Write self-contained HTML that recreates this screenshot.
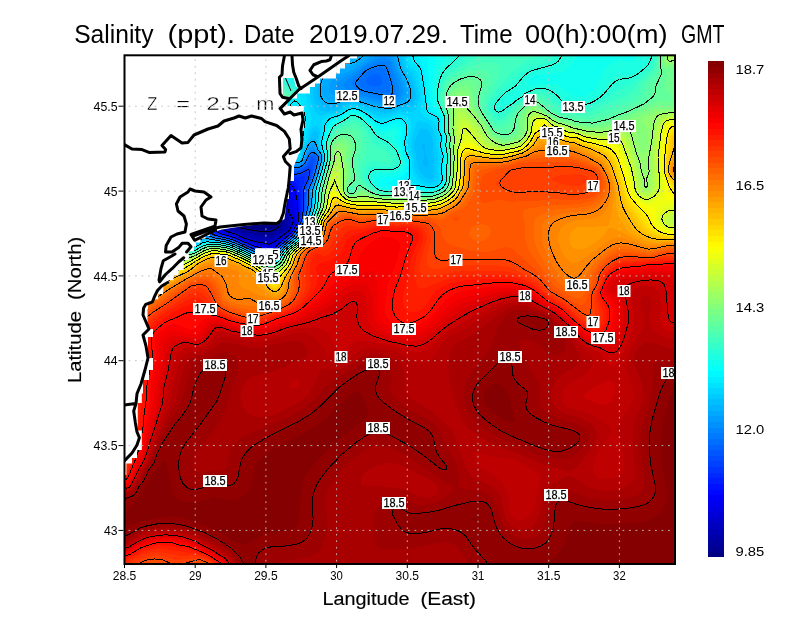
<!DOCTYPE html><html><head><meta charset="utf-8"><title>Salinity</title>
<style>html,body{margin:0;padding:0;background:#fff;}body{width:800px;height:618px;overflow:hidden;font-family:"Liberation Sans",sans-serif;}svg{display:block;}text{font-family:"Liberation Sans",sans-serif;}</style></head><body>
<svg width="800" height="618" viewBox="0 0 800 618">
<rect width="800" height="618" fill="#fff"/>
<defs><clipPath id="pc"><rect x="124.5" y="55.3" width="550.5" height="508.7"/></clipPath></defs>
<g clip-path="url(#pc)">
<rect x="124.5" y="55.3" width="550.5" height="508.7" fill="#000085"/>
<g shape-rendering="crispEdges"><path fill="#000091" d="M122.5,51.3 678.5,51.3 678.5,567.3 120.5,567.3 120.5,51.3ZM233.3,197.3 228.1,201.3 225.3,207.3 225.1,211.3 225.9,215.3 228,219.3 229.8,221.3 234.5,224.1 244.5,227.5 260.5,230 268.5,229.8 272.5,228.8 275.2,227.3 277,225.3 277.7,223.3 277.6,219.3 274.1,211.3 268.5,204.6 260.5,199.6 252.5,196.7 242.5,195.4 234.5,196.8Z"/>
<path fill="#00009c" d="M122.5,51.3 678.5,51.3 678.5,567.3 120.5,567.3 120.5,51.3ZM237.6,191.3 232.5,192.3 228.5,194 224.5,197.2 221.9,201.3 220.8,205.3 220.9,211.3 222.5,216.8 224.5,220.4 227.2,223.3 230.3,225.3 242.5,229.8 250.5,230.8 258.5,232.8 268.5,233.1 272.5,232.4 276.5,230.6 280.5,227.4 281.5,225.3 281.4,219.3 275.7,207.3 270.2,201.3 260.5,195.6 248.5,192 238.5,191.2Z"/>
<path fill="#0000a8" d="M122.5,51.3 678.5,51.3 678.5,567.3 120.5,567.3 120.5,51.3ZM236,187.3 230.5,188.1 224.5,190.7 221.3,193.3 218.5,197.3 216.8,203.3 216.9,209.3 218.6,215.3 221.9,221.3 224.5,224.3 228.5,226.9 244.5,232.7 250.5,233.1 258.5,235.6 270.5,235.7 274.5,234.4 280,231.3 282.6,229.3 284.9,225.3 284.6,219.3 280.1,209.3 276.6,203.3 270.1,197.3 258.5,191.5 246.5,188.1 236.5,187.3Z"/>
<path fill="#0000b4" d="M122.5,51.3 678.5,51.3 678.5,567.3 120.5,567.3 120.5,51.3ZM224.7,185.3 220.5,187.6 216.5,191.4 214.3,195.3 212.9,201.3 212.9,205.3 214.2,211.3 216.7,217.3 220.6,223.3 226.5,227.9 236.5,231.2 244.5,234.8 250.5,235.7 258.5,238 268.5,238.4 272.5,237.7 280.3,233.3 285.6,229.3 287,227.3 288,223.3 287.4,219.3 281.1,205.3 277,199.3 272.5,195.4 266.5,191.9 250.5,185.7 236.5,183.5 226.5,184.7Z"/>
<path fill="#0000bf" d="M122.5,51.3 678.5,51.3 678.5,567.3 120.5,567.3 120.5,51.3ZM222.5,181.3 218.2,183.3 213.5,187.3 211,191.3 209.2,197.3 209.2,203.3 210.5,209.3 214.1,217.3 218.2,223.3 222.2,227.3 225.9,229.3 236.5,232.7 244.5,236.4 258.5,240.1 268.5,240.9 272.5,240 287.9,229.3 290.4,223.3 290,219.3 286.4,213.3 283,203.3 280.5,199 276.5,195 270.5,191 260.5,186.3 250.5,182.7 242.5,180.7 234.5,179.8 228.5,180 222.5,181.3Z"/>
<path fill="#0000cb" d="M122.5,51.3 678.5,51.3 678.5,567.3 120.5,567.3 120.5,51.3ZM220.1,177.3 214.5,179.9 210.4,183.3 206.7,189.3 205.2,195.3 205.3,201.3 206.7,207.3 209.3,213.3 214.5,221.3 219.9,227.3 222.8,229.3 236.5,234 243.2,237.3 256.5,241.5 266.5,243 270.5,242.8 274.5,240.9 288.5,230.3 290.5,227.5 292.5,222.2 292.4,219.3 288.3,213.3 285.7,203.3 282.6,197.3 278.7,193.3 272.5,189.3 262.5,184.4 250.5,179.8 234.5,176.2 226.5,176.1 220.5,177.2Z"/>
<path fill="#0000d6" d="M122.5,51.3 678.5,51.3 678.5,567.3 120.5,567.3 120.5,51.3ZM217.3,173.3 210.5,176.4 206.5,179.9 203.1,185.3 201.4,191.3 201.2,197.3 202.2,203.3 205.4,211.3 209.2,217.3 217.9,227.3 222.5,230.3 254.5,242.2 266.5,244.9 270.5,244.9 274.5,242.6 288.9,231.3 290.7,229.3 294.4,221.3 294.2,219.3 289.4,211.3 287.6,201.3 284.5,195.4 280.3,191.3 273.9,187.3 260.5,181 248.5,176.3 232.5,172.4 224.5,172.1 218.5,173Z"/>
<path fill="#0000e2" d="M122.5,51.3 678.5,51.3 678.5,567.3 120.5,567.3 120.5,51.3ZM213.7,169.3 208.5,171.5 202.5,176.3 199.3,181.3 197.4,187.3 197,193.3 198.3,201.3 201.4,209.3 205.2,215.3 216,227.3 222.1,231.3 236.5,236.1 254.4,243.3 268.5,247 270.5,246.8 290.1,231.3 295.6,221.3 294.9,217.3 291.4,211.3 289.5,199.3 286.5,193.7 281.8,189.3 274.9,185.3 258.5,177.6 244.5,172 228.5,168.3 220.5,168.1 214.5,169.1Z"/>
<path fill="#0000ee" d="M122.5,51.3 678.5,51.3 678.5,567.3 120.5,567.3 120.5,51.3ZM209.2,165.3 202.5,168.6 198.5,172.3 195.2,177.3 193.3,183.3 192.7,191.3 194.1,199.3 197.3,207.3 201,213.3 212.2,225.3 219.9,231.3 234.5,236.1 252.5,243.6 268.5,248.5 270.5,248.5 290.5,231.8 296.6,221.3 296.3,217.3 293.6,211.3 292,199.3 288.5,192 284.5,188.2 278.5,184.7 254.5,173.3 240.5,167.6 232.5,165.3 224.5,164 216.5,163.8 210.5,164.9Z"/>
<path fill="#0000f9" d="M122.5,51.3 678.5,51.3 678.5,567.3 120.5,567.3 120.5,51.3ZM212.3,159.3 204.5,161 198.5,164.1 193.2,169.3 190,175.3 188.3,183.3 188.5,191.3 191.2,201.3 195.3,209.3 203.6,219.3 217.9,231.3 234.5,236.8 254.5,245.1 260.5,246.6 268.5,249.8 270.5,249.9 290.5,232.7 297.4,221.3 297.3,217.3 295.7,211.3 294.7,201.3 291.2,191.3 288.5,188.1 284.4,185.3 242.5,165.3 226.5,160.3 218.5,159.2 212.5,159.3Z"/>
<path fill="#0006ff" d="M122.5,51.3 678.5,51.3 678.5,567.3 120.5,567.3 120.5,51.3ZM202.7,155.3 196.5,157.8 190.5,162.4 186.5,168.2 184.1,175.3 183.4,183.3 184.4,191.3 187.7,201.3 192.1,209.3 201,219.3 216.5,231.5 234.5,237.5 252.8,245.3 270.5,251.1 290.7,233.3 298.1,221.3 296.6,201.3 294.5,192.5 292.5,188.4 289.2,185.3 285.5,183.3 246.5,164.1 234.5,158.9 226.5,156.3 218.5,154.6 210.5,154.2 204.5,154.9Z"/>
<path fill="#0011ff" d="M122.5,51.3 678.5,51.3 678.5,567.3 120.5,567.3 120.5,51.3ZM200.6,149.3 192.5,152 186.5,156.4 182.5,161.5 179.3,169.3 178.3,177.3 179.2,187.3 182.3,197.3 187.5,207.3 192,213.3 198.1,219.3 216.5,232.4 234.5,238.1 252.5,245.8 260.5,248.2 268.5,251.8 270.5,252 272.5,250.9 279.8,243.3 291.3,233.3 298.8,221.3 298.6,203.3 296.5,191.3 294.5,186.3 290.8,183.3 272.5,175.3 244.5,160 232.5,154.4 216.5,149.6 208.5,148.7 202.5,149Z"/>
<path fill="#001dff" d="M122.5,51.3 678.5,51.3 678.5,567.3 120.5,567.3 120.5,51.3ZM195.2,143.3 186.5,146.5 180.5,151.3 175.4,159.3 173.2,167.3 173,177.3 174.8,187.3 178.5,197.3 184.2,207.3 188.9,213.3 195.1,219.3 216.4,233.3 234.5,238.7 252.5,246.5 270.5,252.8 272.5,251.8 280.5,243.4 292,233.3 299.4,221.3 300.1,203.3 298.1,187.3 296.5,183.6 292.7,181.3 274.5,174.2 240.5,154.7 226.5,148 218.5,145.2 210.5,143.3 202.5,142.6 196.5,143Z"/>
<path fill="#0029ff" d="M122.5,51.3 678.5,51.3 678.5,567.3 120.5,567.3 120.5,51.3ZM186.1,137.3 178.5,141.2 172.5,147.5 168.7,155.3 166.9,165.3 167.3,175.3 170.3,187.3 174.6,197.3 180.7,207.3 185.6,213.3 191.9,219.3 214.7,233.3 232.5,238.5 252.5,247.1 262.5,250.4 268.5,253.3 270.5,253.5 272.5,252.5 280.5,244.1 292.5,233.5 299.2,223.3 300.5,219.3 301.4,205.3 300.1,181.3 298.5,180.1 284.5,176.7 274.5,172.3 236.5,148.8 218.5,140.1 208.5,137 200.5,135.8 192.5,135.9 186.5,137.2Z"/>
<path fill="#0034ff" d="M122.5,51.3 678.5,51.3 678.5,567.3 120.5,567.3 120.5,51.3ZM179.7,129.3 172.5,133 166.4,139.3 164,143.3 161.8,149.3 160.2,159.3 160.7,169.3 163.5,181.3 168.4,193.3 175.7,205.3 184.2,215.3 191.3,221.3 213.2,233.3 216.5,234.7 232.5,239 252.5,247.7 260.5,250.2 268.5,253.9 270.5,254.1 272.5,253.3 280.5,244.7 292.5,234.1 299.8,223.3 301.1,219.3 302.4,207.3 302,189.3 305.3,177.3 304.5,176.2 296.5,176.9 290.5,176.5 278.5,172.4 266.2,165.3 232.5,142.4 222.5,136.8 212.5,132.2 202.5,129 194.5,127.7 186.5,127.8 180.5,129Z"/>
<path fill="#0040ff" d="M122.5,51.3 678.5,51.3 678.5,567.3 120.5,567.3 120.5,51.3ZM173.6,119.3 168.5,121.4 164.5,124.1 158.5,130.9 154.5,140 152.7,151.3 153.5,163.3 157,177.3 163.1,191.3 170.5,203.3 177,211.3 182.9,217.3 194.4,225.3 206.5,230.4 214.5,234.7 232.5,239.5 252.5,248.2 268.5,254.4 270.5,254.6 273.2,253.3 280.6,245.3 292.5,234.8 300.4,223.3 301.7,219.3 303.4,207.3 303.4,189.3 304.5,185.3 307.7,179.3 308.5,172.8 306.5,171.8 298.5,174.6 294.5,175.1 288.5,174.4 282.5,172.4 269.6,165.3 232.5,137.9 212.5,125.9 202.5,121.5 192.5,118.7 182.5,117.8 174.5,119Z"/>
<path fill="#004bff" d="M122.5,51.3 678.5,51.3 678.5,567.3 120.5,567.3 120.5,51.3ZM164.7,107.3 156.5,111.8 150,119.3 145.8,129.3 144.6,135.3 144,143.3 145.4,157.3 149.1,171.3 155.2,185.3 163.7,199.3 169.9,207.3 177.4,215.3 184.4,221.3 190.6,225.3 206.5,231.4 214.5,235.4 232.5,240 252.5,248.7 270.5,255.2 273.9,253.3 281.2,245.3 292.5,235.4 300.9,223.3 302.3,219.3 304.4,207.3 304.6,189.3 309.7,177.3 311.3,169.3 310.5,166.9 308.5,167.3 300.5,172.3 296.5,173.3 290.5,173.2 282.5,170.7 275.9,167.3 267.1,161.3 228.5,130 216.5,121.4 206.5,115.4 194.5,109.7 184.5,106.7 174.5,105.7 166.5,106.8Z"/>
<path fill="#0057ff" d="M122.5,51.3 678.5,51.3 678.5,567.3 120.5,567.3 120.5,51.3ZM153.8,91.3 148.5,94 144.5,97.3 138.5,105.8 136.3,111.3 134.5,118.2 133.6,133.3 135.7,149.3 140.6,165.3 147.9,181.3 158,197.3 166.1,207.3 173.8,215.3 182.5,222.4 190.5,227.2 206.5,232.2 214.5,236 232.5,240.4 252.5,249.3 268.5,255.5 272.5,255 281.8,245.3 293.2,235.3 301.5,223.3 302.9,219.3 305.2,207.3 305.7,189.3 310.4,179.3 312.6,171.3 312.9,163.3 313.7,159.3 312.5,158.5 308,165.3 304.5,168.5 300.5,170.8 296.5,171.9 292.5,172 284.5,170 276.5,165.7 267.6,159.3 222.5,119 208.5,108 196.5,100.1 184.5,94 172.5,90.2 162.5,89.5 154.5,91Z"/>
<path fill="#0063ff" d="M122.5,51.3 678.5,51.3 678.5,567.3 120.5,567.3 120.5,140.1 124.5,145.3 136.7,171.3 147.6,189.3 162.2,207.3 177.4,221.3 184.5,226.1 190.9,229.3 206.5,233.1 214.5,236.6 230.5,240.2 252.5,249.7 268.5,255.9 270.5,256.1 274.5,254 282.4,245.3 292.5,236.6 302,223.3 306.1,207.3 306.7,189.3 311.2,179.3 316,159.3 315.9,157.3 314.5,155.9 312.5,155.9 310.5,157.3 307.8,163.3 304.5,167 300.5,169.5 296.5,170.6 288.5,169.9 278.8,165.3 270.6,159.3 261.6,151.3 220.5,109.5 200.5,90.8 182.5,77 174.5,72.1 166.5,68.3 154.5,65 148.5,64.8 142.5,65.8 134.5,69.9 122.5,82.4 120.5,83.5 120.5,51.3Z"/>
<path fill="#006eff" d="M184.5,51.3 678.5,51.3 678.5,567.3 120.5,567.3 120.5,161.1 122.5,162 126.5,166.2 141,187.3 154.3,203.3 166.5,215.3 179.5,225.3 186.5,229.3 191.6,231.3 206.5,233.9 214.5,237.2 230.5,240.6 252.5,250.2 266.5,255.7 270.5,256.6 274.5,254.6 282.5,245.7 292.5,237.2 302.6,223.3 306.9,207.3 307.6,189.3 312,179.3 317.1,159.3 316.5,155.8 314.5,154.5 312.5,154.4 310.5,155.5 309.2,157.3 306.4,163.3 304.5,165.6 300.5,168.3 294.5,169.5 290.5,169 284.5,166.8 273.3,159.3 258.9,145.3 238,121.3 187,59.3 184.4,55.3 183,51.3ZM370.4,75.3 366.7,79.3 366.2,81.3 366.7,83.3 369.4,85.3 372.5,86.1 376.5,86.3 380.5,85.3 382,83.3 382.3,81.3 381.3,77.3 379.8,75.3 376.5,73.9 370.5,75.2Z"/>
<path fill="#007aff" d="M202.5,51.3 678.5,51.3 678.5,567.3 120.5,567.3 120.5,172.5 122.5,173.3 126.5,176.6 142.3,195.3 156,209.3 167.6,219.3 180.5,228.1 186.8,231.3 192.5,233.2 206.5,234.7 213,237.3 230.5,241.1 252.5,250.7 266.5,256.2 270.5,257 274.5,255.3 282.5,246.3 293,237.3 303.2,223.3 307.6,207.3 308.5,189.3 312.8,179.3 318,159.3 317.3,155.3 314.5,153.4 312.5,153 310.5,153.9 309.2,155.3 305.3,163.3 303.4,165.3 298.5,168 294.5,168.4 290.5,167.7 284.5,165.3 278.5,161.3 271.6,155.3 262.2,145.3 252.3,133.3 229.3,101.3 217.9,83.3 207.7,65.3 203.8,57.3 202.2,51.3ZM378.5,67.3 370.5,69.7 364.9,73.3 358.7,81.3 358.3,83.3 358.8,85.3 362.5,88.8 366.5,90.2 386.5,93.4 388.5,92.7 390.3,89.3 390.2,85.3 388.5,78.2 386.5,72.4 384.5,69 382.5,67.6 378.5,67.3Z"/>
<path fill="#0085ff" d="M216.5,51.3 678.5,51.3 678.5,567.3 120.5,567.3 120.5,180.9 126.5,184.5 145.1,203.3 158.7,215.3 172.2,225.3 182.5,231.2 192.5,234.8 206.5,235.4 214.5,238.2 228.5,240.9 242.5,246.3 252.5,251.2 266.5,256.6 270.5,257.5 274.5,255.8 282.5,246.8 293.6,237.3 303.8,223.3 308.4,207.3 309.3,189.3 314.5,176 318.8,159.3 318.5,155.8 316.5,153.4 312.5,151.6 310.5,152.2 308,155.3 304.5,162.9 302.5,165 298.5,166.9 294.5,167.3 288.5,165.7 284,163.3 272.3,153.3 263.6,143.3 253.3,129.3 236,101.3 227.9,85.3 221.9,71.3 217.7,59.3 216.2,51.3ZM377,63.3 364.5,69.3 352.2,81.3 351.1,83.3 351.3,85.3 355.7,89.3 362.5,92.8 378.5,96.2 388.4,99.3 390.5,99 393.4,97.3 394.9,95.3 395.7,89.3 389.3,67.3 388.5,65.1 386.5,62.8 382.5,61.8 378.5,62.7Z"/>
<path fill="#0091ff" d="M228.5,51.3 678.5,51.3 678.5,567.3 120.5,567.3 120.5,187.7 126.5,191 144.7,207.3 159.8,219.3 171.7,227.3 182.5,233.1 192.5,236.3 206.5,236.1 212.5,238.2 228.5,241.3 240.5,245.9 252.5,251.6 266.5,257.1 270.5,258 274.5,256.4 282.5,247.3 294.2,237.3 304.4,223.3 309.1,207.3 310.2,189.3 314.5,178.2 319.1,161.3 319.6,157.3 319.1,155.3 317.5,153.3 312.5,149.5 310.5,150 308.5,152.5 304.6,161.3 302.5,164 298.5,166 292.5,165.8 286.6,163.3 282.5,160.4 271.3,149.3 263.7,139.3 255.9,127.3 247.9,113.3 241.2,99.3 235.6,85.3 231.9,73.3 229.1,61.3 228,51.3ZM377.2,59.3 364.5,66.5 354.5,75.1 347.8,79.3 343.9,83.3 343.4,85.3 344.3,87.3 346.5,88.6 361.5,95.3 386.5,101.8 388.5,102.1 392.5,101.2 397.6,97.3 398.8,95.3 399.6,91.3 398.7,85.3 394.2,73.3 391.5,63.3 390.5,61.2 386.5,58 382.5,57.4 378.5,58.6Z"/>
<path fill="#009cff" d="M240.5,51.3 380.7,51.3 371.8,59.3 362.5,65.5 354.5,71.9 341.1,79.3 337.4,83.3 336.3,87.3 337.1,89.3 340.5,91.5 348.5,92.5 362.5,97.9 388.5,104.1 392.7,103.3 399.3,99.3 402.3,95.3 403,91.3 402,85.3 396.2,71.3 393.5,61.3 390.5,56.4 385.1,51.3 678.5,51.3 678.5,567.3 120.5,567.3 120.5,193.6 126.5,196.6 147.4,213.3 161.5,223.3 171.3,229.3 182.5,234.9 192.5,237.8 206.5,236.9 212.5,238.7 228.5,241.7 240.5,246.3 252.5,252 266.5,257.6 270.5,258.4 274.5,257 283,247.3 296.4,235.3 305,223.3 309.8,207.3 310.5,191.3 316.5,173.9 319.8,161.3 320.3,157.3 319.8,155.3 312.5,146.2 310.3,147.3 302.5,162.9 298.5,165.1 294.5,165.1 289.3,163.3 284.5,160.1 274,149.3 266.8,139.3 259.7,127.3 252.7,113.3 247,99.3 243.2,87.3 240.6,75.3 239.1,63.3 238.7,51.3Z"/>
<path fill="#00a8ff" d="M250.5,51.3 373.4,51.3 369.5,57.3 358.5,65.8 350.5,70.9 340.5,74.3 333.4,79.3 329.8,83.3 328.9,85.3 328.6,89.3 330.7,93.3 334.5,95.3 338.5,95.8 348.5,95 368.5,101.8 388.5,106 394.5,104.4 402.5,99.9 405.1,97.3 406.4,93.3 405.1,85.3 398.6,71.3 395.2,59.3 391.5,51.3 678.5,51.3 678.5,567.3 120.5,567.3 120.5,198.8 126.5,201.6 145.4,215.3 160.6,225.3 171,231.3 182.5,236.6 192.5,239.3 206.5,237.6 226.5,241.6 236.5,245 252.5,252.5 266.5,258 270.5,258.9 274.8,257.3 283.6,247.3 293.2,239.3 297,235.3 305.6,223.3 310.5,207.3 311.3,191.3 316.7,175.3 320.5,161.4 320.6,155.3 315.9,149.3 314.5,145.2 312.5,144 310.5,144.8 308.5,147.8 302.5,161.7 298.5,164.2 294.5,164.1 288.5,161.3 283.6,157.3 273.6,145.3 267.5,135.3 261.4,123.3 255.7,109.3 251.9,97.3 249.4,85.3 248.3,75.3 249,51.3Z"/>
<path fill="#00b4ff" d="M260.5,51.3 368,51.3 366.1,55.3 356.5,63.2 350.5,66 338.5,67.3 334.5,69.4 328.5,74 324.5,79.1 322.9,83.3 322,89.3 322.9,95.3 326,99.3 330.5,101 338.5,100.7 344.5,98.2 348.5,97.6 372.5,105.2 388.5,107.9 392.5,107.2 406.3,101.3 408.3,99.3 409.7,95.3 409.7,91.3 408.2,85.3 400.2,69.3 395.1,51.3 678.5,51.3 678.5,567.3 120.5,567.3 120.5,203.4 126.5,206.1 159.8,227.3 180.5,237.5 192.5,240.7 206.5,238.2 226.5,242 234.5,244.6 252.5,252.9 268.5,259.1 272.5,259 274.5,258.1 284.1,247.3 296,237.3 305.1,225.3 307.7,219.3 311.5,205.3 312,191.3 320.7,163.3 321.5,159.3 321.2,155.3 317.2,149.3 314.9,143.3 312.5,142 310.5,143 308.5,145.4 301.8,161.3 298.5,163.3 294.5,162.9 288.5,159.5 283.9,155.3 279,149.3 273.8,141.3 268.6,131.3 263.6,119.3 259.7,107.3 257,95.3 255.8,85.3 255.8,75.3 259.4,51.3Z"/>
<path fill="#00bfff" d="M272.5,51.3 359.2,51.3 356.2,55.3 350.5,57.3 346.5,56.6 336.5,52.2 334.5,52.2 330.5,54.5 326.5,58.4 322.3,65.3 318.5,77.7 317,91.3 317.2,95.3 318.5,99.6 322.5,105.4 324.9,107.3 328.5,108.6 332.5,108.4 336.5,107.2 340.5,105.3 344.5,102.1 348.5,100.6 356.5,102 376.5,108.6 388.5,110.1 408.5,104.3 411.7,101.3 412.9,97.3 412.8,91.3 411.2,85.3 408.7,79.3 401.7,67.3 398.1,51.3 678.5,51.3 678.5,567.3 120.5,567.3 120.5,207.7 126.5,210.2 159.1,229.3 181,239.3 192.5,242.1 206.5,238.9 226.5,242.4 236.5,245.8 252.5,253.3 268.5,259.6 272.5,259.5 274.5,258.7 284.5,247.4 296.5,237.3 305.8,225.3 308.3,219.3 312.2,205.3 313.2,189.3 318.5,173.3 321.8,161.3 322.2,157.3 321.1,153.3 317.7,147.3 316.5,142.8 314.5,139.4 312.5,139.5 307.4,145.3 303.8,153.3 302.1,159.3 300.7,161.3 298.5,162.3 294.5,161.7 290.5,159.3 284.5,153.3 278.9,145.3 274.6,137.3 269.5,125.3 265.8,113.3 263.3,101.3 262.3,91.3 262.5,81.3 263.7,73.3 271.1,51.3ZM422,145.3 422.5,149.3 424.3,151.3 423.2,163.3 424.5,166.1 426.5,166.8 427.4,165.3 428,161.3 426.5,155.7 424.7,153.3 424.7,145.3 424.5,144.3 422.5,143.9Z"/>
<path fill="#00cbff" d="M288.5,53.2 289.9,51.3 302.9,51.3 308.5,59.5 311,65.3 312.5,72 313.3,93.3 314.2,99.3 316.5,105.4 320.5,110.1 324.5,111.7 333.2,111.3 339.1,109.3 346.5,104.2 352.5,103.2 360.5,105 376.5,111.4 384.5,112.6 388.5,112.4 398.5,109.3 410.5,107.5 413.4,105.3 415.4,101.3 416,95.3 414.5,86.5 411.1,77.3 404.1,67.3 400.9,51.3 678.5,51.3 678.5,567.3 120.5,567.3 120.5,211.7 126.5,214.1 162.7,233.3 182.5,241.3 190.5,243.3 194.5,243.4 202.5,240.3 206.5,239.6 222.5,241.9 234.5,245.4 252.5,253.8 268.5,260 272.5,260 276.5,257.7 284.5,247.9 297.1,237.3 305.1,227.3 307.4,223.3 312.5,207.3 313.9,189.3 318.5,175.3 322.7,159.3 322.5,155.1 318.8,147.3 317.9,143.3 317.3,139.3 318.1,133.3 316.5,130.9 314.5,131 312.5,133.2 306.2,145.3 302.8,153.3 301.1,159.3 298.5,161.3 296.5,161.2 290.6,157.3 284,149.3 278.4,139.3 273.8,127.3 270.5,115.3 268.7,103.3 268.2,91.3 269.5,81.3 271.9,73.3 275.1,67.3 280.5,60.5 288.4,53.3ZM420.5,129.3 418.5,132 414.2,143.3 414.2,147.3 416.4,157.3 416.7,165.3 420.5,173.3 424.2,177.3 428.5,179.5 432.6,179.3 434.2,177.3 433.9,169.3 434.8,159.3 433,149.3 432.5,139.1 430.5,133.7 426.7,129.3 422.5,128.3 420.5,129.3Z"/>
<path fill="#00d6ff" d="M404.5,51.3 678.5,51.3 678.5,567.3 120.5,567.3 120.5,215.5 126.5,217.7 162.6,235.3 182.5,242.7 190.5,244.5 194.5,244.6 202.5,241.1 206.5,240.3 222.5,242.3 234.5,245.8 266.5,259.9 270.5,260.8 274.5,259.8 276.5,258.3 284.5,248.4 297.7,237.3 307.1,225.3 313.1,207.3 314.2,191.3 322.5,163.4 323.4,157.3 319.1,143.3 319,139.3 320.3,133.3 320.2,131.3 318.5,127.5 316.5,126 314.5,126.2 312.5,127.7 310.5,130.8 307.7,139.3 301.4,153.3 300.5,157.6 298.5,159.8 295.8,159.3 292.5,156.6 288,151.3 284.2,145.3 280.6,137.3 277.9,129.3 275.5,119.3 274.2,109.3 273.9,99.3 274.5,91.3 276.3,83.3 278.9,77.3 284.5,70.5 290.5,67.4 296.5,67 302.5,69.9 306.5,75 308.5,80.2 310.2,97.3 312.1,105.3 314.9,111.3 318.5,114.7 322.5,115 336.5,112.5 340.5,110.8 348.5,105.7 352.5,105.1 360.5,106.7 376.5,114.5 380.5,115.7 386.5,115.3 400.5,111.5 412.5,112.1 415.8,109.3 418.2,103.3 418.9,97.3 418.3,91.3 413.9,75.3 412.5,73.1 408.3,69.3 405.8,65.3 403.8,51.3ZM418.7,121.3 416.5,123.1 415.5,125.3 410.8,143.3 411.1,149.3 413.7,159.3 414.2,167.3 416.5,173.7 420.4,179.3 426.5,182.7 432.5,183.5 436.9,181.3 438.3,177.3 436.9,169.3 438.4,157.3 436.3,147.3 436.2,137.3 432.5,128.1 430.5,125.3 426.5,122.7 420.5,121Z"/>
<path fill="#00e2ff" d="M408.5,51.3 678.5,51.3 678.5,567.3 120.5,567.3 120.5,219 126.5,221.1 162.8,237.3 179.7,243.3 192.5,245.8 196.5,245.2 202.5,241.9 206.5,240.9 222.5,242.7 234.5,246.2 266.5,260.4 270.5,261.2 274.5,260.4 276.5,259 284.5,248.9 298.3,237.3 306.6,227.3 309.3,221.3 314.1,205.3 315.3,189.3 323.9,159.3 323.8,155.3 320.9,147.3 320.2,143.3 320.4,139.3 322,133.3 321.5,121.3 322.8,119.3 326.5,116.7 330.3,115.3 338.5,113.7 350.5,107 354.5,106.9 360.5,108.3 369.8,113.3 376.5,117.9 380.5,119.2 384.5,118.8 398.5,114.3 402.5,114.5 408.1,117.3 410.5,121 411.1,125.3 410.7,131.3 408.2,141.3 408,145.3 408.8,151.3 411.6,159.3 412.4,169.3 413.9,175.3 416.5,180.1 421.1,183.3 426.7,185.3 430.5,185.8 436.5,184.3 438.5,183 440.5,179.3 439.1,169.3 440.9,157.3 438.6,147.3 439.1,137.3 434.5,123.1 432.7,121.3 424.5,116.8 421.5,113.3 421,109.3 421.6,101.3 421.3,93.3 417.6,75.3 416.1,71.3 414.2,69.3 410.5,67.3 408.5,64.8 407,57.3 407,51.3ZM292.5,76.8 296.5,76.6 298.5,77.2 302.5,80.3 304.3,83.3 305.5,87.3 306.9,101.3 311.7,117.3 311.2,121.3 308.1,129.3 305.8,139.3 298.5,156.8 296.5,157 292.5,153.3 286.5,143.9 282.5,133.3 279.8,119.3 279.6,105.3 281.6,91.3 284.7,83.3 287.9,79.3 291.1,77.3Z"/>
<path fill="#00eeff" d="M412.5,51.3 678.5,51.3 678.5,567.3 120.5,567.3 120.5,222.4 163.1,239.3 180.5,244.8 192.5,246.9 196.5,246.1 202.5,242.7 206.5,241.6 222.5,243.1 234.5,246.6 266.5,260.9 270.5,261.7 274.5,261 276.9,259.3 284.6,249.3 299,237.3 306.5,228.5 309.2,223.3 314.5,206.3 315.9,189.3 324.5,159.3 324.5,155.3 321.9,147.3 321.3,141.3 323.4,133.3 324.8,123.3 327.6,119.3 330.5,117.3 338.5,115.4 348.5,109.2 352.5,108.3 360.5,109.9 369.6,115.3 376.5,120.9 380.5,122.4 384.5,121.9 398.5,117.1 400.5,117.3 404.2,119.3 407,123.3 407.9,127.3 407.7,133.3 405.3,143.3 407,153.3 409.1,157.3 410.2,161.3 410.5,174.2 411.6,181.3 412.9,183.3 428.5,187.4 432.5,187.3 438.1,185.3 440.5,183.1 442.1,179.3 440.8,167.3 442.7,157.3 440.3,147.3 441.3,137.3 438.1,129.3 438.3,121.3 436.5,118.2 429.6,115.3 427,113.3 425.8,111.3 423.7,91.3 420.8,73.3 418.5,68 412,61.3 410.9,57.3 411.2,51.3ZM294.5,88.4 296.5,88 298.5,89.8 300.2,99.3 305.5,111.3 306.8,117.3 303.4,139.3 300.8,147.3 298.5,150.2 296.5,151.2 294.5,150.3 290.5,144.9 286.5,133.7 284.9,123.3 284.9,115.3 286.5,105.9 290.5,94.6 293.4,89.3Z"/>
<path fill="#00f9ff" d="M418.5,51.3 678.5,51.3 678.5,567.3 120.5,567.3 120.5,225.6 163.7,241.3 178.5,245.7 192.5,247.8 196.5,247 202.5,243.4 206.5,242.2 220.5,243.2 228.5,244.9 234.5,247 266.5,261.4 270.5,262.3 274.5,261.5 277.6,259.3 285.1,249.3 299.7,237.3 308.5,226.6 314.9,207.3 316.6,189.3 324.7,161.3 325.1,155.3 322.3,143.3 325.7,127.3 327.6,123.3 331.6,119.3 340.5,116 350.5,109.9 356.5,110 360.5,111.3 368.5,116.5 374.5,121.9 380.5,125.1 384.5,124.8 390.5,122 396.5,120.3 400.5,121 402.5,122.6 404.5,126 405.3,131.3 402.8,141.3 402.9,143.3 405,153.3 408.2,159.3 408.8,163.3 408.1,171.3 406.9,175.3 402.5,181.3 401.8,183.3 403.8,185.3 408.1,187.3 410.5,187.6 418.5,186.9 430.5,188.8 438.5,186.4 441.7,183.3 443.2,179.3 442.2,167.3 444,157.3 441.6,147.3 442.9,137.3 439.6,129.3 440.6,119.3 438.5,116.1 430.5,110 429,107.3 427.3,99.3 424.3,71.3 423.3,67.3 418.7,57.3 418.1,51.3ZM296.5,113 298.5,113.8 299.7,115.3 300.6,117.3 301,121.3 300.2,135.3 298.5,141.6 296.5,143.1 294.5,141.3 292.5,136.8 291,127.3 292.2,117.3 294.5,113.7 295.5,113.3Z"/>
<path fill="#06fff9" d="M428.5,51.3 678.5,51.3 678.5,567.3 120.5,567.3 120.5,228.7 164.7,243.3 182.5,247.7 194.5,248.4 202.5,244.1 208.5,242.6 224.5,244.3 236.5,248.2 266.5,261.9 270.5,262.8 274.5,262.1 278.3,259.3 285.7,249.3 302.3,235.3 307.6,229.3 309.7,225.3 315.5,207.3 317.2,189.3 325.3,161.3 325.7,155.3 323.3,143.3 326.8,129.3 328.3,125.3 332.5,120.9 340.5,117.5 348.5,112 352.5,110.9 358.5,111.8 361.6,113.3 374.5,123.8 380.5,127.5 384.5,127.4 392.5,123.8 396.5,123.2 400.5,125.3 401.8,127.3 402.5,133.3 400.5,141.3 403,149.3 403.4,153.3 407.2,161.3 406.5,168.7 404.6,173.3 402.5,175.7 398.5,178.2 389.8,181.3 387.4,183.3 394.5,186.4 402.5,187.5 408.9,189.3 418.5,188.4 430.5,189.9 439.1,187.3 442.5,183.9 444.3,179.3 443.4,167.3 445,155.3 443.1,149.3 442.7,145.3 444.1,137.3 440.9,129.3 442,121.3 441.3,117.3 432.9,107.3 430,99.3 428.8,83.3 427.8,51.3Z"/>
<path fill="#11ffee" d="M438.5,51.3 678.5,51.3 678.5,567.3 120.5,567.3 120.5,231.7 166,245.3 180.5,248.6 194.5,249.2 204.5,243.9 208.5,243.1 216.5,243.4 224.5,244.7 238.2,249.3 266.5,262.4 272.5,263.2 276.5,261.7 278.5,259.9 282.7,253.3 286.2,249.3 301.1,237.3 306.9,231.3 309.5,227.3 316.1,207.3 317.8,189.3 325.9,161.3 326.3,155.3 324.3,143.3 328.1,129.3 330.1,125.3 332.5,122.8 342.5,117.8 350.5,112.4 354.5,112.3 360.5,114.1 376.5,127.5 380.5,130 384.5,130.1 394.5,126 398,127.3 399.3,129.3 399.6,133.3 398.2,141.3 401.4,149.3 402.5,155.3 405.7,161.3 404.9,167.3 402.5,171.9 398.5,174.7 392.5,176.4 384.5,177.5 380.5,179.2 379.3,181.3 379.5,183.3 380.7,185.3 384.5,187.1 410.5,190.5 418.5,189.7 430.5,190.8 436.5,189.4 440.5,187.5 443.8,183.3 445.1,179.3 444.5,167.3 446,157.3 443.7,145.3 445.1,137.3 441.9,129.3 443,121.3 442.6,117.3 433.7,103.3 431.8,93.3 432.8,73.3 437.6,51.3Z"/>
<path fill="#1dffe2" d="M448.5,51.3 577.6,51.3 576.6,55.3 573.5,61.3 568.9,67.3 564.5,71.1 558.5,73 546.5,72.6 536.3,75.3 532.5,76.9 530.5,78.6 528.7,81.3 528.2,83.3 529.1,85.3 530.5,85.5 540.5,83.5 556.5,84.3 560.5,86.1 570.5,94.6 574.5,96.3 578.5,96.9 586.5,95.6 593,91.3 596.5,86.6 605.4,69.3 610.5,63.8 614.5,61.5 620.5,60.3 628.5,61.1 632.5,60.7 635,59.3 636.5,57.3 637,51.3 678.5,51.3 678.5,567.3 120.5,567.3 120.5,234.6 166.5,246.9 180.5,249.7 194.5,249.9 204.5,244.5 208.5,243.6 222.5,244.7 228.5,246 236.5,249 266.5,262.9 272.5,263.8 276.5,262.3 278.5,260.7 283.2,253.3 286.7,249.3 301.9,237.3 309.3,229.3 316.7,207.3 318.5,189.3 326.4,161.3 326.9,155.3 325.3,147.3 325.2,143.3 329.5,129.3 331.9,125.3 334.4,123.3 342.5,119.2 348.5,114.8 352.5,113.4 356.5,114 360.5,115.5 371.9,125.3 376.5,130.4 380.5,132.9 386.5,133.1 392.5,130.2 394.5,130 395.7,131.3 395.2,141.3 399.5,149.3 400.9,155.3 403.9,161.3 403.4,165.3 401.4,169.3 398.5,171.6 390.5,173.7 380.5,174.3 376.5,175.8 375.1,177.3 374.8,181.3 376.9,185.3 378.9,187.3 382.5,188.9 400.5,190.2 408.5,191.5 418.5,190.8 430.5,191.7 439,189.3 443.6,185.3 445.8,179.3 445.4,167.3 446.8,157.3 444.7,145.3 445.9,137.3 442.9,129.3 443.9,121.3 443.6,117.3 435.3,101.3 434.3,91.3 435.6,79.3 437.7,71.3 440.5,65 446.5,55.3 447.8,51.3Z"/>
<path fill="#29ffd6" d="M458.5,51.3 565.4,51.3 564.7,55.3 563.1,59.3 558.5,64.2 554.5,66 532.5,71.8 526.5,75.3 523,79.3 517.8,87.3 506.5,94 501.2,99.3 498.1,103.3 496.5,106.7 497.1,109.3 498.5,110.2 500.5,109.9 508.1,105.3 512.5,102.4 516.5,98.5 520.5,96.9 524.5,92.1 538.5,87.2 544.5,87.4 551.2,89.3 557.3,93.3 564.5,100.4 570.5,103 578.5,103.8 586.5,102.7 594.2,99.3 599.6,95.3 603.2,91.3 610.5,80.5 614.5,76.5 618.5,74.9 628.5,75.2 632.5,74.3 636.5,72.5 643.5,67.3 646.5,64.3 649.1,59.3 649.4,57.3 648.2,51.3 678.5,51.3 678.5,567.3 120.5,567.3 120.5,237.4 166.5,248.4 180.5,250.9 194.5,250.6 204.5,245.1 208.5,244.1 220.5,244.8 228.5,246.4 234.5,248.6 268.5,264.1 272.5,264.3 276.5,262.9 278.7,261.3 283.7,253.3 287.2,249.3 305.1,235.3 310,229.3 317.3,207.3 319.1,189.3 327,161.3 327.5,155.3 326,145.3 327.1,139.3 332.5,126.8 350.5,115.3 352.5,115 356.5,115.5 360.5,117.3 371.5,127.3 376.5,134.3 380.5,136.9 387,139.3 390.5,142 396.8,149.3 401.5,161.3 400.5,165.6 398.5,168.1 396.4,169.3 388.5,170.9 376.5,170.6 374.1,171.3 371.3,173.3 370.2,175.3 370.1,179.3 372.2,183.3 375.9,187.3 378.5,189.3 382.5,190.5 400.5,191.3 408.5,192.4 418.5,191.8 430.5,192.6 436,191.3 440.5,189.4 444.5,185.3 446.6,179.3 446.3,167.3 447.5,157.3 445.5,145.3 446.8,137.3 443.7,129.3 444.8,121.3 444.6,117.3 437.3,101.3 436.5,97.3 436.6,91.3 438.9,79.3 441.2,73.3 444.5,68.2 455.2,57.3 458.1,51.3Z"/>
<path fill="#34ffcb" d="M468.5,51.3 555.2,51.3 553.5,57.3 550.5,60.5 545.3,63.3 532.5,66.9 526.5,69.5 521.4,73.3 500.5,92.5 493.2,101.3 491.3,105.3 491.1,107.3 492.5,111.5 494.5,114.1 498.5,116 502.5,114.4 507.8,109.3 522.5,98.7 526.5,95 534.5,91.4 538.5,90.3 544.5,91 548.5,93 558.5,103.3 564.5,106.5 570.5,107.8 580.5,108.3 586.5,108 590.5,106.8 601.7,101.3 616.5,91 630.5,83.9 640.5,76.2 648.5,69 651.1,65.3 654.3,57.3 652.7,51.3 678.5,51.3 678.5,567.3 120.5,567.3 120.5,240.2 166.5,249.9 180.5,252 194.5,251.2 202.5,246.6 208.5,244.6 220.5,245.1 228.5,246.8 234.5,249 268.5,264.6 272.5,264.9 276.5,263.6 279.3,261.3 284.1,253.3 287.7,249.3 306.2,235.3 310.5,229.8 317.9,207.3 319.7,189.3 327.6,161.3 328.1,155.3 326.9,145.3 328.1,139.3 332.5,129.6 334.5,127.1 350.5,117.5 352.5,117 358.5,118.2 362.5,121.4 368.5,127.3 373,135.3 376.5,139.5 388.5,146.7 393.9,151.3 397.4,159.3 397.2,163.3 395.6,165.3 392.5,166.8 386.5,167.4 374.5,166.3 370.5,167.4 368.5,168.8 366.3,173.3 366.5,179.1 369.3,183.3 373.3,187.3 380.5,191.6 400.5,192.3 408.5,193.3 418.5,192.7 430.5,193.4 440.5,190.2 444.5,186.7 446.9,181.3 447.2,167.3 448.2,157.3 446.3,145.3 447.5,137.3 444.6,129.3 445.3,117.3 439.1,101.3 438.4,95.3 438.8,91.3 441.2,81.3 444.5,74.6 448.5,70.1 462.5,59.3 466.1,55.3 468,51.3Z"/>
<path fill="#40ffbf" d="M480.5,52.1 480.9,51.3 541.9,51.3 539.5,55.3 524.5,62.3 512.5,71.8 502.5,82.5 489.8,99.3 487.7,105.3 489.1,111.3 494.5,118.3 498.5,120 501.7,119.3 504.5,117.4 511.6,109.3 528.5,96.2 536.5,93.5 540.5,93.5 544.5,95.1 556.5,107.2 562.5,109.9 584.5,112.4 592.5,110.7 626.4,95.3 632.5,91 640.2,81.3 652.5,68.6 656.5,57.3 655.4,51.3 678.5,51.3 678.5,567.3 120.5,567.3 120.5,242.9 168.5,251.6 180.5,253.1 194.5,251.8 204.5,246.2 208.5,245.1 218.5,245.2 226.5,246.7 234.4,249.3 268.5,265.2 272.5,265.5 276.5,264.1 280,261.3 284.6,253.3 288.2,249.3 306.5,235.9 310.5,231.3 314.7,217.3 318.5,207.3 320.3,189.3 328.2,161.3 328.7,155.3 327.8,145.3 329.2,139.3 332.5,132.8 336.5,128 352.5,119.7 356.5,120.1 361.3,123.3 366.4,129.3 371.6,141.3 374.5,145.2 386.5,151.4 390.5,154.7 392,157.3 392.3,159.3 391.4,161.3 388.5,162.6 384.5,162.6 372.5,160.7 368.5,162 365.2,165.3 363.1,171.3 363.3,177.3 365,181.3 370.8,187.3 376.5,191.3 382.5,192.9 428.5,194.3 434.5,193.4 440.5,191 444.9,187.3 447.6,181.3 448.9,157.3 447.1,145.3 448.3,137.3 445.6,131.3 445.3,129.3 446.1,117.3 441.8,105.3 440.4,99.3 440.2,95.3 441.3,89.3 444.5,80.2 448.5,74.8 452.5,71.6 475.3,57.3 479.9,53.3Z"/>
<path fill="#4bffb4" d="M658.5,51.3 678.5,51.3 678.5,567.3 120.5,567.3 120.5,245.5 170.5,253.3 180.5,254.2 194.5,252.3 202.5,247.7 208.5,245.6 218.5,245.6 226.5,247 233.4,249.3 268.5,265.8 272.5,266.1 274.5,265.6 278.5,263.5 280.5,261.5 285.1,253.3 288.7,249.3 294.5,244.6 306.5,236.8 311.2,231.3 315.2,217.3 319.1,207.3 321,189.3 328.8,161.3 329.4,157.3 328.5,149.3 329,143.3 332.5,135.5 335.8,131.3 338.5,129.1 346.5,125 352.5,123.2 354.6,123.3 358.5,125 362.3,129.3 365.7,139.3 366.7,149.3 365.9,153.3 360.5,164.9 360,169.3 360.4,175.3 362.6,181.3 371.1,189.3 376.5,192.4 380.5,193.7 408.5,194.9 432.5,194.6 438.5,192.7 444.1,189.3 447,185.3 448.2,181.3 449.5,157.3 447.8,145.3 449,137.3 446.3,131.3 446.9,117.3 442.6,103.3 442,95.3 443.3,89.3 446.5,81.7 450.2,77.3 454.5,74.1 468.5,67.1 478.5,63.7 490.5,61.8 494.5,62 498.5,63.7 500.3,67.3 498.8,75.3 494.7,85.3 486.5,97.8 484.7,103.3 485,107.3 487.4,113.3 492.5,120.2 496.5,123.2 500.5,123.6 504.5,121.9 514.8,109.3 528.5,98.3 534.5,96.2 538.5,96.2 542.5,97.9 552.5,108.2 558.5,111.8 563.9,113.3 574.5,114.2 582.5,116 588.5,116 592.5,115.1 623.3,103.3 631.9,99.3 636.5,96 638.5,93.1 642.5,83.3 652.4,73.3 655,69.3 657.9,57.3 657.4,51.3Z"/>
<path fill="#57ffa8" d="M660.5,51.3 678.5,51.3 678.5,567.3 120.5,567.3 120.5,248.1 180.5,255.3 194.5,252.8 206.5,246.6 210.5,245.8 216.5,245.8 226.5,247.4 232.5,249.3 268.5,266.3 272.5,266.7 274.5,266.2 278.5,264.2 280.5,262.3 285.6,253.3 289.2,249.3 294.5,245 307,237.3 309.2,235.3 311.8,231.3 315.6,217.3 319.7,207.3 321.6,189.3 329.4,161.3 330,157.3 329.3,147.3 330,143.3 332.5,137.9 338.5,131.9 344.5,129 350.5,127.9 355.5,129.3 358.5,132.8 360.5,138.5 361.2,145.3 360.4,151.3 357.4,159.3 356.6,163.3 357.8,175.3 359.7,181.3 368.8,189.3 376,193.3 380.5,194.6 408.5,195.7 432.6,195.3 438.9,193.3 444.5,189.9 447.7,185.3 448.9,181.3 450.2,157.3 448.6,145.3 449.7,137.3 447.1,131.3 447.6,117.3 444.2,105.3 443.5,97.3 444.5,91.7 447.1,85.3 450.5,80.8 454.5,77.7 464.5,72.8 474.5,70.1 482.5,70.2 485.9,71.3 488.6,73.3 490.4,77.3 490,83.3 482.8,97.3 481.8,101.3 481.9,105.3 485,113.3 490.5,121.2 494.5,126 498.5,128 502.5,127.6 506.5,126 509,123.3 515.8,111.3 528.5,100.4 532.5,98.6 536.5,98.6 540.5,100.2 552.3,111.3 558.5,114.4 580.5,119.1 590.5,119.4 608.5,114 625.7,107.3 636.5,102.3 640.9,99.3 643.6,95.3 645.2,87.3 646.5,84.1 654.5,75.4 657,71.3 659.1,57.3 659,51.3ZM350.3,187.3 348.9,189.3 349.2,191.3 350.5,192.4 353.3,191.3 353.9,189.3 353.1,187.3 352.5,186.8 350.5,187Z"/>
<path fill="#63ff9c" d="M660.5,51.3 678.5,51.3 678.5,567.3 120.5,567.3 120.5,250.7 180.5,256.4 194.5,253.4 206.5,247.1 210.5,246.2 216.5,246.2 226.5,247.8 232.5,249.8 268.5,266.9 272.5,267.3 274.5,266.8 280.5,263.1 286.1,253.3 289.7,249.3 298.5,242.8 308.1,237.3 312.5,231.3 315.5,219.3 320.8,205.3 322.2,189.3 330.4,159.3 330,149.3 330.6,145.3 333.3,139.3 338.5,134.7 344.5,133 350.5,134.1 354.5,137.6 356.5,143.3 356.5,149.3 353.8,157.3 353.2,161.3 355.4,177.3 355.3,181.3 354.5,182.4 350.5,184.5 348.5,186.8 347.7,189.3 347.9,191.3 349.7,193.3 352.5,193.5 354.5,192 355.9,189.3 356.5,185.9 358.5,184.5 362.5,186.3 369.6,191.3 376.5,194.4 380.5,195.4 426.5,196.5 434.5,195.5 440.5,193.3 444.5,190.8 447.5,187.3 449.5,181.3 450.8,159.3 449.4,145.3 450.4,137.3 448,131.3 448.3,117.3 445.4,105.3 445.1,99.3 446,93.3 448.5,87.6 450.5,84.7 454.5,81.2 462.5,77.2 470.5,75.2 474.5,75.3 478.5,76.2 482.5,79.2 483.4,81.3 483.3,85.3 479.7,95.3 478.9,99.3 478.8,103.3 479.8,107.3 484,115.3 494.5,130.6 500.5,133.3 506.5,133.5 510.8,131.3 513.2,127.3 515.2,117.3 517.1,113.3 520.6,109.3 528.5,102.7 532.5,100.7 538.5,102 552,113.3 558.5,116.4 570.5,119 576.7,121.3 592.5,122.4 608.5,118.3 626.5,111.1 642.5,103.6 647.8,99.3 651.6,93.3 653.4,85.3 660.2,73.3 659.8,63.3 660.4,51.3Z"/>
<path fill="#6eff91" d="M662.5,51.3 678.5,51.3 678.5,567.3 120.5,567.3 120.5,253.2 180.5,257.4 194.5,253.9 206.5,247.6 210.5,246.7 216.5,246.6 230.5,249.4 242.5,254.5 266.5,266.7 270.5,268 274.5,267.4 281,263.3 285.3,255.3 290.3,249.3 298.5,243.2 308.5,237.7 312.5,232.5 315.9,219.3 321.4,205.3 322.9,189.3 331.1,159.3 331.1,147.3 332.5,143.3 336.5,138.7 340.5,137 346.5,137.6 350.5,140.1 352.8,145.3 352.8,149.3 350.4,159.3 352.2,177.3 351.7,179.3 347.1,187.3 347,191.3 348.5,193.6 350.5,194.6 354.5,193.7 356.9,191.3 358.5,188.6 360.5,187.7 371.3,193.3 380.5,196.1 426.5,197.3 434.5,196.2 440.5,194.1 444.9,191.3 448.3,187.3 449.8,183.3 451.4,159.3 450.2,145.3 451.1,137.3 448.8,131.3 449.1,117.3 446.6,105.3 446.5,101.3 447.6,95.3 449.3,91.3 452.5,86.7 456.5,83.7 462.5,81.1 468.5,80.1 472.5,80.8 475.7,83.3 476.8,87.3 475.9,101.3 477.4,107.3 492.5,132 494.5,133.9 502,137.3 504.5,137.7 508.5,137 512.7,135.3 515.2,133.3 517.1,129.3 517.7,119.3 519.8,113.3 525.5,107.3 530.5,103.6 532.5,102.9 534.5,102.9 538.5,104.5 552.5,115.3 558.5,118.1 568.5,120.4 576.5,123.3 590.5,124.8 594.5,124.7 610.5,121 618.5,117.1 629.4,113.3 654.5,101.7 658.5,101.1 666.5,101.5 668.6,101.3 670.5,100.2 671.4,97.3 670.8,95.3 666.3,89.3 664.5,85.3 664.9,81.3 667.3,75.3 667.1,73.3 662.5,67.2 661.3,63.3 661.8,51.3Z"/>
<path fill="#7aff85" d="M664.5,51.3 678.5,51.3 678.5,68.8 668.5,68 664.5,66.2 662.4,61.3 663.3,51.3ZM458.5,86.8 464.5,85.4 466.5,85.5 469.7,87.3 471.5,91.3 473.2,101.3 475.2,107.3 485.8,123.3 490.5,132.1 492.5,134.7 496.5,137.3 500.5,139.2 504.5,140 514.5,137.5 518.5,134.3 520,131.3 520.4,119.3 521.4,115.3 525.7,109.3 532.5,105.1 536.5,105.6 552.5,116.7 558.5,119.6 568.5,122 576.5,124.9 592.5,126.8 600.5,126.1 610.5,123.7 654.5,106 672.5,106 678.5,103 678.5,567.3 120.5,567.3 120.5,255.7 180.5,258.5 194.5,254.3 206.5,248.1 212.5,246.9 216.5,247 226.5,248.6 232.5,250.6 242.5,254.9 268.5,268.2 272.5,268.7 276.5,267.2 281.7,263.3 285.8,255.3 290.8,249.3 300.5,242.4 308.5,238.4 312.7,233.3 314.2,229.3 316.5,219 321.5,207.3 323.6,189.3 331.7,159.3 332.2,147.3 334.5,143.3 336.5,141.5 340.5,140.1 344.5,140.6 346.5,141.7 348.5,143.8 349.6,147.3 348.2,159.3 349.8,175.3 345.8,189.3 346.5,192.1 348.5,194.6 350.5,195.5 353.1,195.3 360.5,190.7 362.5,190.9 376.5,196.1 382.5,197 428.5,197.9 434.5,196.9 440.5,194.8 444.5,192.5 447.8,189.3 449.9,185.3 450.8,181.3 452.1,159.3 451,145.3 451.8,137.3 449.8,131.3 449.8,115.3 447.8,103.3 448.5,99.2 450.5,94.2 454.5,89.3 457.6,87.3Z"/>
<path fill="#85ff7a" d="M664.5,53 664.8,51.3 678.5,51.3 678.5,64.9 674.5,64.6 668.5,65.5 666.5,65.1 664.5,63.4 663.6,59.3 664.5,53.3ZM460.5,91.1 464.5,91.7 466.5,93.4 472.9,107.3 484.5,124 490.5,134.8 496.5,139.3 502.5,141.7 506.5,141.6 515.5,139.3 518.5,137.6 520.9,135.3 522.9,131.3 522.8,119.3 523.7,115.3 526.5,110.9 528.5,109.1 532.5,107.1 536.5,107.6 552.5,118 559.7,121.3 566.5,122.8 576.5,126.2 594.5,128.6 600.5,128.3 610.5,126.2 622.5,121.2 634.5,117.8 654.5,109.3 658.5,108.6 672.5,108.5 678.5,106.4 678.5,567.3 120.5,567.3 120.5,258.2 182.5,259.3 196.5,253.9 204.7,249.3 210.5,247.6 214.5,247.3 226.5,249 232.5,251 254.6,261.3 268.5,268.8 272.5,269.3 276.5,267.8 282.4,263.3 286.3,255.3 291.3,249.3 300.5,242.8 308.5,239.1 310.7,237.3 313.2,233.3 314.8,229.3 316.8,219.3 322.2,207.3 324.3,189.3 332.1,161.3 332.9,149.3 334.5,146.2 338.5,143.7 342.5,143.9 344.5,145.1 346.3,149.3 346.1,159.3 347.7,175.3 345,189.3 346.3,193.3 348.5,195.5 352.5,196.2 360.5,193 362.5,192.8 380.5,197.5 426.5,198.6 434.5,197.6 441,195.3 444.5,193.3 448.5,189.5 451.1,183.3 452.7,161.3 451.8,145.3 452.6,139.3 450.7,131.3 450.7,115.3 449.2,105.3 450.5,99.5 452.5,96 456.5,92.5 459.5,91.3Z"/>
<path fill="#91ff6e" d="M666.5,51.3 678.5,51.3 678.5,62.4 668.5,63.6 666.5,62.9 665.3,61.3 664.9,59.3 666.5,51.3ZM456.5,97.1 460.5,96.5 464.5,98.7 483.5,125.3 489,135.3 494.5,140 500.5,143 504.5,143.5 514.7,141.3 518.5,139.8 521.5,137.3 524.5,133.3 525.1,131.3 525,119.3 525.9,115.3 528.6,111.3 531.9,109.3 534.5,108.9 546.5,114.7 552.5,119.2 558.5,121.9 574.5,126.9 588.5,129.8 596.5,130.4 602.5,130.1 610.5,128.4 624.5,123.5 630.5,122.6 635.7,123.3 637.8,125.3 637.4,133.3 638.5,143.3 640.5,150.6 642.5,152.8 644.5,152.5 646.3,149.3 648.6,133.3 647,127.3 643.1,123.3 642.5,121.3 643.4,119.3 645.5,117.3 656.5,111.7 672.5,110.5 678.5,108.7 678.5,567.3 120.5,567.3 120.5,260.7 182.5,260.2 196.5,254.4 204.5,249.9 210.5,248.1 214.5,247.7 226.5,249.4 232.3,251.3 254.5,261.7 268.5,269.4 272.5,270.1 276.5,268.5 280.5,265.9 283,263.3 286.8,255.3 291.8,249.3 300.5,243.2 309.2,239.3 311.3,237.3 313.8,233.3 317.3,219.3 322.8,207.3 324.6,191.3 332.9,161.3 333.9,151.3 334.6,149.3 336.5,147.8 338.5,147.3 340.5,147.6 342.5,149.2 343.4,151.3 345.9,173.3 344.2,189.3 345.5,193.3 348.5,196.2 352.5,197 362.5,194.4 380.5,198.2 426.5,199.3 434.5,198.3 442.4,195.3 446.5,192.5 449.5,189.3 451.8,183.3 453.2,163.3 452.7,145.3 453.5,139.3 451.6,129.3 451.8,115.3 450.8,105.3 452.5,100.9 456.3,97.3Z"/>
<path fill="#9cff63" d="M668.5,51.5 678.5,51.3 678.5,60.1 670.5,61.6 668,61.3 666.6,59.3 668,53.3ZM456.5,102.2 460.5,101.9 462.5,102.9 466.5,106.6 481.5,125.3 487.1,135.3 490.5,139.2 496.5,143.2 502.5,144.9 516.5,142.2 518.8,141.3 522.5,138.2 524.9,135.3 526.7,131.3 526.8,119.3 528,115.3 530.5,112.2 534.5,110.9 546.5,115.6 552.5,120.2 558.5,122.9 572.5,127.5 588.5,131.2 600.5,132.1 610.5,130.4 622.5,127 627.1,127.3 629.9,129.3 631.9,133.3 636.5,151.5 641.3,163.3 642.5,172.1 644.5,175.1 646.5,174.7 648.1,171.3 647.5,159.3 652,135.3 652.7,123.3 654.8,117.3 656.6,115.3 660.5,113.6 672.5,112.2 678.5,110.6 678.5,567.3 120.5,567.3 120.5,263.1 182.5,261.2 196.5,254.9 204.5,250.4 210.5,248.5 214.5,248.2 224.5,249.4 230.5,251 254.5,262.2 268.5,270.1 272.5,270.8 274.5,270.3 282.5,264.7 284.8,261.3 287.3,255.3 292.4,249.3 300.5,243.6 310.1,239.3 314.4,233.3 317.7,219.3 323.4,207.3 325.8,189.3 328.5,178.2 333.9,161.3 335,153.3 336.5,151 338.5,150.9 341,153.3 344.2,173.3 343.3,189.3 344.7,193.3 348.5,196.9 352.5,197.7 362.5,195.8 382.5,199 424.5,200 434.5,198.9 442.5,196 446.6,193.3 450.4,189.3 452.5,183.3 453.8,165.3 453.5,147.3 454.4,139.3 452.7,129.3 452.7,107.3 454.9,103.3Z"/>
<path fill="#a8ff57" d="M672.5,51.3 678.5,51.3 678.5,56.9 672.5,59.3 670.5,59.3 669.4,57.3 672.1,51.3ZM456.5,107.2 458.5,106.5 460.5,106.7 466.5,110.7 480.5,127.2 487.8,139.3 493.1,143.3 500.5,146 504.5,146.1 516.5,143.5 520.5,141.6 522.5,139.8 526.2,135.3 527.8,131.3 528.2,121.3 529.1,117.3 530.5,114.9 534.5,112.9 546.5,116.4 552.5,121.2 557.1,123.3 564.2,125.3 570.5,128.1 586.5,132.2 600.5,133.7 618.5,130.4 622.5,130.3 624.5,130.9 627.3,133.3 629.7,137.3 637.2,161.3 642,187.3 644.5,191 646.5,191.4 649.2,189.3 650.8,185.3 651.3,169.3 650.9,157.3 655.9,125.3 659.6,117.3 662.5,115.4 678.5,112.3 678.5,567.3 120.5,567.3 120.5,265.6 182.5,262 204.5,250.9 210.5,249 214.5,248.6 224.5,249.8 230.5,251.4 254.5,262.6 268.5,270.8 272.5,271.6 274.5,271.1 282.7,265.3 285.3,261.3 287.8,255.3 292.9,249.3 300.5,244 310.5,239.6 314.5,234 316.2,229.3 318.2,219.3 324,207.3 326.5,189.3 332.5,168 335.3,161.3 336.5,154.7 338.8,155.3 342.5,172.7 342.3,187.3 343,191.3 345.3,195.3 348.5,197.6 352.5,198.4 364.5,197 384.5,199.8 422.5,200.7 432.5,200 442.5,196.7 449.7,191.3 452.2,187.3 453.1,183.3 454.5,165.3 454.4,147.3 455.3,139.3 453.9,129.3 454.3,119.3 454.9,111.3 456.4,107.3Z"/>
<path fill="#b4ff4b" d="M458.5,112.3 460.5,111.5 462.5,112.1 468.5,116.8 477.8,127.3 485,139.3 488.5,142.9 492.9,145.3 500.5,147.3 504.5,147.2 516.5,144.6 519.8,143.3 522.5,141.2 526.5,136.5 528.5,132.3 529.4,121.3 530.5,118 532.5,115.6 534.5,114.7 544.5,116.3 554.9,123.3 562.5,125.6 570.5,129.3 586.5,133.5 600.5,135.3 616.5,132.7 622.5,133.3 626.5,136.8 629.2,143.3 636.1,165.3 640.5,189.3 643.8,193.3 646.5,193.9 648.5,193.2 650.7,191.3 653.4,185.3 652.9,157.3 656.8,129.3 658.1,125.3 661,119.3 663.1,117.3 666.5,115.9 678.5,113.9 678.5,567.3 120.5,567.3 120.5,268.1 182.5,262.8 204.5,251.4 210.5,249.5 214.5,249 226.5,250.6 230.5,251.9 254.5,263 268.5,271.4 272.5,272.4 274.5,272 283.4,265.3 285.9,261.3 288.3,255.3 293.5,249.3 300.5,244.4 310.5,240 314.3,235.3 316.2,231.3 318.6,219.3 324.6,207.3 326.4,193.3 330.3,177.3 334.5,165.8 336.5,163.1 338.5,163.8 341,173.3 341.1,185.3 342.1,191.3 344.4,195.3 348.5,198.3 352.5,199.1 364.5,198 390.5,200.8 422.5,201.5 432.5,200.6 442.5,197.4 446.5,195 450.6,191.3 453.5,185.3 455.1,167.3 455.3,147.3 456.4,139.3 455.4,127.3 456.5,117.8 458,113.3Z"/>
<path fill="#bfff40" d="M534.5,116.4 538.5,116 544.5,117.1 554.5,124 562.5,126.4 570.5,130.5 578.5,131.9 586.5,134.7 600.5,136.7 616.5,134.6 622.5,136.1 624.5,137.9 626.4,141.3 634.2,165.3 638.7,189.3 640.5,192.6 642.5,194.6 646.5,195.8 648.5,195.3 652.5,192.2 654.4,189.3 655.6,185.3 654.8,155.3 658.1,131.3 659.8,125.3 661.7,121.3 664.5,118.4 668.5,117 678.5,115.4 678.5,567.3 120.5,567.3 120.5,270.5 182.5,263.6 202.5,252.8 208.5,250.5 214.5,249.5 226.5,251 230.5,252.3 254.1,263.3 268.5,272.2 272.5,273.3 274.5,272.9 280.5,268.7 284.1,265.3 288.8,255.3 294,249.3 302.5,243.7 310.5,240.5 314.8,235.3 316.6,231.3 319.1,219.3 325.3,207.3 326.5,196.8 330.6,179.3 334.5,169.5 336.5,167.5 338.5,171 339.6,175.3 340,185.3 341.2,191.3 343.5,195.3 348.5,199 352.5,199.8 364.5,199.1 390.5,201.5 418.5,202.2 428.5,201.8 436.5,200.4 442.5,198.2 447.2,195.3 451.5,191.3 453.7,187.3 455.7,169.3 456,149.3 457.6,139.3 456.9,129.3 458.5,121.6 460.5,118.5 462.5,117.8 464.5,118.3 472.5,125.1 476.5,129.9 483.6,141.3 486.5,144.3 492.5,146.9 502.5,148.4 518.5,145 523.6,141.3 526.5,137.9 529,133.3 530,129.3 530.6,121.3 533,117.3ZM670.6,219.3 670,221.3 672.5,223.2 674.8,221.3 673.9,219.3 672.5,218.8Z"/>
<path fill="#cbff34" d="M536.5,117.2 544.5,117.8 546.5,118.7 552.5,123.9 562.5,127.3 568.5,131 576.5,132.2 586.5,135.9 600.5,138 616.5,136.5 620.5,137.5 622.5,138.8 625.1,143.3 633.1,167.3 635.4,177.3 637.1,189.3 640.9,195.3 644.5,197.3 646.5,197.5 650.5,196.2 652.5,194.8 655.5,191.3 657.2,187.3 657.8,181.3 656.3,161.3 656.4,155.3 659.6,131.3 661.3,125.3 663.4,121.3 666.5,119 678.5,116.8 678.5,215.2 674.5,214.3 670.5,214.4 666.5,216.8 665.5,219.3 667,223.3 670.5,225.6 674.5,225.4 678.5,223.4 678.5,567.3 120.5,567.3 120.5,273 182.5,264.3 202.6,253.3 208.5,251 214.5,250 225.6,251.3 230.5,252.8 253.2,263.3 268.5,272.9 272.5,274.2 274.5,273.8 284.5,265.7 286.5,262.6 289.4,255.3 294.5,249.4 302.5,244.1 310.5,240.9 312.6,239.3 315.3,235.3 317.1,231.3 319.5,219.3 325.9,207.3 328.5,191.6 332.5,177.4 334.5,174.1 336.5,173.5 338.2,177.3 339,187.3 341.2,193.3 344.5,197.3 350.5,200.2 364.5,200 392.5,202.4 418.5,202.9 428.5,202.4 436.5,201.1 442.5,198.9 448.3,195.3 452.4,191.3 454.4,187.3 456.4,169.3 456.9,149.3 459.2,137.3 458.8,129.3 460.5,124.6 462.5,123.2 464.5,123.1 468.5,125.2 472.6,129.3 482.3,143.3 486.5,146.7 490.5,148 502.5,149.4 518.5,146 522.8,143.3 526.5,139.2 529.8,133.3 531.7,121.3 532.9,119.3 536.1,117.3Z"/>
<path fill="#d6ff29" d="M536.5,118.4 540.5,117.9 544.5,118.5 546.5,119.4 552.5,124.9 560.6,127.3 568.5,132.2 576.5,133 586.5,137 600.5,139.3 614.5,138.3 618.5,139.1 620.5,140.2 623.6,145.3 631.4,167.3 634.2,179.3 635,187.3 636.3,191.3 640.5,196.9 642.5,198.2 646.5,199.2 650.5,198.2 654.7,195.3 657.8,191.3 659.2,187.3 659.5,181.3 657.7,157.3 660.6,133.3 662.6,125.3 664.5,122.1 666.5,120.5 670.5,119.2 678.5,118.2 678.5,211.4 672.5,210.7 668.5,211.6 663.6,215.3 662.4,219.3 664,223.3 668.5,226.8 672.5,227.6 678.5,225.9 678.5,567.3 120.5,567.3 120.5,275.5 182.5,265.1 203.8,253.3 210.5,251 214.5,250.5 226.5,251.9 230.5,253.2 252.5,263.4 268.5,273.7 272.5,275.2 274.5,274.9 284.5,266.6 286.8,263.3 289.9,255.3 294.5,249.9 302.5,244.4 310.6,241.3 314.6,237.3 317.5,231.3 320,219.3 326.5,207.3 328.5,194.9 334.5,178.3 336,179.3 337.5,187.3 341.6,195.3 346.3,199.3 350.5,200.8 366.5,201 394.5,203.2 408.5,203 418.5,203.7 430.5,202.8 438.5,201.2 444.5,198.6 449.3,195.3 453.2,191.3 455.1,187.3 457.1,169.3 457.7,149.3 460.7,139.3 461.3,131.3 462.5,127.9 464.5,127.2 468.2,129.3 479.6,143.3 484.3,147.3 489.3,149.3 502.5,150.3 518.5,146.9 523.9,143.3 528.5,137.6 530.6,133.3 531.7,129.3 532.1,123.3 534.7,119.3Z"/>
<path fill="#e2ff1d" d="M538.5,119 544.8,119.3 552.5,125.9 560.5,128.5 568.5,133.3 576.5,133.8 586.5,138 598.5,140.2 614.5,140.5 618.5,141.9 620.5,144 622.5,148 630.1,169.3 634.7,191.3 637,195.3 640.5,198.7 646.5,201 650.5,200.4 655.4,197.3 659.1,193.3 660.8,189.3 661.3,183.3 659.8,171.3 659.1,157.3 661.9,133.3 664,125.3 666.5,122.1 668.5,121 678.5,119.5 678.5,208.3 672.5,207.6 666.5,209.1 661.6,213.3 660.5,215.3 660,219.3 661.4,223.3 666.5,227.8 672.5,229.1 678.5,227.8 678.5,567.3 120.5,567.3 120.5,278.1 182.5,265.8 204.5,253.6 210.5,251.5 214.5,250.9 226.5,252.4 230.5,253.7 254.5,265 270.5,275.5 274.5,276.1 282.5,269.5 286.2,265.3 290.5,255.3 294.5,250.5 302.5,244.8 311.2,241.3 315.1,237.3 318,231.3 320.4,219.3 327.2,207.3 328.5,198.2 330.5,191.9 332.5,188.1 334.5,186.9 336.5,188.6 339.1,193.3 342.5,197.3 346.5,200.2 352.5,201.8 378.5,202.5 394.5,203.9 410.5,203.7 418.5,204.5 430.5,203.5 438.5,201.9 444.5,199.3 448.5,196.8 452.5,193.2 455.2,189.3 456.3,185.3 457.5,173.3 458.6,149.3 460.5,144.3 464.5,137 466.5,135.6 468.5,136.1 481.6,147.3 488.5,150.3 500.5,151.3 516.5,148.3 522.5,145.6 528.2,139.3 532.1,131.3 533.2,123.3 534.5,121.1 537.4,119.3Z"/>
<path fill="#eeff11" d="M536.5,121.1 540.5,119.7 544.5,120 546.5,121.1 552.5,127 559.2,129.3 561.8,131.3 568.5,134.2 576.5,134.7 586.5,139 600.5,141.7 612.5,142.4 616.5,143.9 618.5,145.8 621.6,151.3 628.1,169.3 630.7,179.3 631.9,187.3 634,193.3 636.8,197.3 640.5,200.6 644.5,202.7 648.5,203.2 652.5,202.2 658.5,197.9 660.8,195.3 662.6,191.3 663,183.3 661.3,173.3 660.4,159.3 662.5,138.4 664.6,127.3 666.5,123.9 668.5,122.5 678.5,121 678.5,205.3 670.5,204.4 664.5,206.4 659.2,211.3 657.4,217.3 659,223.3 660.5,225.4 664.5,228.5 670.5,230.5 678.5,229.4 678.5,567.3 120.5,567.3 120.5,280.6 182.5,266.6 202.5,255.1 210.5,252.1 214.5,251.5 226.5,252.9 238.5,257.6 254.1,265.3 270.5,276.5 274.5,277.4 278.5,274.3 286.5,265.9 291.1,255.3 294.2,251.3 302.3,245.3 311.9,241.3 315.6,237.3 318.4,231.3 320.1,221.3 327.1,209.3 329.6,197.3 332.5,191.2 334.5,190.1 343.7,199.3 348.5,201.6 352.5,202.4 378.5,203.1 394.5,204.7 410.5,204.3 418.5,205.2 432.5,203.8 440.5,201.9 446.5,199 450.5,196 454.5,191.8 455.9,189.3 457,185.3 458.2,173.3 459.2,151.3 460.5,147 464.5,142 466.5,140.9 470.5,141.5 482.6,149.3 488.5,151.4 502.5,152 518.5,148.6 524,145.3 528.5,140.2 533.9,129.3 534.4,123.3 536.2,121.3Z"/>
<path fill="#f9ff06" d="M540.5,120.8 544.5,120.9 552.5,128.4 566.5,134.4 570.5,135.4 576.5,135.5 586.5,139.9 600.5,142.9 610.5,144.2 614.5,145.8 618,149.3 621,155.3 626.6,171.3 630.8,189.3 634.5,196.9 642.5,204 646.5,205.7 654.2,207.3 654.8,209.3 654.8,217.3 655.7,221.3 657.9,225.3 660.5,227.9 664.5,230.3 668.5,231.6 672.5,231.9 678.5,230.8 678.5,567.3 120.5,567.3 120.5,283.2 182.5,267.3 186.5,265.5 203.3,255.3 210.5,252.6 214.5,252 226.5,253.3 240.5,258.9 253.2,265.3 270.5,277.6 272.5,278.8 274.5,278.9 276.5,277.7 286.5,266.8 288.7,263.3 291.7,255.3 294.8,251.3 302.5,245.6 312.5,241.3 316,237.3 318.8,231.3 320.5,221.3 327.8,209.3 329.9,199.3 332.5,194 334.5,192.9 336.5,193.8 344.5,200.6 348.5,202.3 354.5,203.3 378.5,203.8 394.5,205.4 410.5,205 418.5,206 434.5,204.2 440.5,202.6 446.5,199.7 450.5,196.9 454.5,192.8 456.6,189.3 458.1,181.3 460.1,151.3 461.9,147.3 464.5,144.8 466.5,143.9 470.5,144.4 484.5,151.2 490.5,152.5 502.5,152.8 518.5,149.4 522.7,147.3 528.5,141.5 534.5,130.7 537.9,127.3 536.5,125.3 536.7,123.3 538.9,121.3ZM670.5,123.2 678.5,122.5 678.5,202.3 666.5,199.3 665.2,197.3 664.9,185.3 662.5,173.3 661.6,159.3 664.2,135.3 666.5,126.2 668.5,124.1 670.3,123.3Z"/>
<path fill="#fff900" d="M540.5,122.7 542.5,121.9 544.5,122.2 552.5,129.9 559.8,133.3 568.5,136 576.5,136.4 584.5,140.3 608.5,145.5 614.5,148.8 617.8,153.3 619.7,157.3 624.6,171.3 629.8,191.3 632.9,197.3 640.5,205.1 649.4,211.3 650.7,213.3 654.1,223.3 657.1,227.3 659.5,229.3 663.1,231.3 668.5,232.9 672.5,233.1 678.5,232.2 678.5,567.3 120.5,567.3 120.5,285.9 182.5,268.1 186.5,266.4 204.5,255.3 210.5,253.2 214.5,252.6 226.5,253.9 240.5,259.5 254.5,266.7 272.5,280.4 274.5,280.7 276.5,279.4 286.9,267.3 289.3,263.3 292.3,255.3 295.4,251.3 302.5,246 312.5,241.7 316.5,237.3 319.3,231.3 321,221.3 328.4,209.3 330.5,200.3 332.5,196.2 334.5,195.1 336.5,195.6 342.5,200.2 346.5,202.3 356.5,204.2 378.5,204.5 394.5,206.2 408.5,205.6 418.5,206.7 434.5,204.9 440.5,203.3 446.5,200.5 450.5,197.8 454.5,193.8 457.3,189.3 458.4,185.3 459.4,175.3 460.5,154.3 462.1,149.3 464.5,147 468.5,146.2 486.5,152.7 496.5,153.7 502.5,153.6 518.5,150.1 523.9,147.3 528.5,142.7 534.5,132.3 539,129.3 540.2,127.3 539.8,123.3ZM670.5,124.8 678.5,124.1 678.5,199.2 672.5,196.9 669,193.3 663.5,173.3 662.9,159.3 665,139.3 666.9,129.3 667.7,127.3 669.5,125.3Z"/>
<path fill="#ffee00" d="M542.5,125.1 544.5,124.3 552.5,131.7 556,133.3 568.5,136.8 576.5,137.3 584.5,141.3 606.5,146.7 611.7,149.3 615.4,153.3 618.4,159.3 629.7,195.3 634,201.3 646.5,213.7 652.6,225.3 656.5,229.4 664.5,233.3 670.5,234.4 678.5,233.6 678.5,567.3 120.5,567.3 120.5,288.5 184.5,268.2 202.5,257 210.5,253.8 214.5,253.2 228.5,255 240.5,260.1 254.6,267.3 267.7,277.3 272.5,282.2 274.5,282.7 276.5,281.5 287.6,267.3 290,263.3 292.9,255.3 296,251.3 302.5,246.4 312.5,242 317.1,237.3 319.7,231.3 321.5,221.3 328.1,211.3 331.9,199.3 334.5,196.8 336.5,197.1 346.5,203.1 356.5,205 380.5,205.3 394.5,207 408.5,206.3 418.5,207.5 434.5,205.6 440.5,204.1 446.5,201.3 452.1,197.3 455.7,193.3 458,189.3 459.8,179.3 460.9,157.3 462.4,151.3 464.5,148.9 468.5,148.2 486.5,153.6 498.5,154.6 504.5,154 518.5,150.8 522.5,149.2 527.2,145.3 530.4,141.3 534.5,133.6 540.6,129.3 542.4,125.3ZM670.5,127 678.5,125.8 678.5,196.2 674.5,194.4 670.5,190.1 664.5,173.3 664.1,159.3 666.3,139.3 668.5,129.7 670.1,127.3Z"/>
<path fill="#ffe200" d="M542.5,128.7 544.5,127.4 546.5,127.9 552.3,133.3 554.5,134.2 560.5,135.2 568.5,137.7 576.5,138.4 584.5,142.3 604.5,147.7 610.5,150.9 614.3,155.3 617.3,161.3 628.8,197.3 631.4,201.3 644.5,216.7 651.2,227.3 655.9,231.3 662.5,234.2 670.5,235.6 678.5,234.8 678.5,567.3 120.5,567.3 120.5,291.3 184.5,269 203.3,257.3 210.5,254.5 214.5,253.8 228.5,255.6 252.5,266.7 266.5,277.3 272.5,284 274.5,284.6 276.7,283.3 288.5,267.1 290.6,263.3 293.5,255.3 296.6,251.3 302.5,246.8 312.5,242.4 317.6,237.3 320.1,231.3 321.9,221.3 328.8,211.3 332.5,200.4 334.5,198.4 336.5,198.6 346.5,203.8 358.5,206 380.5,206 396.5,207.8 408.5,207 418.5,208.3 434.5,206.3 440.5,204.8 446.5,202.1 452.5,197.9 456.5,193.3 458.6,189.3 460.6,179.3 461.7,157.3 462.5,154 464.5,151 468.5,150 486.5,154.4 498.5,155.4 504.5,154.8 518.5,151.5 522.5,149.9 526.5,147 530.5,142.5 534.5,134.9 542.1,129.3ZM672.5,128.7 678.5,127.7 678.5,193.2 674.5,191 671.4,187.3 666.5,176.6 665.2,171.3 665.1,161.3 667.7,139.3 669.3,133.3 671.6,129.3Z"/>
<path fill="#ffd600" d="M544.5,129.3 546.5,129.6 552.5,135 560.5,136 568.5,138.6 576.1,139.3 582.5,142.6 604.2,149.3 608.5,151.7 612,155.3 615.4,161.3 619.6,173.3 625.3,193.3 627.7,199.3 647.8,227.3 652.5,231.4 660.5,235.1 670.5,236.7 678.5,236.1 678.5,567.3 120.5,567.3 120.5,294.1 184.5,269.9 188.5,267.8 197.3,261.3 204.5,257.4 210.5,255.2 214.5,254.5 228.5,256.3 240.5,261.3 252.5,267.3 266.5,278.4 272.5,285.9 274.5,286.5 276.5,285.7 278.5,283.3 283,275.3 289.1,267.3 291.3,263.3 294.2,255.3 297.2,251.3 302.5,247.2 312.5,242.8 318.1,237.3 320,233.3 322.4,221.3 329.5,211.3 332.5,203.5 334.5,200.2 336.5,200.1 348.5,205.1 360.5,206.9 378.5,206.7 394.5,208.5 408.5,207.8 418.5,209 434.5,207.1 440.5,205.6 446.5,202.9 452.5,198.8 456.5,194.4 459.4,189.3 461.4,179.3 462.2,159.3 464.5,153.1 466.5,151.8 470.5,151.7 486.5,155.2 498.5,156.1 505.6,155.3 520.5,151.6 524.8,149.3 529.3,145.3 532.2,141.3 534.5,136.3 536.5,134.1 544.5,129.3ZM674.5,130.7 678.5,129.9 678.5,190.4 674.5,188 672.3,185.3 667.9,177.3 666,171.3 666.1,161.3 669.1,139.3 670.5,135 673.5,131.3Z"/>
<path fill="#ffcb00" d="M544.5,130.9 546.5,131.3 550.5,135.4 552.5,136.6 560.5,136.9 568.5,139.6 574.5,140 582.5,143.7 590.5,145.8 602.5,150.4 607.5,153.3 611.1,157.3 614.5,163.5 620.9,183.3 624,195.3 626.4,201.3 644,227.3 651.4,233.3 658.5,236.1 668.5,237.7 678.5,237.3 678.5,567.3 120.5,567.3 120.5,297 184.5,270.9 202.5,259.2 210.5,255.9 214.5,255.2 220.5,256.5 228.5,257 239,261.3 251.1,267.3 254.5,269.4 266.2,279.3 272,287.3 274.5,288.2 276.5,287.6 278.8,285.3 284.1,275.3 291,265.3 293.8,257.3 296.2,253.3 303.1,247.3 314.5,241.8 318.6,237.3 320.5,233.3 322.9,221.3 330.2,211.3 334.5,202.4 336.5,201.7 346.5,205.4 356.5,207.4 364.5,208 380.5,207.5 394.5,209.3 408.5,208.5 420.5,209.7 440.5,206.5 446.5,203.7 452.5,199.8 456.5,195.5 459.1,191.3 460.8,187.3 462,181.3 463,159.3 464.5,155.2 466.5,153.5 472.5,153.2 486.5,156 498.5,156.9 506.5,155.9 518.5,152.8 522.9,151.3 528.4,147.3 532,143.3 536.4,135.3 543.6,131.3ZM676.5,132.8 678.5,132.4 678.5,187.9 676.5,186.9 672.5,183 668.5,176.5 666.8,171.3 667,163.3 669.7,149.3 670.7,139.3 672.5,135.6 675.3,133.3Z"/>
<path fill="#ffbf00" d="M542.5,133.3 544.5,132.7 546.4,133.3 550.4,137.3 552.5,138.3 560.5,138 566.5,140.2 575,141.3 582.5,144.8 591.1,147.3 602.5,152.2 606.5,154.8 610.3,159.3 613.4,165.3 619.4,183.3 622.5,197.1 624.7,203.3 628.5,210.4 639.7,227.3 646.8,233.3 654.5,236.8 666.5,238.7 678.5,238.5 678.5,567.3 120.5,567.3 120.5,300 186.5,270.9 198.5,262.1 204.5,259.1 212.5,256.3 228.5,257.8 238.5,261.9 250.5,267.8 254.5,270.4 264.8,279.3 270.5,287.9 274.5,289.8 276.5,289.4 280.3,285.3 283.9,277.3 291.8,265.3 294.5,257.3 296.8,253.3 300.8,249.3 303.8,247.3 314.5,242.2 319.2,237.3 321,233.3 323.5,221.3 329.7,213.3 334.5,204.7 336.5,203.4 348.5,206.7 358.5,208.5 380.5,208.3 394.5,210.2 408.5,209.3 420.5,210.4 440.5,207.3 446.5,204.6 452.5,200.8 456.5,196.6 459.9,191.3 461.7,187.3 462.8,181.3 463.9,159.3 464.6,157.3 466.5,155.1 468.5,154.4 472.5,154.4 488.5,157 500.5,157.5 508.5,156.2 520.5,152.9 524.5,151.2 529.6,147.3 533.2,143.3 536.5,136.7 542.5,133.3ZM678.5,135.3 678.5,185.5 674.5,182.9 670.5,178 668.1,173.3 667.5,169.3 668,163.3 671.3,149.3 672.5,140.2 674.5,137 678.4,135.3Z"/>
<path fill="#ffb400" d="M542.5,135.1 544.5,134.9 550.1,139.3 552.5,140.4 560.5,139.3 566.5,141.4 574.5,142.5 582.5,146.1 592.3,149.3 604.5,155.6 608.5,160 612.5,167.5 618.4,185.3 620.8,199.3 623.4,207.3 636.5,228.8 644.5,234.9 652.5,238.3 662.5,239.7 678.5,239.7 678.5,567.3 120.5,567.3 120.5,303.1 186.5,272 190.5,269.6 198.5,263 206.1,259.3 212.5,257.1 215.9,257.3 220.5,258.9 226.5,258.3 228.5,258.8 239.8,263.3 251.6,269.3 264.5,280.8 268.2,287.3 270.1,289.3 272.5,290.9 276.5,291.1 278.5,289.9 280.6,287.3 285,277.3 292.5,265.3 295.2,257.3 297.5,253.3 301.5,249.3 304.6,247.3 314.5,242.7 319.8,237.3 321.5,233.3 324,221.3 330.5,213.3 334.5,206.6 336.5,205 338.5,204.8 350.5,208 360.5,209.6 380.5,209.1 396.5,211.1 408.5,210.1 420.5,211.2 440.5,208.2 448.5,204.3 454.5,200.1 456.9,197.3 461.7,189.3 463.7,181.3 464.5,161.3 466.5,156.8 468.5,155.8 472.5,155.6 488.5,157.8 498.5,158.4 504.5,157.8 512.5,155.9 522.5,152.9 526.5,150.8 532.9,145.3 537.9,137.3 542.1,135.3ZM678.5,139 678.5,183.4 674.5,180.9 670.5,176.3 668.9,173.3 668.2,169.3 669,163.3 673.3,149.3 674.5,143.2 675.3,141.3 677.6,139.3Z"/>
<path fill="#ffa800" d="M540.5,138.1 544.5,138 549.4,141.3 552.5,142.5 560.5,141.1 574.5,144 590.5,150.2 602.5,156.5 606.5,160.4 610.6,167.3 616.8,185.3 618.7,201.3 620.6,209.3 623.4,215.3 632.3,229.3 639.6,235.3 650.5,240 658.5,241 678.5,240.9 678.5,567.3 120.5,567.3 120.5,306.3 140.5,295.7 188.5,272.1 199.7,263.3 212.5,258.2 216.5,258.8 220.5,260.7 226.5,259.5 228.5,260 238.5,263.8 250.5,269.8 254.5,272.7 262.8,281.3 268.5,289.8 272.5,292.5 276.5,292.9 279.2,291.3 282.1,287.3 286,277.3 293.3,265.3 296,257.3 298.2,253.3 302.2,249.3 314.2,243.3 318.9,239.3 322,233.3 324.6,221.3 331.4,213.3 334.5,208.3 336.5,206.5 340.5,206.4 360.5,210.5 380.5,209.9 396.5,212 408.5,210.9 420.5,212 440.5,209.1 446.5,206.3 454.4,201.3 457.9,197.3 461.5,191.3 463.4,187.3 464.3,183.3 465.5,161.3 466.5,158.8 468.5,157.3 474.5,156.8 496.5,159.1 508.5,157.7 522.5,153.7 526.5,151.7 534.4,145.3 538.6,139.3ZM678.5,145.4 678.5,181.4 674.5,179.1 671,175.3 669.8,173.3 669,169.3 670.5,161.9 677,147.3Z"/>
<path fill="#ff9c00" d="M542.5,140.9 552.5,144.4 560.5,143.3 574.5,145.6 590.5,152.1 602.5,159.1 606.3,163.3 608.5,167.3 615.2,185.3 616.3,207.3 618,215.3 621.3,221.3 627,229.3 631.2,233.3 636.5,236.8 648.5,241.8 656.5,242.6 678.5,242.1 678.5,567.3 120.5,567.3 120.5,309.7 140.5,298.2 188.5,273.3 192.5,270.8 198.5,265.2 212.5,259.5 214.5,259.6 220.5,262.5 226.5,261.2 228.5,261.4 238.5,265 244.5,268.6 250.9,271.3 255.2,275.3 265.5,289.3 272.5,294.4 276.5,294.8 280.5,292.3 282.6,289.3 287,277.3 294.1,265.3 296.7,257.3 299,253.3 303,249.3 314.5,243.5 319.6,239.3 321.9,235.3 325.3,221.3 336.5,208 340.5,207.5 362.5,211.7 380.5,210.7 396.5,212.9 408.5,211.7 420.5,212.8 440.5,210.1 450.5,205 455.8,201.3 463.6,189.3 465.3,183.3 466.1,163.3 466.5,161.3 468.5,158.9 470.5,158.2 476.5,158 496.5,160 508.5,158.6 526.5,152.7 540.8,141.3ZM678.5,152 678.5,179.5 672.5,175.6 670.5,172.7 669.8,169.3 670.5,165.2 672.5,160.6 677.2,153.3Z"/>
<path fill="#ff9100" d="M540.5,144.6 544.5,144.4 552.5,146.4 562.5,145.6 570.5,146.5 574.5,147.5 590.5,154.2 600.5,160 603.9,163.3 609.3,173.3 613,183.3 614,189.3 613.6,197.3 610.5,218.3 608.5,225 606.5,226.4 582.5,226.7 578,227.3 574.5,228.7 570.5,232.7 569.1,237.3 569.9,243.3 572.5,247.3 574.5,248.7 578.5,249.7 582.5,249.2 588.5,246.7 599.5,239.3 603.3,235.3 608.5,227.7 612.5,228.1 616.5,229.5 635,239.3 646.5,243.7 652.5,244.5 668.5,243.1 678.5,243.4 678.5,567.3 120.5,567.3 120.5,313.3 124.5,311.4 140.5,300.8 190.9,273.3 200.5,265.6 212.5,261.1 214.5,261.3 220.5,264.7 228.5,263.7 239.4,267.3 244.5,270.7 250.5,273.2 252.5,275.1 257.3,285.3 260.8,289.3 272.5,296.6 274.5,297.1 278.5,296.1 283.3,291.3 288.1,277.3 294.9,265.3 297.5,257.3 299.8,253.3 303.8,249.3 314.5,244 320.2,239.3 322.5,235.3 324.5,225.3 326,221.3 336.5,209.4 340.5,208.7 362.5,212.7 380.5,211.6 396.5,213.9 408.5,212.6 420.5,213.7 440.5,211.1 452.5,204.9 456.5,202 463.6,191.3 466,185.3 467.1,173.3 466.9,165.3 468.5,160.7 470.5,159.7 474.5,159.2 494.5,160.8 506.5,159.8 526.5,153.7 539.4,145.3ZM678.5,156.5 678.5,177.7 674.5,175.8 672.5,174.1 670.6,169.3 672.5,163.5 677.5,157.3Z"/>
<path fill="#ff8500" d="M542.5,147.1 552.5,148.4 562.5,147.7 570.5,148.4 588.6,155.3 600.5,162.4 603.2,165.3 608.5,175.3 611.8,185.3 612,191.3 609.9,201.3 606.5,209.4 602.5,214.3 598.5,216.9 592.5,218.8 576.5,220.2 571.5,221.3 564.1,225.3 560.5,229.3 558.4,235.3 558.2,239.3 559.1,245.3 562.5,253.8 564.9,257.3 568.5,260.9 572.5,262.7 578.5,261.8 586.5,256.8 608.5,241 612.5,238.9 616.5,237.9 624.5,238.7 648.5,246.5 654.5,246.3 668.5,244.2 678.5,244.6 678.5,567.3 120.5,567.3 120.5,317.2 124.5,315.1 140.7,303.3 193.4,273.3 200.5,267.8 212.5,263.5 220.5,267.7 228.5,268.8 238,271.3 239.5,273.3 238.7,279.3 239,283.3 239.8,285.3 242.5,287.8 260.5,295.8 266.5,296.7 272.5,299.3 274.5,299.4 278.5,298.3 282.6,295.3 285.2,291.3 288.5,279 295.8,265.3 298.3,257.3 300.5,253.3 304.7,249.3 314.5,244.5 321,239.3 323.2,235.3 326.5,221.8 336.5,211 340.5,210 362.5,213.8 380.5,212.5 396.5,214.8 408.5,213.5 420.5,214.6 440.5,212.3 444.5,210.6 456.7,203.3 460,199.3 464.8,191.3 467.2,185.3 468.5,163.3 470.5,161.3 478.5,160.4 496.5,161.7 506.5,160.7 526.5,154.8 534.5,150 541,147.3ZM678.5,160.1 678.5,175.8 673.4,173.3 672,171.3 671.7,169.3 672.5,166.2 676.6,161.3Z"/>
<path fill="#ff7a00" d="M536.5,150.9 542.5,149.7 554.5,150.6 568.5,150.2 574.5,151.7 584.5,155.5 598.5,163.2 601.1,165.3 606.9,175.3 609.5,183.3 610.1,189.3 608.3,197.3 604.5,204.3 598.5,210.3 590.5,213.9 572.5,216.1 562.5,218.8 554.5,222.9 551,227.3 549.7,231.3 549.5,237.3 550.4,243.3 552.7,251.3 556.3,259.3 559.9,265.3 564.5,271.1 568.5,274.6 572.5,276.4 576.5,276 580.5,272.5 588,263.3 594.4,257.3 608.5,246.5 616.5,243 620.5,242.4 626.5,243 648.5,248.9 652.5,248.6 668.5,245.3 678.5,245.9 678.5,567.3 120.5,567.3 120.5,321.5 124.5,319.2 136.2,309.3 145.1,303.3 200.5,270.8 208.5,268.2 212.5,268.4 222.5,276.1 225.9,281.3 229.1,293.3 230.5,295.3 233.1,297.3 238.5,298.5 248.5,297.4 258.5,302.1 266.5,303.3 276.5,301.2 282.5,297.8 286.3,293.3 290.3,277.3 296.7,265.3 299.3,257.3 301.4,253.3 305.6,249.3 316.5,243.7 321.8,239.3 323.9,235.3 326.5,223.3 328.5,220.6 338.5,211.6 348.5,212 362.5,214.9 380.5,213.4 396.5,215.9 408.5,214.5 420.5,215.6 440.5,213.6 454.5,206.3 458.5,203.4 466.4,191.3 468.5,185.3 469.8,165.3 471.1,163.3 478.5,161.9 494.5,162.8 506.5,161.6 526.5,155.9 535.4,151.3ZM676.5,164.4 678.5,163.5 678.5,173.7 676.3,173.3 673.5,171.3 672.9,169.3 675.5,165.3Z"/>
<path fill="#ff6e00" d="M536.5,152.9 542.5,152.2 554.5,153 566.5,152.4 572.5,153.4 582.5,156.9 598.7,165.3 600.7,167.3 605.4,175.3 607.3,181.3 608.1,187.3 606.3,195.3 602.5,201.2 596.5,206.5 592.5,208.7 586.5,210.5 564.5,213.1 552.5,216 546.5,219.4 544.5,221.5 542.5,225.3 541.5,231.3 541.7,237.3 543.4,245.3 546.3,253.3 551.1,263.3 556.5,272.1 562.4,279.3 567.2,283.3 570.5,285.3 574.5,286.4 579.1,285.3 582.5,281.9 589.3,269.3 595.6,261.3 608.5,250.8 616.5,246.9 622.5,246 628.5,246.4 648.5,251.1 652.5,250.6 668.5,246.4 672.5,246.3 678.5,247.3 678.5,567.3 120.5,567.3 120.5,326.4 124.5,323.9 137.8,311.3 146.2,305.3 160.5,297.2 171.8,289.3 188.1,279.3 200.5,273.8 204.5,272.6 208.5,272.6 210.5,273.3 218.8,279.3 222.1,285.3 224.5,295.5 226.5,298.5 230.5,301.5 234.5,303.1 246.5,305.7 266.5,306.5 271.6,305.3 280.5,301.3 286.5,296.6 289,291.3 291.5,277.3 294.1,271.3 297.7,265.3 300.2,257.3 302.3,253.3 306.5,249.3 316.5,244.3 320.9,241.3 323.9,237.3 327.6,223.3 329.1,221.3 338.5,213.4 342.5,212.7 348.5,213.1 362.5,216.1 380.5,214.5 396.5,216.9 408.5,215.5 420.5,216.6 430.5,215.4 440.5,215.2 456.5,206.8 460.5,203.5 462.1,201.3 469.3,189.3 471.9,167.3 473,165.3 478.5,163.7 494.5,164 506.5,162.6 526.5,157.1 535.2,153.3ZM676.5,168.8 678.5,168.3 678.5,169.9 676.1,169.3Z"/>
<path fill="#ff6300" d="M538.5,155.1 568.5,155.3 582.5,159.2 598.5,167.1 603.9,175.3 605.6,181.3 606,187.3 604.3,193.3 600.5,198.8 594.5,203.5 590.5,205.4 584.5,207 556.5,209.4 548.5,210.9 538.9,215.3 535.5,219.3 534,225.3 533.7,235.3 535.1,243.3 537.2,249.3 544.5,263.3 552.2,275.3 558.5,282.9 564.5,287.7 570.5,291.2 574.5,292.5 578.5,292.2 580.5,291.3 586.5,284.5 592.5,271.3 596.5,265.1 606.5,255.9 612.5,252 616.5,250.3 622.5,249 628.5,249.1 648.5,253.1 652.5,252.5 670.5,247.3 678.5,248.9 678.5,567.3 120.5,567.3 120.5,332 124.5,329.2 135.1,317.3 146.5,307.8 160.5,299.7 171.9,291.3 188.5,280.7 196.5,277.5 204.5,275.6 210.5,277.1 216,281.3 218.5,285.4 222.5,298.5 224.7,301.3 230.5,304.9 244.5,309 250.5,309.9 266.5,308.7 271.6,307.3 282.5,302.1 288.4,297.3 291,291.3 292,281.3 293.5,275.3 298.7,265.3 302.5,254.6 307.6,249.3 316.5,244.9 322,241.3 324.7,237.3 328.7,223.3 338.5,215.3 342.5,214.2 348.5,214.3 358.5,216.9 364.5,217.4 380.5,215.6 396.5,218 408.5,216.6 420.5,217.7 430.5,216.6 438.5,217.3 442.5,216.6 450.5,211.3 459.2,207.3 463.5,203.3 469.9,193.3 471.7,189.3 474.1,171.3 474.7,169.3 476.4,167.3 480.5,166.1 504.5,164.2 520.5,159.5 528.5,158 536.6,155.3Z"/>
<path fill="#ff5700" d="M532.5,159 540.5,158 564.5,158.1 576.5,159.8 596.5,167.5 600.5,172.3 603.1,177.3 604,185.3 602.5,191 598.5,196.7 592.5,200.8 586.5,202.8 580.5,203.8 570.5,204.5 552.5,204.5 528.5,208.5 524.5,210.1 522.5,213.1 524.6,223.3 524.9,239.3 528.2,249.3 533.2,257.3 552.5,283.1 556.9,287.3 562.8,291.3 574.5,297.8 578.5,298.3 582.5,296.5 591.4,283.3 594.9,273.3 598.3,267.3 606.5,259.2 610.5,256.3 616.5,253.3 622.5,251.8 628.5,251.6 648.5,254.9 652.5,254.3 670.5,248.7 678.5,250.6 678.5,567.3 120.5,567.3 120.5,339.3 124.5,336 132.1,325.3 138.9,317.3 148.4,309.3 162.5,300.9 172.5,293.2 188.5,282.6 194.5,280.1 202.5,278.4 208.5,279.3 213.8,283.3 216.1,287.3 220.5,300.3 224.5,304.6 228.5,306.9 244.5,311.9 250.5,313 256.5,312.5 270.7,309.3 283.9,303.3 288.5,299.9 290.5,297.5 293.5,289.3 294,279.3 295.4,273.3 299.8,265.3 302.3,257.3 304.4,253.3 308.7,249.3 318.5,244.6 323.2,241.3 325.8,237.3 328.5,226.6 330.3,223.3 338.5,217.4 342.5,215.9 346.5,215.5 350.5,215.9 358.5,218.3 362.5,218.9 380.5,216.8 396.5,219.2 410.5,217.8 420.5,218.9 430.5,218.1 438.5,219.9 442.5,219.7 444.5,218.9 450.8,213.3 462.5,208.7 467.8,203.3 473.9,193.3 475,189.3 476.6,175.3 478.5,171.4 480.5,169.9 506.5,165.1 520.5,160.9 531.2,159.3ZM476.2,225.3 472.6,227.3 470.7,229.3 469.1,233.3 469.3,235.3 472.5,239 476.5,240.8 480.5,241.3 484.5,240.4 486.7,239.3 490,235.3 490.9,231.3 489.8,227.3 487,225.3 484.5,224.6 480.5,224.4 476.5,225.2Z"/>
<path fill="#ff4b00" d="M518.5,163.3 538.5,161.6 568.5,161.8 578.5,163.3 594.5,168.5 596.5,170 600.5,175.3 601.5,179.3 601.3,185.3 600.5,188.1 597.1,193.3 594.5,195.7 591.3,197.3 584.5,199 574.5,200.2 552.5,199.2 538.5,200.7 524.5,200.7 512.5,202.1 500.5,200.1 496.5,200.1 484.5,203 482.5,203 480.7,201.3 480.3,199.3 480.3,185.3 480.9,179.3 482.9,175.3 485.4,173.3 496.9,169.3 514.5,164.9 518.4,163.3ZM344.5,217.3 350.5,217.3 358.5,220 362.5,220.5 378.5,218.1 396.5,220.4 410.5,219 420.5,220.3 430.5,220.1 436.3,223.3 440.1,227.3 443.3,237.3 445.8,241.3 448.5,243.5 454.5,246 470.5,250.7 482.5,252.2 491.3,251.3 504.5,247.4 510.5,247.5 514.5,249.9 525.9,261.3 538.5,272.5 552.5,288.7 574.5,302.8 580.5,304.9 582.5,304.8 584.5,303.5 585.8,301.3 590.1,291.3 594.8,283.3 596.9,275.3 599.8,269.3 606.5,262.2 614.5,256.9 620.5,254.8 626.5,254 650.5,256.4 670.5,250.3 678.5,252.5 678.5,567.3 208.8,567.3 206.5,565.2 200.5,563.2 196.5,563.7 193.2,565.3 191.3,567.3 159.5,567.3 154.5,565.4 150.5,565.9 147.7,567.3 120.5,567.3 120.5,350.3 124.5,345.8 133.2,329.3 140.8,319.3 149.7,311.3 164.5,302.1 190.5,283.4 199.4,281.3 205,281.3 208.5,282.6 210.5,284.2 213.6,289.3 218.1,301.3 222.5,306.2 230.5,310.2 244.5,314.6 252.5,315.7 256.5,315 268.5,311.6 283.8,305.3 289.7,301.3 293.9,295.3 296.2,287.3 296.2,277.3 296.9,273.3 301.1,265.3 303.6,257.3 305.7,253.3 310.1,249.3 320.5,244.5 324.5,241.5 327,237.3 328.5,230.7 330.8,225.3 332.7,223.3 338.5,219.6 344.5,217.3ZM454.5,216.6 459,217.3 459.7,219.3 458.5,220.4 456.5,221.2 454.5,220.7 453.2,219.3 453.1,217.3Z"/>
<path fill="#ff4000" d="M520.5,167.2 524.5,166.6 568.5,166.3 578.5,167.1 592.5,170.8 594.5,172 597.2,175.3 598.2,177.3 598.1,181.3 596.5,185.1 592.5,190.1 586.5,193.3 578.5,194.7 570.5,195.1 550.5,192.8 532.5,192.5 516.5,193.5 507,191.3 499.1,187.3 496.7,185.3 496,183.3 496.8,181.3 510.5,169.3 520.1,167.3ZM346.5,219 350.5,219.2 360.5,222.3 380.5,219.5 396.5,221.7 410.5,220.4 428.5,223.1 432.7,227.3 434.5,231.3 435.5,239.3 435.7,253.3 436.5,255.7 438.5,258 440.5,258.9 444.5,259.3 458.5,258.2 480.5,259.4 502.5,258.8 510.5,260.4 534.5,274.6 540.5,279.7 550.5,291.3 562.5,298 582.5,312.5 586.5,314.6 588.5,314.2 590.2,311.3 591.4,295.3 592.8,291.3 597.3,283.3 600,273.3 604.5,267 612.5,260.6 618.5,257.8 626.5,256.3 634.5,256.4 648.5,257.9 652.5,257.5 668.5,253.1 678.5,254.7 678.5,567.3 212.8,567.3 211.4,565.3 208.5,563.2 202.5,560.8 198.5,560 192.5,561.3 176.5,567.2 164.5,561 160.5,559.9 154.5,559.4 144.2,561.3 138.5,564.3 135.6,567.3 120.5,567.3 120.5,370.8 122.5,368.2 124.5,363.5 133,337.3 138.1,327.3 144.5,319.3 152.5,312.2 166.5,303.4 190.5,286 196.5,284.6 202.5,284.3 206.5,285.8 211.6,293.3 216.5,303.3 220.5,307.4 228.5,311.6 242.5,316.3 252.5,317.8 256.1,317.3 284.5,306.8 292.4,301.3 297.2,293.3 299.2,285.3 298.4,277.3 298.9,273.3 301.8,267.3 304.5,258.8 307.1,253.3 311.9,249.3 324.8,243.3 327.7,239.3 330.5,229.9 332.5,226.4 336.5,223.2 345.1,219.3Z"/>
<path fill="#ff3400" d="M560.5,175.1 576.5,174.2 583.5,175.3 586.5,176.9 587.8,179.3 586.5,182 582.5,184.8 578.5,185.9 572.5,186.1 567.2,185.3 554.2,181.3 552,179.3 552.8,177.3 559.2,175.3ZM378.5,221.2 396.5,223.1 412.5,222.2 422.5,224.5 426.5,226.6 429.8,231.3 430.6,235.3 430.5,241.3 427.7,253.3 426.9,261.3 427.8,265.3 430.5,268 434.5,269.1 438.5,269.2 454.5,266.1 464.5,265.2 498.5,265.5 510.5,267.4 534.5,278.8 540.5,283.9 549.1,293.3 564.5,302.1 582.6,317.3 586.5,319.7 590.5,320.9 592.5,320.7 594.3,319.3 595.6,315.3 593.6,299.3 594.9,291.3 598.5,285.2 600.4,277.3 602.1,273.3 605,269.3 610.5,264.6 616.5,260.9 624.5,258.7 632.5,258.3 650.5,259.2 666.5,255.7 678.5,256.8 678.5,567.3 215.4,567.3 214.2,565.3 210.5,562.3 200.5,557.9 196.5,557.6 178.5,560 174.5,559.5 162.5,555.8 156.5,555.2 148.5,556.1 142.5,558 132.5,563.3 128.8,567.3 120.5,567.3 120.5,453.3 122.5,450 124.5,440.9 125.6,397.3 127.9,379.3 135.1,343.3 138.4,333.3 143.1,325.3 148.5,319.1 156.5,312.3 190.5,289.7 196.5,288 200.5,287.9 204.5,289.4 207.7,293.3 213.6,303.3 219.8,309.3 228.5,313.6 242.5,318.2 250.5,319.4 255.5,319.3 284.5,308.7 293.3,303.3 296.8,299.3 300.1,293.3 302.3,285.3 301.7,273.3 306.5,258 308.5,253.7 310.7,251.3 314.5,249.3 324.5,246.1 326.5,244.8 330,239.3 332.7,231.3 335.7,227.3 342,223.3 346.5,221.8 350.5,221.8 360.5,224.4 377.5,221.3Z"/>
<path fill="#ff2900" d="M378.5,223 384.5,223.1 396.5,224.7 408.5,223.8 412.5,224.1 420.5,226.4 424.4,229.3 426.4,233.3 426.8,239.3 420.2,261.3 419.4,267.3 420.5,271.9 422.5,274.8 424.5,276.3 428.5,277.3 432.5,277.1 454.5,272 464.5,270.9 494.5,270.5 504.5,271.2 512.5,272.8 528.5,278.9 534.5,282.2 548.5,295.3 564.5,304.6 582.5,320.3 588.5,323.8 592.5,324.8 596.7,323.3 598.5,320.9 599.6,317.3 599.4,311.3 595.9,297.3 596.7,291.3 599.8,285.3 603,275.3 605.7,271.3 610.5,267 616.5,263.2 624.5,260.9 650.5,260.3 666.5,257.7 678.5,258.8 678.5,567.3 217.7,567.3 216.5,565.3 211.6,561.3 200.5,556.1 194.5,555.4 178.5,555.7 158.5,551.5 150.5,552.4 142.5,554.8 129.9,561.3 122,567.3 120.5,567.3 120.5,468.6 123.5,467.3 124.9,465.3 129.7,447.3 130.8,437.3 131.8,399.3 133.4,381.3 140,339.3 142.9,331.3 146.5,325.7 152.3,319.3 159.6,313.3 186.5,296.1 192.5,293.2 196.5,292.3 200.5,292.6 202.5,293.4 212,305.3 218.5,310.6 228.5,315.3 242.5,319.7 252.5,321.1 256.5,320.7 286.5,309.7 292.5,306.5 296.6,303.3 301.1,297.3 304.4,291.3 305.9,285.3 305.2,275.3 305.8,269.3 308.5,258.7 311.3,253.3 316.5,250.3 320.5,249.7 324.5,250.1 328.5,248.2 339.1,231.3 340.7,229.3 344.5,226.6 350.5,225.4 360.5,226.8 376.6,223.3Z"/>
<path fill="#ff1d00" d="M378.5,225.1 384.5,224.8 396.5,226.4 410.5,226 416.5,227.3 419.9,229.3 421.6,231.3 423.1,235.3 422.7,241.3 415.8,259.3 413.9,269.3 414.5,277 416.5,284.4 418.5,287.6 420.5,288.7 424.5,288.2 444.5,280 458.5,276.4 492.5,274.9 504.5,275.3 512.5,276.5 524.5,280.3 532.5,283.9 548.2,297.3 564.5,306.9 582.5,322.9 588.5,326.5 592.5,327.7 596.5,327.5 598.5,326.6 600.5,324.7 602.3,321.3 603.1,317.3 602.8,311.3 598.4,299.3 597.8,293.3 604.5,275.8 606.5,273 610.5,269.3 618.5,264.5 624.5,263 654.5,261.2 668.5,259.5 678.5,260.8 678.5,567.3 219.8,567.3 218.5,565.1 212.5,560.5 200.5,554.5 158.5,548.2 154.5,548.6 144.2,551.3 120.5,562.8 120.5,473.8 124.5,473.2 127.2,469.3 134.2,445.3 137.5,389.3 142.3,357.3 143.3,341.3 145.5,333.3 149,327.3 154.5,321.4 161.7,315.3 184.5,301.4 190.5,298.6 194.5,297.6 200.5,298.5 212.7,309.3 220.2,313.3 229.6,317.3 240.5,320.7 250.5,322.3 254.5,322.5 260.8,321.3 274.5,315.4 288.5,310.8 295.1,307.3 300,303.3 306.1,295.3 309.4,289.3 310.6,283.3 309.7,267.3 311.1,261.3 314.2,255.3 316.5,254.2 318.5,254.3 324.5,256.2 328.5,254.7 334,249.3 338.9,241.3 344.5,234.2 348.5,230.9 352.5,229.9 362.5,229.1 377.4,225.3Z"/>
<path fill="#ff1100" d="M380.5,227.3 386.5,227 394.5,228.5 404.5,228.1 410.5,228.7 416.5,230.9 418.5,233.3 419.1,239.3 413.2,253.3 409.9,263.3 407.5,279.3 403,297.3 403,303.3 404.1,307.3 406.5,310.5 410.5,312.5 416.5,312.1 422.2,309.3 424.5,307 432,295.3 435.6,291.3 441.3,287.3 450.5,283.5 462.5,280.7 492.5,278.8 506.5,278.9 518.5,281.1 530.5,285.5 536.5,289.6 548.5,299.6 562.5,307.6 576.5,320.5 584.5,326.6 592.5,330.3 598.5,330.6 601.2,329.3 604.2,325.3 605.7,321.3 606.4,315.3 605,307.3 599.9,297.3 599.5,291.3 605.4,277.3 610.5,271.5 618.5,266.7 624.5,265.2 668.5,261.2 672.5,261.3 678.5,263 678.5,567.3 221.8,567.3 220.5,564.9 215.9,561.3 208.5,556.7 200.5,553.1 186.5,548.8 178.5,548 170.5,546.1 158.5,545.2 154.5,545.7 142.5,549.4 132.5,555.2 120.5,559.9 120.5,477 124.5,477.2 126.7,475.3 130.3,467.3 137.5,445.3 139.5,427.3 142.5,385.3 147.3,357.3 147.3,339.3 149,333.3 151.4,329.3 158.5,322.2 164.5,317.7 184.5,306.2 192.5,303.5 196.5,303.4 200.5,304.6 212.5,312.3 230.5,319.2 240.5,322.1 252.5,323.9 256.5,323.8 262.5,322.6 274.5,317.3 290.5,312.1 296.5,309 301.5,305.3 308.7,297.3 314.6,289.3 317.2,283.3 317.4,279.3 316.3,269.3 316.5,267.2 318.5,264 330.5,260.2 338.5,255.5 341.5,251.3 346.4,241.3 349.8,237.3 352.5,235.4 371.6,229.3 380.2,227.3Z"/>
<path fill="#ff0600" d="M378.5,231.1 384.5,230 394.5,231.6 404.5,231.5 410.5,233.2 412.8,235.3 413.1,239.3 405.5,259.3 401.2,275.3 395.5,289.3 392.9,303.3 393.1,309.3 395.4,315.3 400.5,320.8 406.5,323 414.5,321.2 424.5,315.9 429.5,311.3 441.3,295.3 446.5,291.4 452.5,288.6 462.5,285.7 494.5,282.4 506.5,282.1 520.5,284.2 530.5,287.9 548.1,301.3 562.5,309.6 575,321.3 584.5,328.9 592.5,332.9 600.5,334.1 602.5,333.4 604.5,331.7 606.5,328.4 608.9,321.3 609.6,315.3 608.6,307.3 606.5,303.3 601.9,297.3 600.7,293.3 600.8,291.3 606.5,278.1 610.5,273.6 616.5,269.8 622.5,267.7 640.5,266 648.5,264.5 670.5,263.2 678.5,265.6 678.5,567.3 223.6,567.3 220.5,562.9 204.5,553.4 188.5,546.7 180.5,545.5 170.5,542.9 154.5,543.4 140.5,548.1 130.5,554.2 120.5,557.6 120.5,479.2 124.5,479.9 126.3,479.3 128.5,476.1 136.2,457.3 140.2,445.3 145.8,401.3 146.7,385.3 152.1,357.3 151,339.3 151.9,335.3 154.2,331.3 160.5,325.5 166.5,321.2 184.5,312.9 190.5,311.4 204.5,312.7 218.5,316.2 230.5,320.7 238.5,323 254.5,325.4 264.5,323.8 276.5,318.7 292.8,313.3 303,307.3 319.3,291.3 324.1,285.3 328.5,275.5 330.5,273 334.5,270.5 340.5,268.1 344.6,265.3 348.4,259.3 352.5,246 356,241.3 358.8,239.3 370.5,233.7 377.8,231.3Z"/>
<path fill="#f90000" d="M380.5,237.2 384.5,236.5 390.5,237.5 398.5,240.8 400.1,243.3 399.8,249.3 396.6,261.3 387.5,285.3 384.6,309.3 385.9,315.3 390.4,321.3 398.2,327.3 404.5,329.6 408.5,329.3 414.5,327.4 425.3,321.3 432.4,315.3 446.5,299.3 456.5,293.3 464.5,290.9 490.5,286.5 508.5,285.2 520.5,286.6 530.5,290.3 548.3,303.3 560.5,310.1 576.5,324.6 586.5,332.5 594.5,336.1 602.5,337.5 606.3,335.3 608.5,332 611,325.3 612.7,317.3 612.6,309.3 610.8,303.3 604.5,297.6 602.1,293.3 602.5,289.3 606.5,281 610.5,275.7 614.5,273.1 620.5,270.6 640.5,268.1 650.5,266.2 670.5,265.9 678.5,268.7 678.5,567.3 225.1,567.3 222.9,563.3 220.5,561.3 206.5,553 188.5,544.7 170.5,540.8 154.5,541.5 140.5,546.3 130.5,552.5 120.5,555.6 120.5,481 126.5,482.2 128.5,479.7 138.2,457.3 142.3,445.3 149.4,403.3 150.8,383.3 156.1,357.3 155.1,339.3 156.4,335.3 157.9,333.3 166.5,326.5 172.5,324.3 178.5,324.7 188.5,329.2 192.5,329.7 194.5,328.8 202.5,320.3 208.5,317.8 218.5,318 230.5,322.4 238.5,324.5 252.5,326.7 258.5,326.8 266.5,325.1 276.5,320.9 296.5,314.1 302.5,310.8 309.6,305.3 323.7,293.3 336.5,280.3 351,271.3 355.9,265.3 361,253.3 364.5,247.8 372.4,241.3 380,237.3Z"/>
<path fill="#ee0000" d="M648.5,268.9 668.5,268.9 678.5,272.4 678.5,567.3 226.6,567.3 224.5,563.3 222.5,561.2 208.5,552.6 189,543.3 170.5,539.2 156.5,539.7 152.5,540.6 139.4,545.3 128.5,551.8 120.5,553.8 120.5,482.4 126.5,484.3 128.5,482.8 139.3,459.3 143.5,447.3 152.8,403.3 153.9,385.3 159.2,359.3 159.4,341.3 162.5,335.6 168.5,331.3 174.5,330.2 190.5,334.7 194.5,334.8 198.5,332.7 206.5,322.5 210.5,320.4 214.5,319.7 220.5,320.2 230.5,324.1 236.5,325.7 254.5,328.5 260.5,328.5 266.5,327.2 280.5,321.8 294.8,317.3 302.5,313.9 324.5,298.2 340.5,284.7 364.5,272.3 370.5,270.5 372.5,270.8 374.5,272.2 377.1,279.3 378.7,293.3 378.1,311.3 379.4,317.3 382,321.3 386.3,325.3 392.5,329.4 400.5,333.1 404.5,333.8 410.5,333.5 416.5,331.6 422.5,328.5 432.5,321.2 450.5,303.9 460.5,298.1 494.5,289.5 502.5,288.4 512.5,288.2 522.5,289.4 530.5,292.6 545.5,303.3 559.7,311.3 580.5,330.3 586.5,334.8 596.5,339.3 600.5,340.2 604.5,340.1 608.5,338 610.7,335.3 614.8,323.3 616.2,315.3 615.8,307.3 613.6,301.3 611.8,299.3 606.5,296.4 603.7,293.3 603.9,289.3 608.5,280.3 612.5,276.4 620.5,273.1 646.7,269.3Z"/>
<path fill="#e20000" d="M640.5,273.3 652.5,271.6 664.5,271.9 670.5,273.3 678.5,277.4 678.5,567.3 228,567.3 226,563.3 222.5,559.7 208.5,551.3 190.5,542.3 176.5,538.7 170.5,537.8 158.5,538.2 151.6,539.3 138.5,544.3 128.5,550.4 120.5,552.1 120.5,483.7 126.5,485.7 128.5,484.9 141.1,459.3 144.6,449.3 155.9,403.3 157.3,385.3 162.3,361.3 163,345.3 164.7,341.3 168.5,337.8 172.5,336.1 176.5,335.8 184.5,336.5 192.5,338.1 196.5,337.9 200.5,335.8 202.5,333.9 208.1,325.3 210.5,323.3 216.5,321.6 220.5,322 230.5,326 238.5,327.9 246.5,328.6 256.5,330.5 266.5,329.4 304.5,316 327.9,301.3 344.5,288.5 352.5,285 360.5,283.6 366.5,285.4 368.6,287.3 370.9,291.3 372.6,299.3 372.8,315.3 374,319.3 376.4,323.3 380.6,327.3 386.8,331.3 394.5,334.9 400.5,336.8 406.5,337.6 412.5,337.2 422.5,333.6 432.5,326.6 452.5,309.4 464.5,302.5 494.5,293 504.5,291.3 514.5,290.9 522.5,291.6 527.7,293.3 546,305.3 556.5,310.9 562.5,315.6 582.5,334.4 588.5,338.5 598.5,342.1 606.5,342.8 610.5,341.3 613.9,337.3 618.9,321.3 619.9,313.3 619.3,307.3 617.4,301.3 614.1,297.3 606.2,293.3 605.1,291.3 606.5,287.3 610.5,280.4 614.5,277.7 622.5,275.6 640.5,273.3Z"/>
<path fill="#d60000" d="M650.5,275.3 664.5,276.1 667.9,277.3 670.5,279.3 673.9,285.3 676.5,298.5 678.5,301.8 678.5,567.3 229.5,567.3 226.5,561.9 222.5,558.2 210.5,550.8 194.5,542.5 178.5,537.6 168.5,536.4 158.5,536.7 150.5,538.1 138.5,542.8 128.5,548.9 120.5,550.4 120.5,484.8 126.5,486.9 128.5,486.4 129.6,485.3 142.9,459.3 147.4,445.3 158.6,405.3 160.3,387.3 165.5,363.3 167,347.3 168.5,344.5 172.5,341.4 176.5,340 182.5,339.3 194.5,341.2 198.5,340.7 204.5,336.6 210.3,327.3 212.4,325.3 216.5,323.9 220.5,324 228.5,327.5 234.5,329.2 246.5,330.3 256.5,332.5 262.5,332.5 268.5,331.2 284.5,325.3 306.5,318.7 330.5,306 346.5,293.9 352.5,291.4 356.5,291 360.5,291.8 362.5,293 365.6,297.3 366.8,303.3 366.8,317.3 369,323.3 372,327.3 377.1,331.3 382.5,334.2 390.5,337.5 400.5,340.3 410.5,341.5 416.5,340.8 420.5,339.6 428.5,335.1 454.5,314.5 467,307.3 484.5,300.2 496.5,296.2 506.5,294.2 518.5,293.5 522.5,293.9 527.2,295.3 543.1,305.3 556.5,312.6 570.9,325.3 580.5,335.3 586.5,340 590.5,342.1 596.5,344 606.5,346.3 610.5,346.3 614.5,344.4 618,339.3 623.2,321.3 623.8,315.3 623.1,307.3 620.5,299.2 617.5,295.3 610.1,291.3 608.9,289.3 611.4,283.3 613.1,281.3 616.5,280.2 650.2,275.3Z"/>
<path fill="#cb0000" d="M638.5,281 646.5,279.8 654.5,279.9 660.5,281.2 663.6,283.3 664.9,285.3 666,289.3 668.5,315.3 669.6,319.3 672.5,322.2 678.5,323.4 678.5,567.3 231.1,567.3 229.2,563.3 224.5,558 212.5,550.3 196.5,541.8 180.5,536.5 166.5,534.8 156.5,535.5 148.5,537.1 136.5,542.4 128.5,547.3 124.5,548.5 120.5,548.7 120.5,485.8 126.5,488 128.5,487.7 130.5,486 144.6,459.3 161.8,405.3 163.8,387.3 168.3,369.3 171.4,351.3 173.4,347.3 176.5,344.9 180.5,343 184.5,342.2 194.5,344.3 200.5,343.3 206.5,339.1 214.5,328.3 218.5,326.8 234.5,331.7 246.5,332.4 256.5,335 262.5,335 268.5,333.9 287.3,327.3 308.5,322.3 332.5,313.7 338.5,310.7 350.5,301.5 354.5,300.9 356.5,301.9 357.9,305.3 357.4,317.3 358.8,323.3 361,327.3 365.2,331.3 374.5,336.3 388.5,341 408.5,345.6 416.5,345.9 422.5,344.4 426.5,342.4 450.5,323.3 462.5,315.8 474.9,309.3 488.5,303.2 500.5,298.8 510.5,296.7 520.5,296.2 526.5,297.4 555.1,313.3 570.5,326.8 580.5,338.2 586.5,343 592.5,345.7 600.5,347.9 608.5,352.1 612.5,352.7 615.9,351.3 618.2,349.3 622,343.3 628.3,321.3 627.7,309.3 625.6,299.3 622.4,289.3 622.7,287.3 625.2,285.3 628.5,283.9 637.2,281.3Z"/>
<path fill="#bf0000" d="M638.5,286.9 644.5,285.5 650.5,285.6 654.5,286.9 657.4,289.3 659.3,293.3 660.7,301.3 660.9,309.3 659.7,319.3 660.8,325.3 662.5,327.7 666.5,330.5 672.5,332.3 678.5,332.8 678.5,567.3 232.8,567.3 231,563.3 226.5,557.7 212.5,548.5 194.5,539.1 178.5,534.4 164.5,533.2 150.5,534.9 142.5,537.7 126.5,546.4 120.5,546.8 120.5,486.9 126.5,489.1 128.5,489 130.5,487.7 141.5,467.3 145.4,461.3 154,435.3 165.2,405.3 168,387.3 175.4,357.3 178.5,352.1 184.5,348.1 186.5,347.3 196.5,347.6 202.5,346 208.5,341.8 216.5,333 220.5,331.6 234.5,334.6 246.5,335.6 254.5,337.7 260.5,338.1 270.5,336.4 294.5,329 302.5,327.8 312.5,327.4 320.5,328.5 326.5,331.8 329.8,335.3 332.3,339.3 336.5,349.9 338.5,352.4 340.5,353.4 342.5,353.1 344.5,351.7 352.5,343.2 356.5,341.4 362.5,340.7 372.5,341.9 396.5,346.9 412.5,351.6 420.5,351.8 426.5,349.7 430.5,347.1 442.3,335.3 448.5,330.5 482.3,311.3 494.2,305.3 504.5,301.3 512.5,299.5 520.5,298.9 526.5,300.3 554.5,314.6 570.5,329 578.2,339.3 582.5,343.6 588.5,347.7 598.5,351.6 600.5,353.4 608.5,364.3 610.5,365.5 612.5,365.6 616.5,362.7 622.5,353.9 627.6,343.3 632.1,331.3 633.7,325.3 634.3,319.3 631.6,301.3 631.4,295.3 632.7,291.3 634.4,289.3 637.6,287.3ZM605.7,381.3 590.9,389.3 582.8,395.3 583.3,397.3 596.5,404 602.5,405 608.5,403.4 611.2,401.3 614,397.3 615.3,393.3 615.5,389.3 614.5,384.9 612.5,381.7 610.5,380.4 606.5,380.9Z"/>
<path fill="#b40000" d="M644.5,295.2 648.5,295.9 650.5,297.8 651.7,301.3 651.8,307.3 649.3,317.3 649.1,321.3 650.3,325.3 652.7,329.3 656.7,333.3 662.5,336.8 670.5,339.7 678.5,340.9 678.5,567.3 234.7,567.3 233.1,563.3 228.4,557.3 214.5,547.6 196.5,538 178.5,532.6 164.5,531.4 150.5,533.1 142.5,535.7 126.5,544.6 120.5,544.8 120.5,488.2 126.5,490.5 128.5,490.4 130.6,489.3 132.5,487 142.5,468.3 147.1,461.3 156.2,435.3 169.2,405.3 172.9,387.3 179.6,361.3 182.1,357.3 184.5,355.2 190.5,352.5 200.5,350.5 204.5,349 208.5,346.5 218.5,338.1 222.5,336.9 242.5,339.4 254.5,341.7 260.5,342 268.5,340.6 294.5,333.3 302.5,332.9 308.5,334.4 313.5,337.3 319.2,343.3 330.5,358.6 333.8,361.3 336.5,362.4 340.5,362.7 345,361.3 360.5,350.1 366.5,348.2 372.5,347.8 382.5,348.9 396.5,351.9 416.5,362.1 422.5,363.2 426.5,362.2 432.5,357.7 444.2,341.3 448.5,337.1 468.5,326.7 492.7,311.3 502.5,306.1 510.5,303.2 518.5,302 526.5,303.2 548.5,312.7 553,315.3 560.5,322.8 568.6,329.3 578.5,344.2 591.8,357.3 592.7,359.3 592.9,363.3 590,369.3 584.5,374.4 570.5,382.7 565.1,387.3 561.7,393.3 561.5,399.3 563.4,403.3 568.3,407.3 586.5,412.3 593.7,415.3 603.8,421.3 610.1,427.3 611.4,431.3 609.7,435.3 599,449.3 595.1,457.3 592.7,465.3 592.6,471.3 594.5,475.4 596.5,477.4 600.5,479.3 608.5,479.5 616.5,477.1 619.6,475.3 622.5,472.5 624.1,469.3 624.6,465.3 621.4,445.3 617.4,433.3 616.8,429.3 619.3,423.3 632.2,403.3 634.1,397.3 633.2,389.3 626.6,369.3 626.5,361.3 628,355.3 630.4,349.3 639.7,333.3 643.4,325.3 644.2,321.3 644.1,317.3 640.5,305.3 640,301.3 641.3,297.3 644.2,295.3ZM293.9,379.3 289.9,383.3 289.3,387.3 290.5,388.5 292.5,389.1 296.5,387.8 298.8,385.3 299.6,381.3 298.5,379.1 296.5,378.6 294.5,379ZM477.6,453.3 475.2,455.3 474.6,457.3 474.9,461.3 476.5,464.4 479.8,467.3 492.5,473.8 500.6,481.3 504.9,487.3 507.5,493.3 508.7,499.3 509.5,511.3 510.8,515.3 512.5,517.7 516.5,520.1 522.5,520.5 528.6,517.3 531.9,513.3 533.8,509.3 537.3,491.3 540.4,481.3 540.4,477.3 539.4,475.3 535.2,471.3 529,467.3 514.5,460 508.5,458.5 492.5,457 478.5,453.1Z"/>
<path fill="#a80000" d="M510.5,307.1 518.5,305.5 524.5,305.9 550.5,315.4 558.5,324.2 567.7,331.3 572,341.3 578.6,353.3 579.5,359.3 577.8,363.3 573.7,367.3 562.5,374.4 556.9,379.3 553.3,385.3 551.4,393.3 551.5,399.3 552.7,403.3 557.3,409.3 564.5,413.5 580.5,418 588.1,421.3 593.1,425.3 596.5,431.3 596.8,435.3 596,439.3 590.5,449.6 578.5,464.8 574.5,468.6 570.5,471.2 566.5,471.1 542.5,464.3 516.5,453.1 496.5,446.1 486.5,440.9 469.6,429.3 465,425.3 462.5,421 453.5,397.3 450,383.3 448.4,367.3 449.3,355.3 451.9,347.3 456.5,342.8 468.5,337.3 474.5,333.7 499.4,313.3 510,307.3ZM292.5,341 299.5,341.3 302.5,343 304.5,345 307.4,351.3 307.5,355.3 306.5,357 274.5,371.1 254.5,376 250.5,377.8 246.5,380.9 242.3,387.3 240.6,395.3 242.2,405.3 244.1,409.3 246.5,412.2 250.5,414.8 254.5,416.1 260.5,416.8 268.5,416.2 276.5,413.7 300.2,401.3 305.5,397.3 310.5,391.3 314.8,383.3 319.4,371.3 321.9,369.3 334.5,369.8 342.5,368.3 348.5,365.5 362.5,356.4 370.5,353.9 380.5,353.9 392.5,357.2 398.5,361.3 401.8,365.3 403.8,369.3 405.1,375.3 405.2,389.3 407.8,395.3 412.5,399.7 430.5,410 451.4,429.3 454,433.3 458.2,447.3 466.5,468.7 469,473.3 474.5,478.5 490.5,485.3 496.5,489.8 501.2,497.3 504.8,515.3 507.6,521.3 510.5,524.6 514.5,527.3 518.5,528.8 522.5,529.4 526.5,528.9 530.5,527.4 533.2,525.3 536.4,521.3 539.8,513.3 543.7,495.3 548.5,487.5 554.5,482.4 566.5,476 570.5,475.6 572.5,476.4 588.5,486.9 594.5,489.2 600.5,490.4 608.5,490.8 618.5,489.5 626.5,486.6 631,483.3 634.4,477.3 635.3,471.3 632.5,445.3 632.8,427.3 635.6,417.3 642.1,403.3 643.6,395.3 642,383.3 634,363.3 633.7,359.3 634.5,354.8 636.5,350.7 640.5,346.1 644.5,343.3 648.5,342.1 654.5,343.1 670.5,348.8 678.5,350 678.5,567.3 237,567.3 235.5,563.3 230.5,556.5 226.5,552.9 216.5,546.3 198.5,536.6 182.5,531.4 168.5,529.5 152.5,530.7 142.5,533.5 126.5,542.6 120.5,542.5 120.5,489.8 126.5,492.1 130.5,491.2 132.5,489.5 140,477.3 144.5,467.9 149.1,461.3 157.7,437.3 174.8,403.3 183.7,367.3 186.5,361.3 188.5,359.2 192.5,356.9 208.5,351.8 218.5,344.7 222.5,343 230.5,343 250.5,347.4 256.5,348.1 262.5,347.5 274.5,344.1 290.6,341.3ZM385.6,463.3 376.5,465.5 366.4,471.3 362.7,475.3 360.8,479.3 360.9,483.3 362.5,484.7 366.5,485.7 380.5,486.3 400.5,488.7 406.5,490.4 420.5,497.2 428.5,497.8 435.1,495.3 438.1,491.3 438,487.3 434.5,482.5 429.8,479.3 416.5,473.6 402.5,465.9 394.5,463.6 386.5,463.2Z"/>
<path fill="#9c0000" d="M512.5,311.1 518.5,309.6 524.5,309.6 548.5,316.5 551.7,319.3 556.5,327.4 564.5,333.3 565.2,347.3 564.5,351.2 562.5,353.4 558.5,354.9 552.5,355.5 548.5,354.6 539.8,345.3 532.7,341.3 528.5,340.1 524.5,339.8 520.5,341.2 519,343.3 519,345.3 525.9,357.3 530.1,371.3 536.5,378.9 538.8,383.3 540.6,391.3 540,403.3 541.3,407.3 542.7,409.3 547.3,413.3 554.5,417.3 580.9,425.3 586.4,429.3 588.5,432.7 589.2,435.3 588.9,439.3 585.8,445.3 578.5,452.4 570.5,457.1 564.5,458.8 558.5,459.3 546.5,457.6 534.5,453.6 502.5,440.2 488.5,432.2 477.3,423.3 470.5,415.4 466.2,407.3 463.9,399.3 463.6,393.3 465,385.3 467.3,379.3 472.5,370.9 483.1,357.3 488.4,349.3 492.6,341.3 498,327.3 501.4,321.3 506.3,315.3 512.1,311.3ZM220.5,353 224.5,352.1 228.5,352.6 234.5,356 237.2,359.3 238,361.3 237.8,369.3 236.3,375.3 231.1,389.3 227.3,405.3 221.3,419.3 213.7,431.3 198.5,448.6 194.3,455.3 192.6,461.3 192.6,465.3 193.8,469.3 196.5,472.2 200.5,472.8 212.5,470.9 220.5,470.8 224.5,469.6 226.5,466.9 228.8,455.3 230.9,449.3 234.6,443.3 238.8,439.3 248.5,434 280.5,421 302.5,409.3 313,401.3 326.5,385.9 331.5,381.3 360.5,364.3 370.5,360.3 376.5,359.6 380.5,360.2 387.3,363.3 389.4,365.3 391.6,369.3 392.1,375.3 389.9,385.3 389.9,389.3 391.5,393.3 394.4,397.3 400.6,403.3 406,407.3 430.5,421.5 436.5,426.7 440.3,431.3 442.4,435.3 447.3,449.3 454.5,460 457.1,465.3 458.8,473.3 458.8,485.3 460.5,487.3 464.5,488.9 484.5,492.1 491.2,495.3 495.8,501.3 501.5,521.3 506.4,529.3 510.5,533.2 516.5,536.7 520.5,538.1 526.5,538.8 534.5,537.1 538.5,534.6 541.4,531.3 543.4,527.3 545.3,521.3 549.2,499.3 552.5,493.9 556.5,491.1 560.5,489.8 566.5,490 588.5,497.5 598.5,499.4 608.5,500.1 620.5,499.3 630.5,497.5 636.9,495.3 642,491.3 643.9,487.3 644.4,481.3 641,451.3 640.9,433.3 643,421.3 648.6,405.3 650.6,397.3 652.9,379.3 652.9,365.3 654,363.3 656.5,362.3 678.5,361.1 678.5,567.3 470.7,567.3 467.7,561.3 457,547.3 452.5,543.7 448.5,542.3 438.5,542.7 408.5,549.1 384.5,549.6 380.5,549 376.5,545.6 374.7,541.3 373.1,531.3 372.6,521.3 373.4,515.3 374.8,511.3 377.2,507.3 381.2,503.3 388.5,499.1 396.5,497.5 402.5,498.6 412.4,503.3 416.5,504.4 422.5,504.8 430.5,504.1 436.5,502.5 443.4,499.3 450.3,493.3 452.3,489.3 451.9,487.3 449.9,485.3 408.5,456.7 390.5,448 382.5,445.4 378.5,444.9 374.5,445.4 368.5,447.8 354.5,457.4 340.5,471.3 330.5,484.8 326.6,493.3 325.5,499.3 325.5,505.3 327.6,525.3 325.6,537.3 321.2,549.3 316.7,553.3 310.5,556.1 302.5,558.3 278.5,562.5 274.5,564.5 272.8,567.3 239.8,567.3 236.1,559.3 230.9,553.3 226.5,549.8 216.5,543.2 202.5,535.7 186.5,529.8 170.5,527 154.5,527.8 142.5,530.8 126.5,540.1 120.5,539.6 120.5,493.4 128.5,494.2 133.5,491.3 136.5,485.2 142.3,477.3 145.7,469.3 150.3,463.3 153.7,453.3 160.5,437.7 168.5,423.5 177,411.3 181.4,403.3 187.4,381.3 192.8,365.3 194.5,363.1 198.5,360.4 210.5,357.5 219.8,353.3Z"/>
<path fill="#910000" d="M520.5,316.6 526.5,315.8 534.5,316.1 546.3,319.3 548,321.3 548,325.3 546.5,328 544.5,329.4 540.5,330.3 536.5,330.1 523.3,325.3 519.2,323.3 517.1,321.3 517,319.3 518.7,317.3ZM502.5,359.2 506.5,358.5 508.5,359.2 510.5,361 512,365.3 513,375.3 514.6,379.3 517.8,383.3 527.1,391.3 528.1,395.3 525.9,405.3 526.9,409.3 530.1,413.3 536.5,417.9 546.5,423 554.5,425.8 572.5,430.2 578.5,433.6 580.2,437.3 579.9,439.3 577.2,443.3 571.7,447.3 564.5,450.5 556.5,451.6 548.5,450.4 538.2,447.3 502.5,431.9 488.5,422.6 478.5,413.2 474.6,407.3 472.5,401.3 472.3,395.3 474.1,389.3 476.5,385 480.5,380.2 498.5,362.3 502.4,359.3ZM208.5,367.2 216.5,365.4 220.5,365.8 222.5,366.8 224.7,369.3 225.6,371.3 225.9,375.3 219.5,395.3 216.5,401.9 201.3,423.3 185.6,443.3 182.5,448.3 180.5,453.3 178.8,463.3 179.8,475.3 183,483.3 184.6,485.3 188.5,488.2 192.5,489.4 196.5,489.4 212.5,483.7 216.5,483.4 228.5,485.2 233.8,483.3 235.8,481.3 237.8,477.3 240.3,463.3 242.5,457.6 246.5,451.6 250.9,447.3 258.5,442.1 270.5,435.3 296.5,422.4 308.5,415.5 319,407.3 336.5,389.7 344.1,383.3 360.5,372.6 368.1,369.3 372.5,368.3 377.6,369.3 379.3,371.3 379.7,373.3 375.7,387.3 376.4,393.3 378.5,397.3 384.5,403.2 394.5,410.6 410.5,420.5 424.5,427.7 429.3,431.3 433.2,437.3 437.4,453.3 445.1,463.3 447,467.3 446.5,469.5 444.5,470.2 440.5,469.1 412.5,447.8 384.5,432.9 380.5,431.8 376.5,431.8 368.5,434.4 356.5,442.3 341,455.3 327.8,469.3 318.5,481.7 314.8,489.3 312.9,497.3 313.2,519.3 312.2,527.3 310.1,533.3 306.5,538.8 302.5,542 296.5,544.4 286.5,546 270.5,547.1 262.5,549.8 258.5,553.3 256.4,557.3 255.5,567.3 244.4,567.3 243.5,563.3 239.9,557.3 230.5,547.8 218.5,539.9 204.5,532.6 186.5,526.2 172.5,523.6 156.5,524.1 146.5,526 140.5,528 126.5,535.7 120.5,534.9 120.5,499.9 130.5,496.9 134.5,494.3 136.5,491.8 138.5,487.3 144.4,479.3 148.5,470.1 153.8,463.3 156.5,455.1 163.3,441.3 172.7,427.3 183.8,413.3 189,405.3 191.2,399.3 194.5,385.3 200.3,373.3 203.9,369.3 208,367.3ZM676.5,372.9 678.5,372.6 678.5,567.3 488.4,567.3 487,563.3 484.5,559.7 474.5,548.9 466.4,537.3 460.5,532 454.5,529.5 446.5,528.5 440.5,529 420.5,533.5 414.5,534 408.5,533.4 403.7,531.3 399.4,527.3 391.9,513.3 391.9,511.3 393,509.3 396.5,507.5 400.5,508.5 408.5,512.7 418.5,513.2 436.5,510.7 468.5,502 476.5,500.9 482.5,501.1 487.2,503.3 490.5,507.3 496.6,527.3 499.8,533.3 503,537.3 508.5,542.2 514.5,545.7 520.5,547.9 528.5,548.7 534.5,548.1 540.5,546.2 545,543.3 548.6,539.3 550.9,535.3 552.8,529.3 555.8,505.3 558.4,501.3 560.5,500.2 566.5,500.4 576.5,504.3 584.5,506.4 606.5,509.2 618.5,509 630.5,507.8 640.5,505.9 646.5,503.5 650.5,500.7 653.3,497.3 654.9,493.3 655.4,489.3 654.8,483.3 650.8,465.3 649.2,451.3 649.2,437.3 651.2,423.3 659,395.3 662.5,385.8 665.1,381.3 668.4,377.3 675.1,373.3Z"/>
<path fill="#850000" d="M492.5,385 496.5,383.4 500.5,384.4 503.4,387.3 507.5,393.3 509.4,397.3 511.6,409.3 515.1,419.3 515.4,421.3 514.5,422.4 510.5,422.5 504.5,419.6 490.5,410.9 485.4,405.3 483.8,401.3 483.9,395.3 486.5,390.3 492,385.3ZM678.5,389.1 678.5,567.3 543.5,567.3 544.9,565.3 556.5,555 561.3,549.3 565.3,541.3 570.1,525.3 572.5,522.4 575.2,521.3 580.5,521.1 600.5,523.6 610.5,524.2 638.5,522.5 646.5,520.7 652.5,518.1 658.5,514 662.5,509.7 666.4,501.3 667.3,493.3 662.5,470.2 660.9,457.3 660.6,443.3 661.8,429.3 664.5,415.1 668.5,400.4 672.5,393.2 674.5,391.1 677.7,389.3ZM354.5,392.3 358.5,391.4 360.5,393.1 367.5,409.3 368.4,413.3 367.9,415.3 364.7,419.3 342.5,436.4 330.5,446.9 316.8,461.3 307.3,473.3 303.9,479.3 301.3,487.3 298.9,521.3 296.5,526.7 293.6,529.3 287.8,531.3 272.5,532.7 266.5,534 260.5,536.3 248.5,543.5 244.5,544.9 238.5,543.1 220.5,532.6 206.5,526.3 190.5,520.3 182.5,518.1 172.5,516.2 164.5,516.7 146.5,519.9 128.5,525.4 126.5,524.9 124,523.3 122.8,521.3 123.4,517.3 129,507.3 140.2,495.3 154.5,471.5 162.5,462.5 164.5,461.3 166.5,463.3 167,465.3 172.5,492.2 174.5,496.3 178.5,499.8 184.5,501.7 192.5,502.3 198.5,501.7 214.5,497.4 218.5,497.6 230.5,500.2 236.5,499.7 240.5,498.1 244.6,495.3 249.2,489.3 252.1,481.3 254.6,467.3 256.5,462.9 260.5,458 269.9,451.3 304.5,432.9 318.5,424.3 328.5,416.1 344.5,400.2 352.8,393.3ZM474.5,517.3 477.3,519.3 477.5,521.3 476.5,522.4 473.4,521.3 472,519.3 474.2,517.3Z"/></g>
<path d="M240.5,193.3 234.5,194.2 230.5,195.8 226.5,199 224.8,201.3 223.2,205.3 222.8,209.3 223.8,215.3 225.7,219.3 227.3,221.3 230.5,223.8 242.5,228.4 258.5,231.3 266.5,231.6 270.5,231.3 274.5,229.9 278.2,227.3 279.5,225.3 280,223.3 279.6,219.3 278.2,215.3 275,209.3 269.8,203.3 262.5,198.5 252.5,194.8 242.5,193.3ZM220.5,175 216.5,176.3 212.5,178.4 207.4,183.3 204.4,189.3 203.5,193.3 203.3,197.3 204.6,205.3 208,213.3 215.1,223.3 218.9,227.3 221.7,229.3 226.3,231.3 236.5,234.6 242.5,237.5 253.6,241.3 268.5,244.1 270.5,243.8 274.5,241.7 288.5,231 290.5,228.5 293.5,221.3 293.2,219.3 289.2,213.3 288.4,211.3 286.9,203.3 285.3,199.3 282.5,195.2 276.5,190.3 262.5,183.2 252.5,179.2 244.5,176.6 236.5,174.8 230.5,174.2 224.5,174.3 220.5,175M200.5,153.1 196.5,154.5 192.5,156.7 187.5,161.3 183.8,167.3 181.6,175.3 181.3,183.3 183.1,193.3 186.1,201.3 190.7,209.3 195.6,215.3 199.8,219.3 216.5,231.9 219.8,233.3 234.5,237.8 252.5,245.5 262.5,248.5 268.5,251.4 270.5,251.5 272.5,250.3 279.3,243.3 291,233.3 292.7,231.3 298.5,221.3 298.7,217.3 297.9,211.3 297.7,203.3 295.1,191.3 293.2,187.3 291.2,185.3 287.8,183.3 272.5,176.4 244.5,161.8 232.5,156.5 224.5,153.9 216.5,152.3 208.5,151.9 202.5,152.6ZM178.5,113.3 172.5,114.1 166.5,116.2 160.5,120.2 156,125.3 152.5,131.9 150.3,139.3 149.4,147.3 149.8,157.3 151.6,167.3 154.7,177.3 159.1,187.3 164.8,197.3 172.1,207.3 179.4,215.3 186.5,221.3 192.8,225.3 206.5,230.8 214.5,235 232.5,239.7 252.5,248.4 260.5,251.1 268.5,254.6 270.5,254.9 272.5,254.1 280.8,245.3 292.5,235.1 300.6,223.3 301.9,219.3 303.8,207.3 303.5,195.3 303.9,189.3 305.1,185.3 308.5,179.3 309.8,171.3 308.5,169.3 300.5,173.3 294.5,174.4 288.5,173.7 282.5,171.7 276.5,168.7 267.9,163.3 232.5,136 214.5,124.2 204.5,119.2 194.5,115.5 186.5,113.7 178.5,113.3M120.5,176 122.5,176.7 126.5,179.8 142.2,197.3 156.6,211.3 168.8,221.3 181.2,229.3 186.5,231.9 192.5,233.8 206.5,235 214.5,237.9 224.5,239.6 230.5,241.3 242.5,246 252.5,250.9 268.5,257 270.5,257.2 272.5,256.8 274.5,255.5 281.6,247.3 294.5,236 302.2,225.3 304.9,219.3 307.5,209.3 308.2,205.3 308.4,191.3 309.5,187.3 312.5,180.9 315.5,171.3 318.4,159.3 318.5,157.3 317.7,155.3 314.5,152.9 312.5,152.5 310.5,153.3 308.5,155.6 304.9,163.3 302.9,165.3 298.5,167.6 294.5,168 290.5,167.3 284.5,164.6 279.5,161.3 272.6,155.3 263.3,145.3 253.8,133.3 243.7,119.3 233.1,103.3 223.7,87.3 215.4,71.3 209.9,59.3 208.6,55.3 207.9,51.3M380.5,65 372.5,67.5 368.2,69.3 365.1,71.3 356.3,81.3 355.6,83.3 356,85.3 357.5,87.3 359.9,89.3 364.5,91.3 388.5,96.1 390.5,95.4 392.1,93.3 392.8,89.3 392.2,85.3 388.5,72.7 386.5,67.8 384.5,65.7 382.5,65ZM365.6,51.3 364.5,54 361.6,57.3 358.5,59.9 354.5,62.2 348.5,64 340.5,63.5 336.5,64 332.5,65.9 328.5,69.4 324.5,74.3 321.4,81.3 320.5,85.6 320.1,91.3 320.5,95.2 321.3,97.3 322.5,99.4 324.5,101.6 328.5,103.6 332.5,103.8 338.5,102.8 344.5,99.5 348.5,98.7 354.5,100.1 374.5,106.5 388.5,108.7 392.5,107.9 406.5,102.6 408.5,101.3 409.9,99.3 410.9,95.3 410.8,91.3 409.2,85.3 406.7,79.3 401,69.3 396.2,51.3M120.5,205 126.5,207.6 148,221.3 161.9,229.3 172.5,234.7 180.5,238.1 186.5,240.1 192.5,241.2 196.5,240.8 202.5,238.9 206.5,238.5 226.5,242.1 236.5,245.6 252.5,253.1 268.5,259.3 272.5,259.2 274.5,258.3 276.5,256.5 284.3,247.3 296.2,237.3 305.4,225.3 307.9,219.3 311.7,205.3 312.3,191.3 317.5,175.3 320.9,163.3 321.7,159.3 321.5,155.3 320.5,153 317.7,149.3 315.6,143.3 314.5,141.7 312.5,141.3 310.5,142.4 308.1,145.3 304.5,153.3 302.7,159.3 301.4,161.3 298.5,162.9 294.5,162.5 289,159.3 284.7,155.3 279.9,149.3 274.8,141.3 268.9,129.3 264.3,117.3 260.9,105.3 258.7,93.3 258,83.3 258.5,74.1 259.6,67.3 262.7,55.3 263.3,51.3M120.5,223.4 126.5,225.3 161.5,239.3 173.2,243.3 180.5,245.3 192.5,247.2 196.5,246.4 202.5,242.9 206.5,241.8 220.5,242.9 228.5,244.6 234.5,246.7 250.5,254.2 266.5,261.1 270.5,261.9 274.5,261.1 277.1,259.3 284.8,249.3 299.2,237.3 306.5,228.9 309.4,223.3 314.5,207.3 315.1,203.3 315.4,193.3 316.1,189.3 322.8,167.3 324.7,159.3 324.7,155.3 322.2,147.3 321.6,141.3 323.8,133.3 324.9,125.3 325.8,123.3 328.5,119.7 330.5,118.2 339.8,115.3 348.5,109.7 352.5,108.7 356.5,109.1 360.5,110.3 368.6,115.3 375.8,121.3 380.5,123.3 382.5,123.4 384.5,122.8 396.5,118.4 400.5,118.5 402.5,119.4 404.5,121.3 405.8,123.3 406.9,127.3 406.9,133.3 404.5,141.3 404.5,143.3 406.3,153.3 408.5,157.3 409.7,161.3 409.3,177.3 408.3,183.3 410.5,185.2 418.5,185.6 428.5,187.8 434,187.3 438.5,185.6 440.8,183.3 442.5,179.3 441.2,167.3 443.1,157.3 443.1,155.3 440.7,147.3 440.8,143.3 441.8,137.3 439.1,131.3 438.7,129.3 438.6,125.3 439.1,121.3 438.8,119.3 436.5,116.7 429.2,113.3 427.5,111.3 426.7,109.3 424.4,89.3 421.5,71.3 419.7,67.3 414.5,61.3 413.5,59.3 412.8,55.3 413,51.3M294.5,101 296.5,101.5 300.5,105.9 304.5,113.3 305.2,117.3 305,121.3 302.5,139.3 300.5,146 298.5,148.6 296.5,149.3 294.5,148.3 291.2,143.3 288.3,135.3 286.7,125.3 286.7,117.3 288.3,109.3 290.5,104.6 292.5,102.1 294,101.3ZM562.3,51.3 560.9,57.3 558.5,61 556.5,62.7 551,65.3 532.5,70.4 528.5,72.2 522.7,77.3 516.2,85.3 513.8,87.3 506.5,91.8 502.5,95.3 496.5,102.5 494.8,105.3 494.4,107.3 494.8,109.3 496.5,111.6 498.5,112.3 501.5,111.3 513,103.3 516.5,100.2 521.6,97.3 525.3,93.3 534.5,89.2 538.5,88.1 544.5,88.4 550.5,90.5 556.5,95 562.4,101.3 568.5,104.2 574.5,105.2 580.5,105.2 584.5,104.8 589.8,103.3 594.5,101.1 600.5,97.1 604.5,93.3 612.5,83.7 616.5,80.5 620.5,79.2 628.5,78.3 632.5,76.9 638.5,73.4 646,67.3 648.5,64.3 650.8,59.3 651.3,57.3 651,55.3 649.8,51.3M120.5,238.2 168.5,249.3 180.5,251.2 194.5,250.7 202.5,246.2 208.5,244.3 214.5,244.2 220.5,244.9 228.5,246.5 234.5,248.7 268.5,264.2 272.5,264.5 276.5,263.1 278.8,261.3 283.8,253.3 287.3,249.3 305.4,235.3 308.5,232.1 310.2,229.3 313.8,217.3 317.5,207.3 319.3,189.3 327.2,161.3 327.7,155.3 326.3,145.3 327.4,139.3 332.6,127.3 334.9,125.3 342.5,121.3 350.5,115.9 352.5,115.5 356.5,116.1 360.5,117.9 370.7,127.3 374.5,133.4 376.5,135.7 380.5,138.3 386.5,141.1 390.5,144.2 396.5,150.5 400.5,161.1 400.4,163.3 398.5,166.7 394.5,168.9 388.5,169.9 376.5,169.3 372.5,170.4 370.5,171.9 368.8,175.3 368.6,177.3 369,179.3 371.3,183.3 375.1,187.3 378.5,189.8 382.5,191 400.5,191.6 408.5,192.7 418.5,192.1 430.5,192.8 436.5,191.4 440.5,189.6 442.5,188.1 444.5,185.7 446.4,181.3 446.9,177.3 446.6,167.3 447.7,157.3 445.7,145.3 447,137.3 444.3,131.3 444,129.3 445,121.3 444.8,117.3 437.9,101.3 437.1,97.3 437.3,91.3 439.8,79.3 442.5,73.1 446.5,68 458,57.3 460.5,53.3 461,51.3M120.5,251.3 172.5,256.3 180.5,256.7 194.5,253.5 202.5,248.9 206.5,247.2 210.5,246.3 216.5,246.3 226.5,247.9 232.5,249.9 240.6,253.3 268.5,267.1 272.5,267.5 274.5,267 278.5,264.9 280.5,263.3 282,261.3 286.2,253.3 289.9,249.3 298.5,242.9 308.4,237.3 310.5,235 312.5,231.6 315.6,219.3 319.7,209.3 320.9,205.3 321.5,195.3 322.4,189.3 328.1,169.3 330.5,159.3 330.8,155.3 330.2,149.3 330.9,145.3 332.4,141.3 333.8,139.3 338.5,135.5 340.5,134.7 344.5,134.1 350.5,135.8 352.5,137.3 353.9,139.3 355.3,143.3 355.5,149.3 352.8,157.3 352.4,161.3 352.6,165.3 354.4,175.3 354.5,179.3 353.7,181.3 350.5,183.8 348,187.3 347.5,189.3 347.7,191.3 349.2,193.3 350.5,193.9 353.6,193.3 355.6,191.3 357,187.3 358.5,185.6 360.5,185.8 369,191.3 373.1,193.3 380.5,195.6 426.5,196.7 430.5,196.6 434.5,195.7 440.5,193.5 444.5,191 447.7,187.3 449.7,181.3 450.9,159.3 450.9,155.3 449.6,145.3 450.5,137.3 448.2,131.3 448.5,117.3 447.9,113.3 445.7,105.3 445.5,99.3 446.5,93.5 448.5,88.9 450.9,85.3 454.5,82.2 460.5,79 468.5,76.7 474.5,76.8 476.5,77.3 479.8,79.3 481.2,81.3 481.7,83.3 481.2,87.3 478.2,97.3 478.1,103.3 479.2,107.3 482.5,113.8 494.1,131.3 496.5,132.9 502.5,134.9 506.5,134.9 510.5,133.3 512.5,131.6 514.5,127.6 515.5,119.3 517.9,113.3 519.4,111.3 523.6,107.3 530.5,101.9 532.5,101.2 536.5,101.7 538.5,102.7 551.3,113.3 558.5,116.9 570.5,119.6 576.5,121.8 592.5,123.1 608.5,119.3 618.5,114.8 628.5,111.3 644.5,103.6 652.2,97.3 654,95.3 655,93.3 656.1,85.3 661,75.3 661.6,73.3 660.2,63.3 660.8,51.3M678.5,59.6 670.5,61.2 668.5,60.9 667.3,59.3 667.3,57.3 669.3,51.3M120.5,263.7 182.5,261.4 190.5,257.4 196.5,255 204.5,250.5 210.5,248.6 214.5,248.3 224.5,249.5 230.5,251.1 240.5,255.3 254.5,262.3 268.5,270.2 272.5,271 274.5,270.5 278.5,268.2 282.5,264.9 284.9,261.3 287.4,255.3 292.5,249.3 300.5,243.7 310.3,239.3 312.1,237.3 314.5,233.3 315.8,229.3 317.8,219.3 323.5,207.3 324.8,195.3 325.9,189.3 328.5,178.8 334.1,161.3 335,155.3 336.5,151.8 338.5,151.7 340.2,153.3 340.9,155.3 343.8,173.3 343.1,189.3 344.5,193.3 346,195.3 348.5,197.1 352.5,197.9 360.5,196.3 364.5,196.1 376.5,198.5 382.5,199.1 424.5,200.2 430.5,199.8 434.5,199.1 442.5,196.2 446.9,193.3 450.5,189.4 451.6,187.3 452.6,183.3 453.9,167.3 454.1,157.3 453.7,147.3 454.6,139.3 453,129.3 453.2,109.3 453.4,107.3 454.2,105.3 456.5,103.4 458.5,102.9 460.5,103.1 462.5,104 466.5,107.7 473.3,115.3 481,125.3 486.6,135.3 490,139.3 495.8,143.3 502.5,145.3 506.5,144.9 516.5,142.5 519.3,141.3 522.5,138.6 525.2,135.3 527,131.3 527.4,127.3 527.2,119.3 528.5,115.3 530.5,112.8 532.5,111.7 534.5,111.3 546.5,115.8 552.5,120.4 558.5,123.2 564.5,124.7 572.5,127.8 586.5,131.2 600.5,132.5 610.5,130.8 620.5,128 624.5,127.8 626.5,128.3 628.5,129.7 629.7,131.3 631.5,135.3 636.4,153.3 639.7,161.3 641.4,171.3 644.3,179.3 644.2,185.3 644.5,186.5 646.5,187.6 647.7,185.3 646.3,179.3 648.5,173.9 649.1,171.3 648.5,161.3 648.8,157.3 652.5,136.6 653.4,125.3 655.3,119.3 656.2,117.3 658.2,115.3 660.5,114.3 664.5,113.3 672.5,112.6 678.5,111.1M678.5,210.7 672.5,210.1 668.5,210.9 666.5,211.9 664.5,213.4 662.9,215.3 662.1,217.3 661.9,219.3 663.4,223.3 665.2,225.3 668.5,227.3 672.5,227.9 678.5,226.3M120.5,276.1 182.5,265.2 186.5,263.4 204.1,253.3 210.5,251.1 214.5,250.6 226.5,252 230.5,253.3 240.5,257.5 254.5,264.6 266.5,272.7 270.5,274.8 272.5,275.4 274.5,275.1 276.5,274 280.5,270.6 285.7,265.3 286.9,263.3 290,255.3 294.5,250 297.9,247.3 302.5,244.5 310.8,241.3 313.2,239.3 314.7,237.3 317.6,231.3 318.9,223.3 320.1,219.3 324.9,211.3 326.7,207.3 328.5,195.6 330.5,189.4 333.6,183.3 334.5,179.9 338.1,189.3 341.4,195.3 346,199.3 350.5,201 354.5,201.3 366.5,201.2 394.5,203.3 408.5,203.1 420.5,203.8 430.5,203 436.5,201.9 442.5,199.8 448.5,196.2 453.4,191.3 455.3,187.3 457.1,171.3 457.9,149.3 461.7,137.3 462.5,129.3 464.5,128.3 466.5,129 468.5,130.8 479,143.3 483.7,147.3 488.5,149.4 498.5,150.5 504.5,150.2 516.5,147.6 520.5,146.2 522.5,144.8 526.5,140.7 529.8,135.3 531.5,131.3 532.3,123.3 533.2,121.3 535.2,119.3 538.5,118.2 542.5,118.3 546,119.3 552.5,125.1 554.5,126.1 560.5,127.5 566.1,131.3 568.5,132.4 576.5,133.2 586.5,137.3 600.5,139.6 614.5,138.7 618.5,139.6 621,141.3 622.5,143.7 631,167.3 633.9,179.3 634.6,187.3 635.9,191.3 638.5,195.4 642.5,198.5 646.5,199.6 648.5,199.3 652.5,197.5 655.2,195.3 658.3,191.3 659.6,187.3 659.9,181.3 658.1,163.3 658,157.3 660.9,133.3 662.9,125.3 664.5,122.5 666.5,120.8 670.5,119.5 678.5,118.4M678.5,195.6 674.5,193.8 672.5,192 669.6,187.3 664.7,173.3 664.1,163.3 666.5,139.3 668.5,130.8 670.7,127.3 672.5,126.7 678.5,126.1M120.5,289 184.5,268.3 202.5,257.1 210.5,254 214.5,253.3 228.5,255.1 240.5,260.2 254.4,267.3 267.4,277.3 272.5,282.5 274.5,283 276.5,281.8 281.1,275.3 287.8,267.3 290.1,263.3 293,255.3 296.1,251.3 302.5,246.5 312.5,242.1 315.6,239.3 317.2,237.3 319.8,231.3 321.6,221.3 323.8,217.3 328.2,211.3 330,207.3 332.1,199.3 334.5,197.1 336.5,197.4 342.5,201.3 346.5,203.2 352.5,204.7 358.5,205.3 378.5,205.3 396.5,207.1 408.5,206.4 418.5,207.6 434.5,205.7 440.5,204.2 446.5,201.4 452.3,197.3 455.8,193.3 458.1,189.3 459.2,185.3 460,179.3 461,157.3 462.5,151.6 464.5,149.3 466.5,148.6 468.5,148.6 486.5,153.7 498.5,154.7 504.5,154.1 518.5,151 522.5,149.3 527.4,145.3 530.6,141.3 534.5,133.8 540.9,129.3 542.5,126.2 544.5,124.9 546.5,126.3 552.5,132 554.5,133.1 562.5,135 568.5,137 574.5,137.1 576.5,137.5 584.5,141.5 590.5,142.6 606.5,147 611.1,149.3 614.9,153.3 618.1,159.3 622.9,173.3 627.8,191.3 630.5,197.3 638.5,206.7 646.5,214.7 648.2,217.3 650.9,223.3 653.7,227.3 658.8,231.3 664.5,233.6 670.5,234.6 678.5,233.8M678.5,183.1 674.5,180.6 670.5,176 669.1,173.3 668.3,169.3 669.2,163.3 673.1,151.3 675.1,143.3 676.5,140.7 678.5,139.7M120.5,303.6 124.5,301.9 138.5,294.6 186.5,272.2 190.5,269.8 198.5,263.1 206.5,259.3 212.5,257.3 215.1,257.3 220.5,259.1 226.5,258.5 228.5,258.9 239.5,263.3 244.5,266.3 251.4,269.3 254.2,271.3 264.5,281.1 267.9,287.3 269.8,289.3 272.5,291.1 274.5,291.7 276.5,291.4 278.5,290.2 280.8,287.3 285.1,277.3 292.6,265.3 295.4,257.3 297.6,253.3 301.6,249.3 304.7,247.3 314.5,242.7 318.3,239.3 319.8,237.3 321.6,233.3 324.1,221.3 330.6,213.3 334.5,206.9 336.5,205.3 338.5,205 350.5,208.1 360.5,209.7 366.5,209.9 380.5,209.2 390.5,210.8 396.5,211.2 408.5,210.2 416.5,211.3 420.5,211.3 436.5,209.3 440.5,208.3 448.5,204.4 454.5,200.3 457.1,197.3 461.8,189.3 463.2,185.3 463.8,181.3 464.6,161.3 465.1,159.3 466.5,157.1 468.5,156.1 472.5,155.7 488.5,158 498.5,158.5 504.5,157.9 512.5,156 522.5,153 526.5,150.9 533.1,145.3 538.2,137.3 542.5,135.5 544.5,135.3 549.5,139.3 552.5,140.7 554.5,140.6 558.5,139.5 560.5,139.5 566.5,141.6 574.5,142.7 582.5,146.3 591.7,149.3 600.5,153.5 604.5,155.9 609.1,161.3 612.5,168.2 618.1,185.3 620.5,199.4 622.9,207.3 625.9,213.3 632,223.3 636.2,229.3 640.5,232.9 644.3,235.3 652.5,238.6 662.5,239.9 678.5,239.9M678.5,173.4 674.5,172.1 673.8,171.3 673.1,169.3 674.5,166.4 676.5,164.8 678.5,163.9M120.5,322.1 124.5,319.8 136.8,309.3 145.7,303.3 158.5,296.3 170.5,288.4 188.5,277.7 202.5,270.3 208.5,268.7 210.5,268.6 212.5,269.3 220.5,275.2 222.6,277.3 225.8,283.3 228.2,293.3 229.4,295.3 232.5,297.9 234.5,298.8 238.5,299.5 248.5,298.4 250.5,298.9 256.5,302.1 264.5,303.6 268.5,303.7 276.5,301.5 282.5,298.1 285.4,295.3 286.5,293.5 287.9,289.3 289.2,281.3 290.4,277.3 293.2,271.3 296.8,265.3 299.4,257.3 301.5,253.3 305.7,249.3 309,247.3 316.5,243.8 320,241.3 321.9,239.3 323.9,235.3 326.7,223.3 328.5,220.8 336.5,213.1 338.5,211.8 342.5,211.5 348.5,212.2 362.5,215 368.5,214.9 380.5,213.6 390.5,215.4 396.5,216 400.5,215.9 408.5,214.6 420.5,215.7 440.5,213.8 444.5,212.2 456.4,205.3 460.4,201.3 463.7,195.3 466.6,191.3 468.3,187.3 469.8,173.3 470.1,165.3 471.7,163.3 478.5,162.1 494.5,162.9 506.5,161.7 526.5,156 534.5,151.9 540.5,150.2 544.5,150.1 554.5,150.9 564.5,150.3 568.5,150.5 574.5,152 586.5,156.7 598.5,163.4 600.8,165.3 602.5,167.6 606.7,175.3 609.3,183.3 609.8,189.3 607.9,197.3 604.5,203.5 601.2,207.3 598.5,209.6 594.5,211.9 588.5,213.8 572.5,215.5 566.5,216.8 560.5,218.8 555.1,221.3 552.5,223.3 549.7,227.3 548.4,233.3 548.7,239.3 549.9,245.3 552.5,253.2 556.3,261.3 560.2,267.3 564.5,272.6 568.5,276 572.5,278 574.5,278.1 577,277.3 580.5,274.1 587.1,265.3 592.9,259.3 606.5,248.4 612.5,244.9 616.5,243.5 620.5,242.9 626.5,243.4 648.5,249.1 652.5,248.9 668.5,245.4 672.5,245.3 678.5,246.1M120.5,373.6 122.5,370.8 124.5,365.9 133.4,337.3 137.2,329.3 141.4,323.3 146.8,317.3 152.5,312.5 166.5,303.6 190.5,286.3 192.5,285.5 200.5,284.5 204.9,285.3 207.4,287.3 211.2,293.3 215,301.3 217.9,305.3 220.1,307.3 223.1,309.3 230.5,312.6 244.5,317 252.5,318 256.5,317.4 280.5,308.8 288.5,304.8 292.5,301.5 294.3,299.3 298.2,291.3 299.5,285.3 298.7,277.3 299.1,273.3 302,267.3 304.5,259.2 307.2,253.3 309,251.3 312.1,249.3 322.5,245 324.5,243.8 327.9,239.3 330.5,230.4 332.5,226.7 334.5,224.8 340.4,221.3 346.2,219.3 350.5,219.4 356.5,221.6 360.5,222.5 364.5,222.3 376.5,220 380.5,219.7 396.5,221.8 410.5,220.6 428,223.3 430.5,225.3 432.1,227.3 434,231.3 435,239.3 434.6,253.3 435.9,257.3 438.5,259.7 442.5,260.5 458.5,259.1 482.5,260 500.5,259.5 506.5,260.1 510.5,261.3 516.5,264.2 524.1,269.3 534.5,275.1 540.5,280.1 550.1,291.3 564.5,299.6 582.5,313.2 586.5,315.4 588.5,315.3 590.5,313.2 591,309.3 591,299.3 591.6,295.3 593,291.3 597.5,283.3 598.7,277.3 600.2,273.3 604.5,267.3 611.9,261.3 618.5,258 624.5,256.7 632.5,256.5 648.5,258 652.5,257.6 668.5,253.3 670.5,253.3 678.5,254.9M213,567.3 211.7,565.3 209.1,563.3 200.5,559.9 198.5,559.7 194.5,560.4 180.5,564.9 176.5,565.8 162.5,559.9 154.5,559 148.5,559.6 143.1,561.3 138.5,563.7 136.3,565.3 134.8,567.3M524.5,167.2 546.5,167.3 562.5,166.7 572.5,167 578.5,167.6 592.7,171.3 595.2,173.3 597.7,177.3 597.8,179.3 596.5,183.8 592.5,189 589.6,191.3 584.5,193.1 578.5,194.1 570.5,194.5 554.5,192.3 536.5,191.5 516.5,192.5 510.5,191.4 505.6,189.3 502.5,187.3 500.5,185.3 499.7,183.3 500.2,181.3 501.8,179.3 509.1,171.3 510.5,170.3 512.5,169.4 518.5,168.7 524,167.3ZM120.5,479.4 124.5,480.1 126.5,479.4 128.5,476.4 136.3,457.3 140.3,445.3 141.5,435.3 143,427.3 144,415.3 146,401.3 146.9,385.3 152.4,357.3 152.5,353.3 151.2,343.3 151.3,339.3 152.1,335.3 153.1,333.3 156.4,329.3 162.5,324.2 166.5,321.6 178.5,316.6 184.5,313.5 188.5,312.5 194.5,312.3 204.5,313.2 212.3,315.3 218.5,316.3 230.5,320.9 238.5,323 254.5,325.5 258.5,325.3 264.5,323.9 276.5,318.8 293.2,313.3 298.5,310.6 303.3,307.3 319.8,291.3 324.5,285.3 328.5,277.1 330.5,274.3 334.5,271.5 342.5,267.9 345.6,265.3 347.1,263.3 349.1,259.3 352.6,247.3 354.5,243.8 356.5,241.6 359.8,239.3 372.3,233.3 380.5,230.9 386.5,230.4 394.5,231.9 404.5,231.9 409.5,233.3 412,235.3 412.7,237.3 412.6,239.3 405.7,257.3 400.6,275.3 394.9,289.3 393.4,295.3 392.3,303.3 392.4,309.3 394.7,315.3 397.9,319.3 400.5,321.5 404.5,323.3 406.5,323.5 410.5,323 414.5,321.6 420.5,318.8 424.5,316.3 430,311.3 438.4,299.3 441.9,295.3 446.5,291.9 452.5,289 458.5,286.9 462.5,286.1 494.5,282.7 506.5,282.4 512.5,282.9 520.5,284.4 526.5,286.2 530.5,288.1 534.5,290.7 547.9,301.3 558.5,307 562.5,309.7 574.8,321.3 584.5,329 588.5,331.4 592.5,333.1 596.5,334.1 600.5,334.4 602.5,333.7 604.5,332.1 606.5,328.9 609.1,321.3 609.9,315.3 609.7,311.3 608.9,307.3 606.8,303.3 602,297.3 600.8,293.3 600.9,291.3 606.5,278.3 610.5,273.7 616.5,270 620.5,268.3 626.5,267.3 640.5,266.1 648.5,264.6 658.5,264.4 670.5,263.3 672.5,263.6 678.5,265.8M223.7,567.3 222.8,565.3 220.5,562.8 210.5,556.4 204.6,553.3 188.5,546.6 178.5,544.9 172.5,542.9 158.5,542.8 154.5,543.2 140.5,548 130.5,554.1 120.5,557.4M120.5,485.9 126.5,488.1 128.5,487.8 130.5,486.1 138.9,469.3 144.6,459.3 161.9,405.3 162.9,399.3 164,387.3 168,371.3 171.1,353.3 172.5,349.1 173.7,347.3 176.1,345.3 182.5,342.6 186.5,342.5 194.5,344.4 198.5,344.1 200.7,343.3 204.2,341.3 206.5,339.3 209.8,335.3 213.7,329.3 216.5,327.3 220.5,327.1 232.5,331.4 238.5,332.3 246.5,332.5 256.5,335.1 260.5,335.2 266.5,334.5 274.5,332.2 287.8,327.3 308.5,322.4 320.5,317.9 332.5,314.1 340.5,309.9 348.5,303.4 350.5,302.3 352.5,301.6 354.5,301.6 356.5,303 357.3,305.3 356.9,317.3 358.2,323.3 360.4,327.3 364.6,331.3 372.5,335.7 386.5,340.6 408.5,345.8 416.5,346.1 422.5,344.6 426.5,342.7 432.5,338.2 442.7,329.3 450.5,323.6 462.5,316.1 475.4,309.3 488.7,303.3 500.5,299 510.5,296.8 520.5,296.3 524.5,296.8 526.5,297.5 539.8,305.3 555,313.3 570.5,326.9 580.5,338.4 586.5,343.1 592.5,345.8 600.5,348 608.5,352.4 612.5,353 614.5,352.5 616.5,351.3 618.5,349.4 621.2,345.3 623.7,339.3 628.2,323.3 628.7,317.3 628.2,311.3 626.3,301.3 623.3,291.3 623,289.3 623.5,287.3 626,285.3 634.5,282.2 642.5,280.5 650.5,279.9 656.5,280.4 659.9,281.3 662.5,282.8 664.5,285.2 666,291.3 668.1,315.3 669,319.3 670.3,321.3 672.5,322.8 678.5,323.9M231.2,567.3 229.3,563.3 226.1,559.3 223.6,557.3 218.5,554.4 212.5,550.3 204.5,546.4 194.5,540.8 182.5,536.9 176.5,535.6 164.5,534.8 150.5,536.5 144.5,538.5 138.5,541.3 128.3,547.3 124.5,548.5 120.5,548.6M120.5,499.9 128.5,497.7 132.5,496 134.5,494.4 136.9,491.3 138.5,487.3 143.1,481.3 145.5,477.3 148.5,470.2 153.8,463.3 156.5,455.2 163.4,441.3 174.2,425.3 182.4,415.3 188,407.3 190.7,401.3 194,387.3 196.3,381.3 200.5,373.3 202.5,370.7 204.5,369 208.4,367.3 214.5,365.8 218.5,365.5 220.5,366 222.5,367 224.6,369.3 225.4,371.3 225.7,375.3 219.4,395.3 216.5,401.7 201.1,423.3 185.4,443.3 181.9,449.3 179.8,455.3 178.8,461.3 178.7,467.3 179.3,473.3 180.9,479.3 182.9,483.3 186.5,487.2 190.5,489.1 194.5,489.6 200.5,488.5 212.5,483.9 216.5,483.6 228.5,485.3 230.5,485.1 234.1,483.3 236.5,480.5 237.9,477.3 240.5,463.3 242.5,457.9 246.5,451.8 251.1,447.3 256.7,443.3 267.1,437.3 278.3,431.3 298.5,421.5 310.5,414.2 321.4,405.3 339.3,387.3 347,381.3 356,375.3 362.5,371.7 368.5,369.3 374.5,368.5 377.3,369.3 379.1,371.3 379.6,373.3 379.3,375.3 375.8,385.3 375.5,389.3 376.3,393.3 378.4,397.3 382.5,401.7 394.5,410.8 410.5,420.7 424.5,427.8 429.1,431.3 430.9,433.3 433.1,437.3 435.8,449.3 437.2,453.3 439.7,457.3 446.2,465.3 446.8,467.3 446.2,469.3 444.5,470 442.5,469.7 440.5,468.8 423.3,455.3 412.5,447.7 404.5,443 384.5,432.7 380.5,431.6 376.5,431.6 372.5,432.6 368.5,434.3 356.5,442.1 340.8,455.3 327.6,469.3 318.5,481.5 314.7,489.3 312.8,497.3 312.4,503.3 313.1,519.3 312,527.3 310,533.3 306.5,538.6 302.5,541.8 296.5,544.3 286.5,545.9 270.5,547 266.5,547.9 262.5,549.7 258.5,553.1 256.5,556.7 255.5,561.3 255.3,567.3M244.5,567.3 243.6,563.3 240,557.3 230.5,547.8 218.5,539.8 204.5,532.5 186.5,526.1 172.5,523.5 156.5,524 146.5,526 140.5,527.9 126.5,535.6 124.5,535.8 120.5,534.8M488.6,567.3 487.2,563.3 484.5,559.5 474.5,548.7 466.5,537.2 464.5,535 460.5,531.9 454.5,529.3 446.5,528.4 440.5,528.9 426.5,532.3 418.5,533.6 412.5,533.8 406.5,532.6 404,531.3 401.4,529.3 398.3,525.3 392.5,514.6 392.2,511.3 393.3,509.3 396.5,507.8 398.5,507.9 408.5,512.8 412.5,513.4 420.5,513.1 430.5,511.9 438.5,510.3 454.5,505.5 468.5,502.1 476.5,501 482.7,501.3 487.1,503.3 490.3,507.3 491.9,511.3 494.4,521.3 496.4,527.3 499.7,533.3 502.8,537.3 508.5,542.3 514.5,545.9 520.5,548 528.5,548.8 534.5,548.2 540.5,546.3 545.2,543.3 548.8,539.3 551,535.3 552.9,529.3 553.9,523.3 555.1,509.3 556,505.3 556.9,503.3 558.5,501.4 560.5,500.3 562.5,500 566.5,500.6 576.5,504.4 584.5,506.5 596.5,508.5 604.5,509.3 614.5,509.3 626.5,508.4 638.5,506.5 644.5,504.6 648.5,502.5 652,499.3 654.4,495.3 655.4,491.3 655.2,485.3 650.9,465.3 649.2,449.3 649.7,433.3 652.2,419.3 659.7,393.3 664,383.3 666.7,379.3 670.5,375.8 674.5,373.6 678.5,372.7M520.5,316.8 526.5,315.9 534.5,316.2 546.1,319.3 547.8,321.3 548.2,323.3 547.9,325.3 546.5,327.8 544.3,329.3 540.5,330.2 536.5,330 532.5,329 523.7,325.3 519.6,323.3 517.4,321.3 517.3,319.3 519.2,317.3ZM504.5,358.7 506.5,358.7 508.5,359.4 510.5,361.3 511.9,365.3 512.9,375.3 514.5,379.3 517.6,383.3 525.2,389.3 526.9,391.3 527.8,393.3 527.9,395.3 525.8,403.3 525.7,405.3 526.8,409.3 529.9,413.3 535.3,417.3 544.5,422.2 554.5,425.9 569,429.3 574.5,431.1 578.1,433.3 579.5,435.3 580,437.3 579.7,439.3 578.8,441.3 577,443.3 571.5,447.3 564.5,450.4 560.5,451.3 556.5,451.5 550.5,450.8 544.6,449.3 533.3,445.3 508.5,434.9 500.5,430.6 488.5,422.4 480.5,415.3 476.5,410.3 473.8,405.3 472.3,399.3 472.8,393.3 474.5,388.6 476.5,385.2 480.5,380.3 498.5,362.5 502.8,359.3Z" fill="none" stroke="#000" stroke-width="1" stroke-linejoin="round" shape-rendering="crispEdges"/>
<g style="filter:grayscale(1)">
<rect x="335.0" y="90.0" width="24" height="12" fill="#fff"/>
<text x="347.0" y="100.4" font-size="12" text-anchor="middle" stroke="#000" stroke-width="0.25" textLength="21.2" lengthAdjust="spacingAndGlyphs">12.5</text>
<rect x="382.5" y="95.0" width="13" height="12" fill="#fff"/>
<text x="389.0" y="105.4" font-size="12" text-anchor="middle" stroke="#000" stroke-width="0.25" textLength="11.0" lengthAdjust="spacingAndGlyphs">12</text>
<rect x="445.0" y="96.0" width="24" height="12" fill="#fff"/>
<text x="457.0" y="106.4" font-size="12" text-anchor="middle" stroke="#000" stroke-width="0.25" textLength="21.2" lengthAdjust="spacingAndGlyphs">14.5</text>
<rect x="523.5" y="94.0" width="13" height="12" fill="#fff"/>
<text x="530.0" y="104.4" font-size="12" text-anchor="middle" stroke="#000" stroke-width="0.25" textLength="11.0" lengthAdjust="spacingAndGlyphs">14</text>
<rect x="561.0" y="101.0" width="24" height="12" fill="#fff"/>
<text x="573.0" y="111.4" font-size="12" text-anchor="middle" stroke="#000" stroke-width="0.25" textLength="21.2" lengthAdjust="spacingAndGlyphs">13.5</text>
<rect x="612.0" y="120.0" width="24" height="12" fill="#fff"/>
<text x="624.0" y="130.4" font-size="12" text-anchor="middle" stroke="#000" stroke-width="0.25" textLength="21.2" lengthAdjust="spacingAndGlyphs">14.5</text>
<rect x="607.5" y="132.0" width="13" height="12" fill="#fff"/>
<text x="614.0" y="142.4" font-size="12" text-anchor="middle" stroke="#000" stroke-width="0.25" textLength="11.0" lengthAdjust="spacingAndGlyphs">15</text>
<rect x="540.0" y="127.0" width="24" height="12" fill="#fff"/>
<text x="552.0" y="137.4" font-size="12" text-anchor="middle" stroke="#000" stroke-width="0.25" textLength="21.2" lengthAdjust="spacingAndGlyphs">15.5</text>
<rect x="546.5" y="136.0" width="13" height="12" fill="#fff"/>
<text x="553.0" y="146.4" font-size="12" text-anchor="middle" stroke="#000" stroke-width="0.25" textLength="11.0" lengthAdjust="spacingAndGlyphs">16</text>
<rect x="545.0" y="145.0" width="24" height="12" fill="#fff"/>
<text x="557.0" y="155.4" font-size="12" text-anchor="middle" stroke="#000" stroke-width="0.25" textLength="21.2" lengthAdjust="spacingAndGlyphs">16.5</text>
<rect x="586.5" y="180.0" width="13" height="12" fill="#fff"/>
<text x="593.0" y="190.4" font-size="12" text-anchor="middle" stroke="#000" stroke-width="0.25" textLength="11.0" lengthAdjust="spacingAndGlyphs">17</text>
<rect x="397.5" y="180.0" width="13" height="12" fill="#fff"/>
<text x="404.0" y="190.4" font-size="12" text-anchor="middle" stroke="#000" stroke-width="0.25" textLength="11.0" lengthAdjust="spacingAndGlyphs">13</text>
<rect x="392.0" y="186.0" width="24" height="12" fill="#fff"/>
<text x="404.0" y="196.4" font-size="12" text-anchor="middle" stroke="#000" stroke-width="0.25" textLength="21.2" lengthAdjust="spacingAndGlyphs">13.5</text>
<rect x="407.5" y="190.0" width="13" height="12" fill="#fff"/>
<text x="414.0" y="200.4" font-size="12" text-anchor="middle" stroke="#000" stroke-width="0.25" textLength="11.0" lengthAdjust="spacingAndGlyphs">14</text>
<rect x="404.0" y="202.0" width="24" height="12" fill="#fff"/>
<text x="416.0" y="212.4" font-size="12" text-anchor="middle" stroke="#000" stroke-width="0.25" textLength="21.2" lengthAdjust="spacingAndGlyphs">15.5</text>
<rect x="388.0" y="210.0" width="24" height="12" fill="#fff"/>
<text x="400.0" y="220.4" font-size="12" text-anchor="middle" stroke="#000" stroke-width="0.25" textLength="21.2" lengthAdjust="spacingAndGlyphs">16.5</text>
<rect x="376.5" y="214.0" width="13" height="12" fill="#fff"/>
<text x="383.0" y="224.4" font-size="12" text-anchor="middle" stroke="#000" stroke-width="0.25" textLength="11.0" lengthAdjust="spacingAndGlyphs">17</text>
<rect x="303.5" y="216.0" width="13" height="12" fill="#fff"/>
<text x="310.0" y="226.4" font-size="12" text-anchor="middle" stroke="#000" stroke-width="0.25" textLength="11.0" lengthAdjust="spacingAndGlyphs">13</text>
<rect x="298.0" y="225.0" width="24" height="12" fill="#fff"/>
<text x="310.0" y="235.4" font-size="12" text-anchor="middle" stroke="#000" stroke-width="0.25" textLength="21.2" lengthAdjust="spacingAndGlyphs">13.5</text>
<rect x="299.0" y="235.0" width="24" height="12" fill="#fff"/>
<text x="311.0" y="245.4" font-size="12" text-anchor="middle" stroke="#000" stroke-width="0.25" textLength="21.2" lengthAdjust="spacingAndGlyphs">14.5</text>
<rect x="256.0" y="248.4" width="24" height="12" fill="#fff"/>
<text x="268.0" y="258.8" font-size="12" text-anchor="middle" stroke="#000" stroke-width="0.25" textLength="21.2" lengthAdjust="spacingAndGlyphs">11.5</text>
<rect x="255.0" y="248.5" width="18" height="8" fill="#fff"/>
<rect x="251.0" y="254.0" width="24" height="12" fill="#fff"/>
<text x="263.0" y="264.4" font-size="12" text-anchor="middle" stroke="#000" stroke-width="0.25" textLength="21.2" lengthAdjust="spacingAndGlyphs">12.5</text>
<rect x="261.5" y="267.5" width="13" height="12" fill="#fff"/>
<text x="268.0" y="277.9" font-size="12" text-anchor="middle" stroke="#000" stroke-width="0.25" textLength="11.0" lengthAdjust="spacingAndGlyphs">15</text>
<rect x="256.0" y="272.0" width="24" height="12" fill="#fff"/>
<text x="268.0" y="282.4" font-size="12" text-anchor="middle" stroke="#000" stroke-width="0.25" textLength="21.2" lengthAdjust="spacingAndGlyphs">15.5</text>
<rect x="214.5" y="255.0" width="13" height="12" fill="#fff"/>
<text x="221.0" y="265.4" font-size="12" text-anchor="middle" stroke="#000" stroke-width="0.25" textLength="11.0" lengthAdjust="spacingAndGlyphs">16</text>
<rect x="193.0" y="303.0" width="24" height="12" fill="#fff"/>
<text x="205.0" y="313.4" font-size="12" text-anchor="middle" stroke="#000" stroke-width="0.25" textLength="21.2" lengthAdjust="spacingAndGlyphs">17.5</text>
<rect x="257.0" y="300.0" width="24" height="12" fill="#fff"/>
<text x="269.0" y="310.4" font-size="12" text-anchor="middle" stroke="#000" stroke-width="0.25" textLength="21.2" lengthAdjust="spacingAndGlyphs">16.5</text>
<rect x="246.5" y="313.0" width="13" height="12" fill="#fff"/>
<text x="253.0" y="323.4" font-size="12" text-anchor="middle" stroke="#000" stroke-width="0.25" textLength="11.0" lengthAdjust="spacingAndGlyphs">17</text>
<rect x="240.5" y="325.0" width="13" height="12" fill="#fff"/>
<text x="247.0" y="335.4" font-size="12" text-anchor="middle" stroke="#000" stroke-width="0.25" textLength="11.0" lengthAdjust="spacingAndGlyphs">18</text>
<rect x="335.0" y="264.0" width="24" height="12" fill="#fff"/>
<text x="347.0" y="274.4" font-size="12" text-anchor="middle" stroke="#000" stroke-width="0.25" textLength="21.2" lengthAdjust="spacingAndGlyphs">17.5</text>
<rect x="449.5" y="254.0" width="13" height="12" fill="#fff"/>
<text x="456.0" y="264.4" font-size="12" text-anchor="middle" stroke="#000" stroke-width="0.25" textLength="11.0" lengthAdjust="spacingAndGlyphs">17</text>
<rect x="518.5" y="290.0" width="13" height="12" fill="#fff"/>
<text x="525.0" y="300.4" font-size="12" text-anchor="middle" stroke="#000" stroke-width="0.25" textLength="11.0" lengthAdjust="spacingAndGlyphs">18</text>
<rect x="565.0" y="279.0" width="24" height="12" fill="#fff"/>
<text x="577.0" y="289.4" font-size="12" text-anchor="middle" stroke="#000" stroke-width="0.25" textLength="21.2" lengthAdjust="spacingAndGlyphs">16.5</text>
<rect x="617.5" y="285.0" width="13" height="12" fill="#fff"/>
<text x="624.0" y="295.4" font-size="12" text-anchor="middle" stroke="#000" stroke-width="0.25" textLength="11.0" lengthAdjust="spacingAndGlyphs">18</text>
<rect x="392.0" y="323.0" width="24" height="12" fill="#fff"/>
<text x="404.0" y="333.4" font-size="12" text-anchor="middle" stroke="#000" stroke-width="0.25" textLength="21.2" lengthAdjust="spacingAndGlyphs">17.5</text>
<rect x="554.0" y="326.0" width="24" height="12" fill="#fff"/>
<text x="566.0" y="336.4" font-size="12" text-anchor="middle" stroke="#000" stroke-width="0.25" textLength="21.2" lengthAdjust="spacingAndGlyphs">18.5</text>
<rect x="586.5" y="316.0" width="13" height="12" fill="#fff"/>
<text x="593.0" y="326.4" font-size="12" text-anchor="middle" stroke="#000" stroke-width="0.25" textLength="11.0" lengthAdjust="spacingAndGlyphs">17</text>
<rect x="591.0" y="332.0" width="24" height="12" fill="#fff"/>
<text x="603.0" y="342.4" font-size="12" text-anchor="middle" stroke="#000" stroke-width="0.25" textLength="21.2" lengthAdjust="spacingAndGlyphs">17.5</text>
<rect x="334.5" y="351.0" width="13" height="12" fill="#fff"/>
<text x="341.0" y="361.4" font-size="12" text-anchor="middle" stroke="#000" stroke-width="0.25" textLength="11.0" lengthAdjust="spacingAndGlyphs">18</text>
<rect x="366.0" y="358.0" width="24" height="12" fill="#fff"/>
<text x="378.0" y="368.4" font-size="12" text-anchor="middle" stroke="#000" stroke-width="0.25" textLength="21.2" lengthAdjust="spacingAndGlyphs">18.5</text>
<rect x="498.0" y="351.0" width="24" height="12" fill="#fff"/>
<text x="510.0" y="361.4" font-size="12" text-anchor="middle" stroke="#000" stroke-width="0.25" textLength="21.2" lengthAdjust="spacingAndGlyphs">18.5</text>
<rect x="203.0" y="359.0" width="24" height="12" fill="#fff"/>
<text x="215.0" y="369.4" font-size="12" text-anchor="middle" stroke="#000" stroke-width="0.25" textLength="21.2" lengthAdjust="spacingAndGlyphs">18.5</text>
<rect x="661.0" y="367.0" width="24" height="12" fill="#fff"/>
<text x="673.0" y="377.4" font-size="12" text-anchor="middle" stroke="#000" stroke-width="0.25" textLength="21.2" lengthAdjust="spacingAndGlyphs">18.5</text>
<rect x="366.0" y="422.0" width="24" height="12" fill="#fff"/>
<text x="378.0" y="432.4" font-size="12" text-anchor="middle" stroke="#000" stroke-width="0.25" textLength="21.2" lengthAdjust="spacingAndGlyphs">18.5</text>
<rect x="203.0" y="475.0" width="24" height="12" fill="#fff"/>
<text x="215.0" y="485.4" font-size="12" text-anchor="middle" stroke="#000" stroke-width="0.25" textLength="21.2" lengthAdjust="spacingAndGlyphs">18.5</text>
<rect x="382.0" y="497.0" width="24" height="12" fill="#fff"/>
<text x="394.0" y="507.4" font-size="12" text-anchor="middle" stroke="#000" stroke-width="0.25" textLength="21.2" lengthAdjust="spacingAndGlyphs">18.5</text>
<rect x="544.0" y="489.0" width="24" height="12" fill="#fff"/>
<text x="556.0" y="499.4" font-size="12" text-anchor="middle" stroke="#000" stroke-width="0.25" textLength="21.2" lengthAdjust="spacingAndGlyphs">18.5</text>
</g>
<path fill="#fff" d="M120,50 L357,50 357,58.5 350,58.5 350,63.5 345,63.5 345,68.5 340,68.5 340,73.5 336,73.5 336,78.5 320,78.5 320,83.5 315,83.5 315,87 310,87 310,93.5 297,93.5 297,98.5 287.5,98.5 287.5,106 303.8,106 303.8,131 300,131 300,153 299,153 294,166 294,181 289,181 289,199 287,199 284.5,219 278,223 264,224 244,226 222,229.4 209.9,233 209.9,235.9 205.5,235.9 205.5,238.8 200.4,238.8 200.4,242.5 196,242.5 196,246.8 193.9,246.8 193.9,251.2 188.8,251.2 188.8,259.9 183.7,259.9 183.7,270.1 178.6,270.1 178.6,275.2 173.5,275.2 173.5,280.3 168.4,280.3 168.4,284.7 163.3,284.7 163.3,294.1 158.2,294.1 158.2,299.2 153.1,299.2 153.1,303.6 148,303.6 148,308.7 147.5,308.7 147.5,329 153,329 153,337 148,337 148,358 153,358 153,370 149,370 149,380 143,380 143,393.6 141.8,393.6 141.8,403 137.75,403 137.75,430.5 141.8,430.5 141.8,450 137,450 137,458 132,458 132,463.6 126.4,463.6 126.4,475 120,475 Z"/>
<linearGradient id="lg" gradientUnits="userSpaceOnUse" x1="296" y1="80" x2="284" y2="97"><stop offset="0" stop-color="#10f0ff"/><stop offset="1" stop-color="#70ffa8"/></linearGradient>
<path fill="url(#lg)" d="M283,78 L293.75,78 295.6,86 300,89.75 297,93.5 290,97.25 283,96 Z"/>
<path d="M285.5,78L291,91" stroke="#000" stroke-width="1" fill="none"/>
<g style="filter:grayscale(1)">
<text x="147.00" y="109.6" font-size="18.5" fill="#000" stroke="#fff" stroke-width="0.4" textLength="10.5" lengthAdjust="spacingAndGlyphs">Z</text>
<text x="176.25" y="109.6" font-size="18.5" fill="#000" stroke="#fff" stroke-width="0.4" textLength="13.8" lengthAdjust="spacingAndGlyphs">=</text>
<text x="206.25" y="109.6" font-size="18.5" fill="#000" stroke="#fff" stroke-width="0.4" textLength="33.8" lengthAdjust="spacingAndGlyphs">2.5</text>
<text x="256.25" y="109.6" font-size="18.5" fill="#000" stroke="#fff" stroke-width="0.4" textLength="18.2" lengthAdjust="spacingAndGlyphs">m</text>
</g>
<path d="M195.2,59.3V564.0M265.9,59.3V564.0M336.6,59.3V564.0M407.3,59.3V564.0M478.0,59.3V564.0M548.7,59.3V564.0M619.4,59.3V564.0M128.5,106.2H675.0M128.5,191.1H675.0M128.5,275.9H675.0M128.5,360.7H675.0M128.5,445.6H675.0M128.5,530.4H675.0" stroke="#c0c0c0" stroke-opacity="0.9" stroke-width="1" stroke-dasharray="1.8 4.7" fill="none"/>
<path d="M124,144.4 L132,149 142,149.6 149,152.4 165,152 165.6,149.6 162,145.6 171,135.6 182,143 188,142.4 194,135 208,129 218,126 224,121 234,118 239,116 245.25,118 251.5,116 261.5,118.5 265,121.6 276.6,125.5 284.4,131.4 289.3,139 290.2,148.8 283.4,156.6 285.4,161.5 290.2,166.3 289.3,178 288.3,187.7 285.4,201.3 283.4,213 280.5,220.7 276.6,223.6 264,223 244,224.4 220,227 210,229.6 204,232 193,236M289,99.75 L280.25,108.5 284.4,114 290.2,112 294,115 302,113 303,119.7 301,129.4 302,139 301,147.9 296,151.7 290,153.7M280,108.5 L290,98.5 298.75,89.75 310,82.25 320,75.4 330,68.5 340,61.6 347.5,56.6 352,53M284.4,56 L282.5,66 282,74.75 279.4,77.25 280,93.5 282.5,97.25 288.75,98.5M292,56 L292.5,64.75 293.75,72.25 296.25,78.5 298.75,86 301.25,88.5M331.25,56 L330,59.75 326.25,61 321.25,61.6 313.75,64.75 310,70.4 313,74.75 317.5,76.6M190,189 L195,191 204,192 211,197 206,200 201,207 202,216 208,219 216,220 215,226 210,230M190,189 L188,192 180,197 176.4,204 178,211 184,216 186.4,224 185,232 177,234 171,237 166.2,245.4 165.5,252 172,252 178.6,247.6 182.2,243.2 188,243.2 191,246.8 186.6,252M191,234.5 L214,226.5 215.5,230 194.6,240.3 ZM183.7,257.75 L178.6,262 172,268.7 165.5,274.5 159.6,281.8 159,280 161,268.7 163.3,260.7 171.3,256.3 175,254M167.7,282.5 L161.8,286 157.5,290.5 154.6,296.3 152.4,302 145.8,304.3 143.6,308 143,315 146,322 149,329 143,335 146,346 148,358 145,370 141,384 137,393.6 136,403.5 133.7,411 135.3,422.4 137,432 139.4,437.7 137,445 132,453 125.6,459.6 124,461M124,405 L136,403.5" fill="none" stroke="#000" stroke-width="3" stroke-linejoin="round" stroke-linecap="round"/>
</g>
<rect x="124.5" y="55.3" width="550.5" height="508.7" fill="none" stroke="#000" stroke-width="2"/>
<g style="filter:grayscale(1)">
<text x="124.5" y="580" font-size="13" text-anchor="middle" textLength="23.5" lengthAdjust="spacingAndGlyphs">28.5</text>
<text x="195.2" y="580" font-size="13" text-anchor="middle" textLength="12.6" lengthAdjust="spacingAndGlyphs">29</text>
<text x="265.9" y="580" font-size="13" text-anchor="middle" textLength="23.5" lengthAdjust="spacingAndGlyphs">29.5</text>
<text x="336.6" y="580" font-size="13" text-anchor="middle" textLength="12.6" lengthAdjust="spacingAndGlyphs">30</text>
<text x="407.3" y="580" font-size="13" text-anchor="middle" textLength="23.5" lengthAdjust="spacingAndGlyphs">30.5</text>
<text x="478.0" y="580" font-size="13" text-anchor="middle" textLength="12.6" lengthAdjust="spacingAndGlyphs">31</text>
<text x="548.7" y="580" font-size="13" text-anchor="middle" textLength="23.5" lengthAdjust="spacingAndGlyphs">31.5</text>
<text x="619.4" y="580" font-size="13" text-anchor="middle" textLength="12.6" lengthAdjust="spacingAndGlyphs">32</text>
<text x="117.6" y="110.8" font-size="13" text-anchor="end" textLength="24.0" lengthAdjust="spacingAndGlyphs">45.5</text>
<text x="117.6" y="195.7" font-size="13" text-anchor="end" textLength="13.5" lengthAdjust="spacingAndGlyphs">45</text>
<text x="117.6" y="280.5" font-size="13" text-anchor="end" textLength="24.0" lengthAdjust="spacingAndGlyphs">44.5</text>
<text x="117.6" y="365.3" font-size="13" text-anchor="end" textLength="13.5" lengthAdjust="spacingAndGlyphs">44</text>
<text x="117.6" y="450.2" font-size="13" text-anchor="end" textLength="24.0" lengthAdjust="spacingAndGlyphs">43.5</text>
<text x="117.6" y="535.0" font-size="13" text-anchor="end" textLength="13.5" lengthAdjust="spacingAndGlyphs">43</text>
<path d="M124.5,565.0V568.0M195.2,565.0V568.0M265.9,565.0V568.0M336.6,565.0V568.0M407.3,565.0V568.0M478.0,565.0V568.0M548.7,565.0V568.0M619.4,565.0V568.0M118.5,106.2H123.5M118.5,191.1H123.5M118.5,275.9H123.5M118.5,360.7H123.5M118.5,445.6H123.5M118.5,530.4H123.5" stroke="#000" stroke-width="1" fill="none"/>
<text x="74.20" y="42.7" font-size="26" textLength="79.3" lengthAdjust="spacingAndGlyphs">Salinity</text>
<text x="167.50" y="42.7" font-size="26" textLength="67.5" lengthAdjust="spacingAndGlyphs">(ppt).</text>
<text x="244.00" y="42.7" font-size="26" textLength="50.5" lengthAdjust="spacingAndGlyphs">Date</text>
<text x="309.00" y="42.7" font-size="26" textLength="139.0" lengthAdjust="spacingAndGlyphs">2019.07.29.</text>
<text x="460.00" y="42.7" font-size="26" textLength="52.5" lengthAdjust="spacingAndGlyphs">Time</text>
<text x="525.00" y="42.7" font-size="26" textLength="142.5" lengthAdjust="spacingAndGlyphs">00(h):00(m)</text>
<text x="681.00" y="42.7" font-size="26" textLength="43.5" lengthAdjust="spacingAndGlyphs">GMT</text>
<text x="322.5" y="605" font-size="18" stroke="#000" stroke-width="0.15" textLength="87" lengthAdjust="spacingAndGlyphs">Langitude</text>
<text x="420.4" y="605" font-size="18" stroke="#000" stroke-width="0.15" textLength="55.6" lengthAdjust="spacingAndGlyphs">(East)</text>
<g transform="translate(81.4,383) rotate(-90)"><text x="0" y="0" font-size="18" stroke="#000" stroke-width="0.15" textLength="72" lengthAdjust="spacingAndGlyphs">Latitude</text><text x="83" y="0" font-size="18" stroke="#000" stroke-width="0.15" textLength="63.2" lengthAdjust="spacingAndGlyphs">(North)</text></g>
</g>
<g shape-rendering="crispEdges"><rect x="708" y="551.36" width="16" height="5.94" fill="#000085"/><rect x="708" y="545.73" width="16" height="5.94" fill="#000091"/><rect x="708" y="540.09" width="16" height="5.94" fill="#00009c"/><rect x="708" y="534.45" width="16" height="5.94" fill="#0000a8"/><rect x="708" y="528.82" width="16" height="5.94" fill="#0000b4"/><rect x="708" y="523.18" width="16" height="5.94" fill="#0000bf"/><rect x="708" y="517.55" width="16" height="5.94" fill="#0000cb"/><rect x="708" y="511.91" width="16" height="5.94" fill="#0000d6"/><rect x="708" y="506.27" width="16" height="5.94" fill="#0000e2"/><rect x="708" y="500.64" width="16" height="5.94" fill="#0000ee"/><rect x="708" y="495.00" width="16" height="5.94" fill="#0000f9"/><rect x="708" y="489.36" width="16" height="5.94" fill="#0006ff"/><rect x="708" y="483.73" width="16" height="5.94" fill="#0011ff"/><rect x="708" y="478.09" width="16" height="5.94" fill="#001dff"/><rect x="708" y="472.45" width="16" height="5.94" fill="#0029ff"/><rect x="708" y="466.82" width="16" height="5.94" fill="#0034ff"/><rect x="708" y="461.18" width="16" height="5.94" fill="#0040ff"/><rect x="708" y="455.55" width="16" height="5.94" fill="#004bff"/><rect x="708" y="449.91" width="16" height="5.94" fill="#0057ff"/><rect x="708" y="444.27" width="16" height="5.94" fill="#0063ff"/><rect x="708" y="438.64" width="16" height="5.94" fill="#006eff"/><rect x="708" y="433.00" width="16" height="5.94" fill="#007aff"/><rect x="708" y="427.36" width="16" height="5.94" fill="#0085ff"/><rect x="708" y="421.73" width="16" height="5.94" fill="#0091ff"/><rect x="708" y="416.09" width="16" height="5.94" fill="#009cff"/><rect x="708" y="410.45" width="16" height="5.94" fill="#00a8ff"/><rect x="708" y="404.82" width="16" height="5.94" fill="#00b4ff"/><rect x="708" y="399.18" width="16" height="5.94" fill="#00bfff"/><rect x="708" y="393.55" width="16" height="5.94" fill="#00cbff"/><rect x="708" y="387.91" width="16" height="5.94" fill="#00d6ff"/><rect x="708" y="382.27" width="16" height="5.94" fill="#00e2ff"/><rect x="708" y="376.64" width="16" height="5.94" fill="#00eeff"/><rect x="708" y="371.00" width="16" height="5.94" fill="#00f9ff"/><rect x="708" y="365.36" width="16" height="5.94" fill="#06fff9"/><rect x="708" y="359.73" width="16" height="5.94" fill="#11ffee"/><rect x="708" y="354.09" width="16" height="5.94" fill="#1dffe2"/><rect x="708" y="348.45" width="16" height="5.94" fill="#29ffd6"/><rect x="708" y="342.82" width="16" height="5.94" fill="#34ffcb"/><rect x="708" y="337.18" width="16" height="5.94" fill="#40ffbf"/><rect x="708" y="331.55" width="16" height="5.94" fill="#4bffb4"/><rect x="708" y="325.91" width="16" height="5.94" fill="#57ffa8"/><rect x="708" y="320.27" width="16" height="5.94" fill="#63ff9c"/><rect x="708" y="314.64" width="16" height="5.94" fill="#6eff91"/><rect x="708" y="309.00" width="16" height="5.94" fill="#7aff85"/><rect x="708" y="303.36" width="16" height="5.94" fill="#85ff7a"/><rect x="708" y="297.73" width="16" height="5.94" fill="#91ff6e"/><rect x="708" y="292.09" width="16" height="5.94" fill="#9cff63"/><rect x="708" y="286.45" width="16" height="5.94" fill="#a8ff57"/><rect x="708" y="280.82" width="16" height="5.94" fill="#b4ff4b"/><rect x="708" y="275.18" width="16" height="5.94" fill="#bfff40"/><rect x="708" y="269.55" width="16" height="5.94" fill="#cbff34"/><rect x="708" y="263.91" width="16" height="5.94" fill="#d6ff29"/><rect x="708" y="258.27" width="16" height="5.94" fill="#e2ff1d"/><rect x="708" y="252.64" width="16" height="5.94" fill="#eeff11"/><rect x="708" y="247.00" width="16" height="5.94" fill="#f9ff06"/><rect x="708" y="241.36" width="16" height="5.94" fill="#fff900"/><rect x="708" y="235.73" width="16" height="5.94" fill="#ffee00"/><rect x="708" y="230.09" width="16" height="5.94" fill="#ffe200"/><rect x="708" y="224.45" width="16" height="5.94" fill="#ffd600"/><rect x="708" y="218.82" width="16" height="5.94" fill="#ffcb00"/><rect x="708" y="213.18" width="16" height="5.94" fill="#ffbf00"/><rect x="708" y="207.55" width="16" height="5.94" fill="#ffb400"/><rect x="708" y="201.91" width="16" height="5.94" fill="#ffa800"/><rect x="708" y="196.27" width="16" height="5.94" fill="#ff9c00"/><rect x="708" y="190.64" width="16" height="5.94" fill="#ff9100"/><rect x="708" y="185.00" width="16" height="5.94" fill="#ff8500"/><rect x="708" y="179.36" width="16" height="5.94" fill="#ff7a00"/><rect x="708" y="173.73" width="16" height="5.94" fill="#ff6e00"/><rect x="708" y="168.09" width="16" height="5.94" fill="#ff6300"/><rect x="708" y="162.45" width="16" height="5.94" fill="#ff5700"/><rect x="708" y="156.82" width="16" height="5.94" fill="#ff4b00"/><rect x="708" y="151.18" width="16" height="5.94" fill="#ff4000"/><rect x="708" y="145.55" width="16" height="5.94" fill="#ff3400"/><rect x="708" y="139.91" width="16" height="5.94" fill="#ff2900"/><rect x="708" y="134.27" width="16" height="5.94" fill="#ff1d00"/><rect x="708" y="128.64" width="16" height="5.94" fill="#ff1100"/><rect x="708" y="123.00" width="16" height="5.94" fill="#ff0600"/><rect x="708" y="117.36" width="16" height="5.94" fill="#f90000"/><rect x="708" y="111.73" width="16" height="5.94" fill="#ee0000"/><rect x="708" y="106.09" width="16" height="5.94" fill="#e20000"/><rect x="708" y="100.45" width="16" height="5.94" fill="#d60000"/><rect x="708" y="94.82" width="16" height="5.94" fill="#cb0000"/><rect x="708" y="89.18" width="16" height="5.94" fill="#bf0000"/><rect x="708" y="83.55" width="16" height="5.94" fill="#b40000"/><rect x="708" y="77.91" width="16" height="5.94" fill="#a80000"/><rect x="708" y="72.27" width="16" height="5.94" fill="#9c0000"/><rect x="708" y="66.64" width="16" height="5.94" fill="#910000"/><rect x="708" y="61.00" width="16" height="5.94" fill="#850000"/></g>
<g style="filter:grayscale(1)">
<text x="735.5" y="74.0" font-size="13.4" textLength="28.8" lengthAdjust="spacingAndGlyphs">18.7</text>
<text x="735.5" y="190.0" font-size="13.4" textLength="28.8" lengthAdjust="spacingAndGlyphs">16.5</text>
<text x="735.5" y="311.6" font-size="13.4" textLength="28.8" lengthAdjust="spacingAndGlyphs">14.3</text>
<text x="735.5" y="434.0" font-size="13.4" textLength="28.8" lengthAdjust="spacingAndGlyphs">12.0</text>
<text x="735.5" y="556.0" font-size="13.4" textLength="28.8" lengthAdjust="spacingAndGlyphs">9.85</text>
</g>
</svg></body></html>
